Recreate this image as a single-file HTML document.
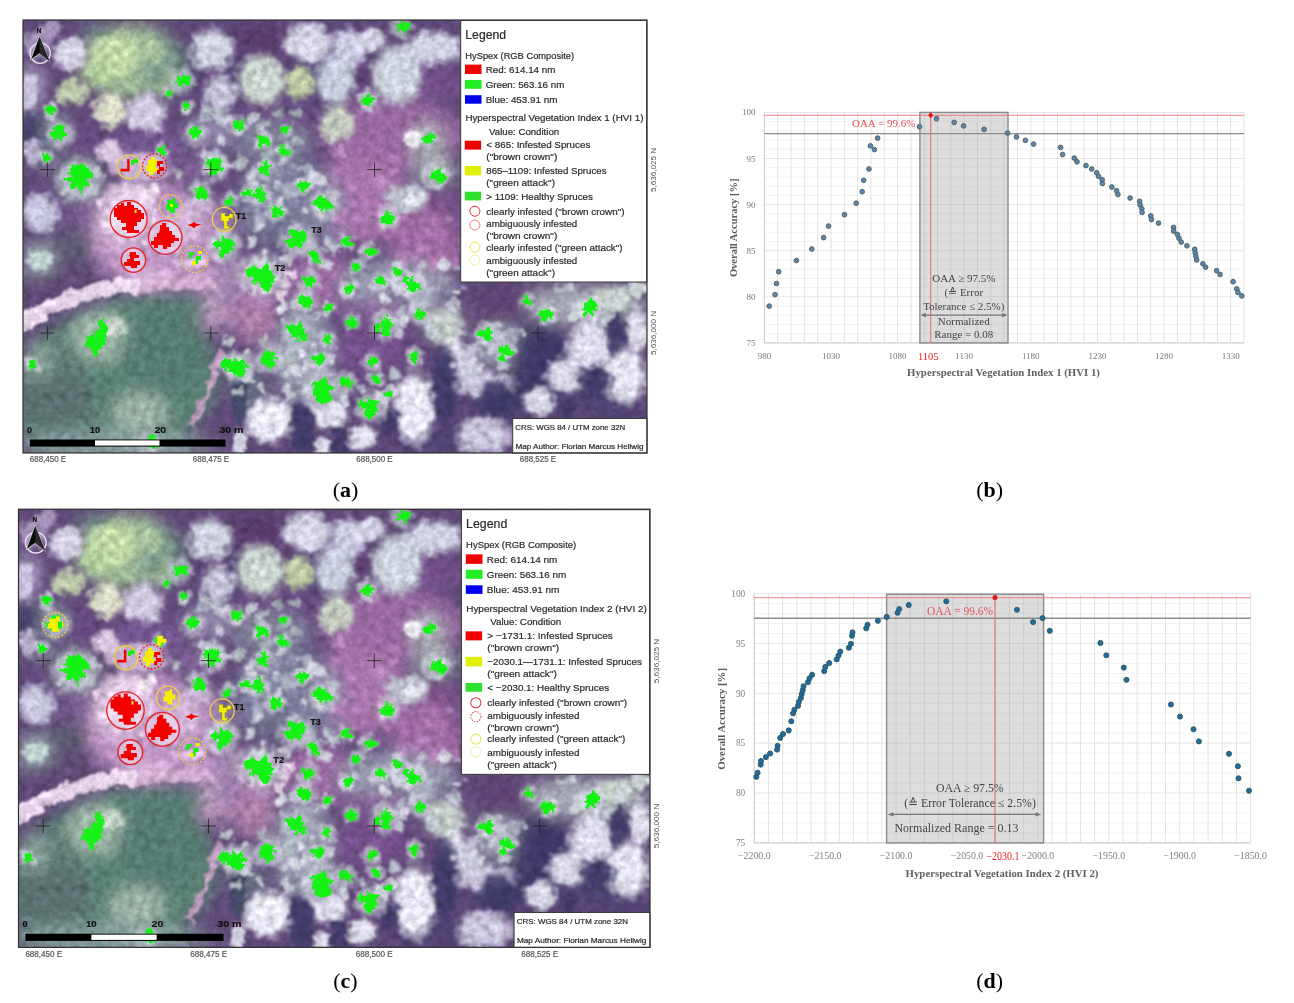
<!DOCTYPE html>
<html><head><meta charset="utf-8"><style>
html,body{margin:0;padding:0;background:#fff;}
#root{position:relative;width:1294px;height:1003px;overflow:hidden;background:#fff;}
svg{position:absolute;left:0;top:0;filter:blur(0.4px);}
</style></head><body><div id="root">
<svg width="1294" height="1003" viewBox="0 0 1294 1003">
<defs>

<filter id="blW" x="-20%" y="-20%" width="140%" height="140%"><feGaussianBlur stdDeviation="8"/></filter>
<filter id="crown" x="-10%" y="-10%" width="120%" height="120%">
 <feTurbulence type="fractalNoise" baseFrequency="0.11" numOctaves="2" seed="3" result="n"/>
 <feDisplacementMap in="SourceGraphic" in2="n" scale="14" xChannelSelector="R" yChannelSelector="G" result="d"/>
 <feGaussianBlur in="d" stdDeviation="1.3"/>
</filter>
<filter id="gjag" x="-10%" y="-10%" width="120%" height="120%">
 <feTurbulence type="fractalNoise" baseFrequency="0.3" numOctaves="1" seed="5" result="n"/>
 <feDisplacementMap in="SourceGraphic" in2="n" scale="7" xChannelSelector="R" yChannelSelector="G"/>
</filter>
<filter id="texmod" x="0" y="0" width="1" height="1" color-interpolation-filters="sRGB">
 <feTurbulence type="fractalNoise" baseFrequency="0.13" numOctaves="3" seed="2" result="n"/>
 <feColorMatrix in="n" type="matrix" values="0.33 0.33 0.33 0 0  0.33 0.33 0.33 0 0  0.33 0.33 0.33 0 0  0 0 0 0 1" result="g"/>
 <feComposite in="SourceGraphic" in2="g" operator="arithmetic" k1="0.7" k2="0.65" k3="0" k4="0"/>
</filter>
<radialGradient id="rgs"><stop offset="0.6" stop-color="#fff"/><stop offset="1" stop-color="#000"/></radialGradient>
<mask id="soft" maskContentUnits="objectBoundingBox"><rect width="1" height="1" fill="url(#rgs)"/></mask>

<clipPath id="mclip"><rect x="23" y="20" width="624" height="433"/></clipPath>

<g id="mapbase" clip-path="url(#mclip)">
<g filter="url(#texmod)">
<rect x="23" y="20" width="624" height="433" fill="#604a78"/>
<g filter="url(#blW)">
<ellipse cx="130" cy="62" rx="52" ry="38" fill="#a0bc98" fill-opacity="1"/>
<ellipse cx="162" cy="66" rx="22" ry="30" fill="#7a9a8c" fill-opacity="0.9"/>
<ellipse cx="98" cy="33" rx="18" ry="9" fill="#6a8a88" fill-opacity="0.8"/>
<ellipse cx="193" cy="60" rx="10" ry="16" fill="#4a3a6a" fill-opacity="0.9"/>
<ellipse cx="35" cy="128" rx="16" ry="20" fill="#3e3a66" fill-opacity="0.9"/>
<ellipse cx="56" cy="128" rx="16" ry="16" fill="#8a9aa0" fill-opacity="0.7"/>
<ellipse cx="86" cy="138" rx="16" ry="22" fill="#6a4a84" fill-opacity="0.8"/>
<ellipse cx="150" cy="145" rx="35" ry="18" fill="#7a5a98" fill-opacity="0.8"/>
<ellipse cx="210" cy="132" rx="24" ry="18" fill="#a8a0c0" fill-opacity="0.7"/>
<ellipse cx="33" cy="85" rx="12" ry="20" fill="#c0b8d8" fill-opacity="0.8"/>
<ellipse cx="260" cy="40" rx="26" ry="18" fill="#5a3a6a" fill-opacity="0.9"/>
<ellipse cx="238" cy="80" rx="8" ry="25" fill="#3e3a66" fill-opacity="0.8"/>
<ellipse cx="316" cy="82" rx="7" ry="25" fill="#4a4a70" fill-opacity="0.8"/>
<ellipse cx="357" cy="73" rx="10" ry="10" fill="#5a3a6a" fill-opacity="0.8"/>
<ellipse cx="278" cy="116" rx="45" ry="14" fill="#6a4a84" fill-opacity="0.85"/>
<ellipse cx="272" cy="142" rx="40" ry="22" fill="#8a8ea4" fill-opacity="0.8"/>
<ellipse cx="392" cy="135" rx="72" ry="36" fill="#9a6aa2" fill-opacity="1.0"/>
<ellipse cx="436" cy="82" rx="25" ry="18" fill="#7a5290" fill-opacity="0.8"/>
<ellipse cx="428" cy="143" rx="18" ry="22" fill="#a8b4b0" fill-opacity="0.8"/>
<ellipse cx="79" cy="180" rx="22" ry="20" fill="#98a8a8" fill-opacity="0.8"/>
<ellipse cx="46" cy="158" rx="12" ry="12" fill="#8a9aa8" fill-opacity="0.8"/>
<ellipse cx="44" cy="197" rx="20" ry="8" fill="#6a4a84" fill-opacity="0.7"/>
<ellipse cx="85" cy="216" rx="30" ry="18" fill="#7a5a94" fill-opacity="0.8"/>
<ellipse cx="78" cy="245" rx="26" ry="20" fill="#5a5a70" fill-opacity="0.85"/>
<ellipse cx="40" cy="262" rx="16" ry="22" fill="#a0b4b4" fill-opacity="0.85"/>
<ellipse cx="150" cy="235" rx="60" ry="55" fill="#c096c4" fill-opacity="1.0"/>
<ellipse cx="124" cy="216" rx="25" ry="28" fill="#ecd8ec" fill-opacity="0.8"/>
<ellipse cx="63" cy="280" rx="40" ry="10" fill="#5e4a70" fill-opacity="0.8"/>
<ellipse cx="200" cy="170" rx="30" ry="12" fill="#8a6aa0" fill-opacity="0.8"/>
<ellipse cx="210" cy="230" rx="25" ry="35" fill="#a088b0" fill-opacity="0.8"/>
<ellipse cx="217" cy="290" rx="16" ry="20" fill="#c0a0c8" fill-opacity="0.8"/>
<ellipse cx="200" cy="250" rx="30" ry="40" fill="#b890c0" fill-opacity="0.9"/>
<ellipse cx="360" cy="200" rx="48" ry="44" fill="#a876ac" fill-opacity="1.0"/>
<ellipse cx="426" cy="205" rx="34" ry="14" fill="#86568e" fill-opacity="0.85"/>
<ellipse cx="426" cy="245" rx="36" ry="32" fill="#a06ca4" fill-opacity="1.0"/>
<ellipse cx="290" cy="205" rx="55" ry="45" fill="#8890a8" fill-opacity="0.75"/>
<ellipse cx="282" cy="231" rx="22" ry="18" fill="#6a6a88" fill-opacity="0.8"/>
<ellipse cx="245" cy="272" rx="12" ry="12" fill="#ecd8ec" fill-opacity="0.8"/>
<ellipse cx="258" cy="297" rx="25" ry="13" fill="#b888bc" fill-opacity="0.85"/>
<ellipse cx="318" cy="280" rx="34" ry="30" fill="#9c6aa2" fill-opacity="0.95"/>
<ellipse cx="397" cy="285" rx="60" ry="25" fill="#a8b0c0" fill-opacity="0.75"/>
<ellipse cx="393" cy="291" rx="7" ry="8" fill="#3e3a66" fill-opacity="0.8"/>
<ellipse cx="436" cy="172" rx="25" ry="12" fill="#a8b8b4" fill-opacity="0.8"/>
<ellipse cx="431" cy="225" rx="6" ry="6" fill="#d0a0c8" fill-opacity="0.8"/>
<ellipse cx="125" cy="375" rx="95" ry="72" fill="#5c8276" fill-opacity="1.0"/>
<ellipse cx="160" cy="308" rx="62" ry="14" fill="#5c8276" fill-opacity="1.0"/>
<ellipse cx="55" cy="395" rx="40" ry="65" fill="#5c7c74" fill-opacity="1.0"/>
<ellipse cx="110" cy="445" rx="95" ry="16" fill="#7a9696" fill-opacity="1.0"/>
<ellipse cx="100" cy="336" rx="28" ry="26" fill="#a8c0b0" fill-opacity="0.9"/>
<ellipse cx="165" cy="350" rx="45" ry="45" fill="#587a76" fill-opacity="0.9"/>
<ellipse cx="60" cy="400" rx="36" ry="28" fill="#5a7070" fill-opacity="0.9"/>
<ellipse cx="140" cy="412" rx="28" ry="20" fill="#a8bcb0" fill-opacity="0.85"/>
<ellipse cx="38" cy="360" rx="16" ry="20" fill="#90a8a0" fill-opacity="0.8"/>
<ellipse cx="120" cy="444" rx="100" ry="12" fill="#8aa0a0" fill-opacity="0.7"/>
<ellipse cx="217" cy="316" rx="16" ry="16" fill="#c8a0c8" fill-opacity="0.85"/>
<ellipse cx="255" cy="322" rx="22" ry="22" fill="#b888b0" fill-opacity="0.85"/>
<ellipse cx="304" cy="355" rx="28" ry="52" fill="#a8b0c0" fill-opacity="0.8"/>
<ellipse cx="371" cy="349" rx="40" ry="22" fill="#7a5290" fill-opacity="0.85"/>
<ellipse cx="376" cy="311" rx="44" ry="12" fill="#8a6098" fill-opacity="0.8"/>
<ellipse cx="444" cy="326" rx="20" ry="17" fill="#b8c4c0" fill-opacity="0.8"/>
<ellipse cx="251" cy="390" rx="18" ry="18" fill="#6a7888" fill-opacity="0.85"/>
<ellipse cx="505" cy="307" rx="20" ry="18" fill="#6a4a84" fill-opacity="0.85"/>
<ellipse cx="500" cy="347" rx="28" ry="24" fill="#a0a8b4" fill-opacity="0.8"/>
<ellipse cx="584" cy="304" rx="63" ry="20" fill="#b8c0c4" fill-opacity="0.8"/>
<ellipse cx="545" cy="353" rx="18" ry="25" fill="#4a3a6e" fill-opacity="0.9"/>
<ellipse cx="540" cy="365" rx="30" ry="45" fill="#3e3a66" fill-opacity="0.95"/>
<ellipse cx="500" cy="400" rx="25" ry="20" fill="#3e3a66" fill-opacity="0.9"/>
<ellipse cx="600" cy="390" rx="30" ry="25" fill="#48406e" fill-opacity="0.9"/>
<ellipse cx="470" cy="440" rx="30" ry="15" fill="#4a4070" fill-opacity="0.9"/>
<ellipse cx="615" cy="330" rx="12" ry="25" fill="#3e3a66" fill-opacity="0.9"/>
<ellipse cx="505" cy="305" rx="25" ry="20" fill="#5e4272" fill-opacity="0.9"/>
<ellipse cx="630" cy="430" rx="20" ry="25" fill="#4a4070" fill-opacity="0.8"/>
<ellipse cx="420" cy="440" rx="25" ry="15" fill="#48406e" fill-opacity="0.8"/>
</g>
<g filter="url(#crown)">
<ellipse cx="70" cy="54" rx="20.8" ry="19.5" fill="#dcd8ec" fill-opacity="0.95" mask="url(#soft)"/>
<ellipse cx="36" cy="44" rx="16.9" ry="16.9" fill="#b4a6cc" fill-opacity="0.8" mask="url(#soft)"/>
<ellipse cx="29" cy="92" rx="11.7" ry="26.0" fill="#ccc4e0" fill-opacity="0.9" mask="url(#soft)"/>
<ellipse cx="52" cy="30" rx="13.0" ry="10.4" fill="#c0b4d4" fill-opacity="0.7" mask="url(#soft)"/>
<ellipse cx="115" cy="55" rx="28.6" ry="26.0" fill="#c8dca8" fill-opacity="0.9" mask="url(#soft)"/>
<ellipse cx="150" cy="50" rx="18.2" ry="18.2" fill="#b0c8a0" fill-opacity="0.8" mask="url(#soft)"/>
<ellipse cx="168" cy="84" rx="15.6" ry="15.6" fill="#98b090" fill-opacity="0.8" mask="url(#soft)"/>
<ellipse cx="100" cy="72" rx="18.2" ry="15.6" fill="#b8d4a0" fill-opacity="0.8" mask="url(#soft)"/>
<ellipse cx="72" cy="92" rx="19.5" ry="15.6" fill="#c8d8b0" fill-opacity="0.9" mask="url(#soft)"/>
<ellipse cx="110" cy="111" rx="20.8" ry="20.8" fill="#e0e4cc" fill-opacity="0.95" mask="url(#soft)"/>
<ellipse cx="146" cy="114" rx="24.7" ry="23.4" fill="#d8d0e8" fill-opacity="0.95" mask="url(#soft)"/>
<ellipse cx="212" cy="50" rx="26.0" ry="24.7" fill="#d8dce8" fill-opacity="0.95" mask="url(#soft)"/>
<ellipse cx="220" cy="94" rx="20.8" ry="22.1" fill="#d0d0e4" fill-opacity="0.9" mask="url(#soft)"/>
<ellipse cx="110" cy="152" rx="15.6" ry="15.6" fill="#e0d0e8" fill-opacity="0.95" mask="url(#soft)"/>
<ellipse cx="32" cy="152" rx="11.7" ry="15.6" fill="#c8c0dc" fill-opacity="0.85" mask="url(#soft)"/>
<ellipse cx="40" cy="213" rx="23.4" ry="22.1" fill="#d0d0e8" fill-opacity="0.95" mask="url(#soft)"/>
<ellipse cx="39" cy="260" rx="15.6" ry="13.0" fill="#c8dcd8" fill-opacity="0.9" mask="url(#soft)"/>
<ellipse cx="308" cy="42" rx="29.9" ry="23.4" fill="#dcdcec" fill-opacity="0.97" mask="url(#soft)"/>
<ellipse cx="350" cy="48" rx="22.1" ry="22.1" fill="#d4d4ec" fill-opacity="0.95" mask="url(#soft)"/>
<ellipse cx="370" cy="40" rx="19.5" ry="14.3" fill="#dcdcec" fill-opacity="0.9" mask="url(#soft)"/>
<ellipse cx="433" cy="48" rx="35.1" ry="19.5" fill="#d8dcec" fill-opacity="0.95" mask="url(#soft)"/>
<ellipse cx="397" cy="75" rx="31.2" ry="35.1" fill="#d4dce4" fill-opacity="0.95" mask="url(#soft)"/>
<ellipse cx="336" cy="80" rx="23.4" ry="31.2" fill="#ccd4e4" fill-opacity="0.95" mask="url(#soft)"/>
<ellipse cx="262" cy="80" rx="29.9" ry="31.2" fill="#d0dcd4" fill-opacity="0.95" mask="url(#soft)"/>
<ellipse cx="300" cy="83" rx="18.2" ry="19.5" fill="#c8d8a8" fill-opacity="0.9" mask="url(#soft)"/>
<ellipse cx="337" cy="124" rx="22.1" ry="22.1" fill="#c8d4c0" fill-opacity="0.9" mask="url(#soft)"/>
<ellipse cx="413" cy="138" rx="10.4" ry="13.0" fill="#f0f0f6" fill-opacity="0.95" mask="url(#soft)"/>
<ellipse cx="407" cy="198" rx="26.0" ry="18.2" fill="#c0c8d0" fill-opacity="0.9" mask="url(#soft)"/>
<ellipse cx="413" cy="199" rx="10.4" ry="9.1" fill="#f0f0f6" fill-opacity="0.9" mask="url(#soft)"/>
<ellipse cx="117" cy="327" rx="13.0" ry="13.0" fill="#d0dcd0" fill-opacity="0.8" mask="url(#soft)"/>
<ellipse cx="270" cy="420" rx="29.9" ry="27.3" fill="#e8e8f4" fill-opacity="1.0" mask="url(#soft)"/>
<ellipse cx="330" cy="415" rx="22.1" ry="16.9" fill="#e4e4f0" fill-opacity="0.95" mask="url(#soft)"/>
<ellipse cx="362" cy="438" rx="16.9" ry="16.9" fill="#e4e4f0" fill-opacity="0.95" mask="url(#soft)"/>
<ellipse cx="415" cy="408" rx="24.7" ry="42.9" fill="#e8e8f4" fill-opacity="1.0" mask="url(#soft)"/>
<ellipse cx="454" cy="353" rx="11.7" ry="23.4" fill="#e0e0ee" fill-opacity="0.95" mask="url(#soft)"/>
<ellipse cx="444" cy="326" rx="23.4" ry="22.1" fill="#c8d0cc" fill-opacity="0.85" mask="url(#soft)"/>
<ellipse cx="240" cy="442" rx="9.1" ry="16.9" fill="#e0e0ee" fill-opacity="0.9" mask="url(#soft)"/>
<ellipse cx="323" cy="447" rx="13.0" ry="10.4" fill="#e0e0ee" fill-opacity="0.9" mask="url(#soft)"/>
<ellipse cx="302" cy="429" rx="14.3" ry="33.8" fill="#3e3a66" fill-opacity="0.9" mask="url(#soft)"/>
<ellipse cx="445" cy="387" rx="15.6" ry="48.1" fill="#3e3a66" fill-opacity="0.9" mask="url(#soft)"/>
<ellipse cx="389" cy="421" rx="11.7" ry="15.6" fill="#3e3a66" fill-opacity="0.85" mask="url(#soft)"/>
<ellipse cx="340" cy="441" rx="9.1" ry="18.2" fill="#3e3a66" fill-opacity="0.85" mask="url(#soft)"/>
<ellipse cx="240" cy="397" rx="10.4" ry="33.8" fill="#3e4a66" fill-opacity="0.85" mask="url(#soft)"/>
<ellipse cx="590" cy="345" rx="28.6" ry="28.6" fill="#dcdcec" fill-opacity="1.0" mask="url(#soft)"/>
<ellipse cx="638" cy="330" rx="13.0" ry="26.0" fill="#e0e0ee" fill-opacity="0.95" mask="url(#soft)"/>
<ellipse cx="624" cy="376" rx="27.3" ry="33.8" fill="#e4e4f0" fill-opacity="1.0" mask="url(#soft)"/>
<ellipse cx="567" cy="375" rx="24.7" ry="22.1" fill="#e0e0ee" fill-opacity="0.95" mask="url(#soft)"/>
<ellipse cx="468" cy="362" rx="16.9" ry="20.8" fill="#d8d8ea" fill-opacity="0.9" mask="url(#soft)"/>
<ellipse cx="484" cy="385" rx="36.4" ry="15.6" fill="#d4d0e6" fill-opacity="0.9" mask="url(#soft)"/>
<ellipse cx="539" cy="402" rx="18.2" ry="18.2" fill="#e0e0ee" fill-opacity="0.95" mask="url(#soft)"/>
<ellipse cx="484" cy="436" rx="33.8" ry="23.4" fill="#d8d4ea" fill-opacity="0.9" mask="url(#soft)"/>
<ellipse cx="496" cy="397" rx="19.5" ry="20.8" fill="#3e3a66" fill-opacity="0.9" mask="url(#soft)"/>
<ellipse cx="594" cy="380" rx="22.1" ry="15.6" fill="#3e3a66" fill-opacity="0.85" mask="url(#soft)"/>
<ellipse cx="613" cy="332" rx="10.4" ry="27.3" fill="#3e3a66" fill-opacity="0.85" mask="url(#soft)"/>
<ellipse cx="568" cy="411" rx="10.4" ry="11.7" fill="#3e3a66" fill-opacity="0.8" mask="url(#soft)"/>
<ellipse cx="612" cy="300" rx="23.4" ry="16.9" fill="#c8d4cc" fill-opacity="0.9" mask="url(#soft)"/>
<ellipse cx="128" cy="195" rx="26.0" ry="15.6" fill="#e8d0ea" fill-opacity="0.9" mask="url(#soft)"/>
<ellipse cx="140" cy="166" rx="36.4" ry="18.2" fill="#dcc4e0" fill-opacity="0.85" mask="url(#soft)"/>
<ellipse cx="185" cy="225" rx="23.4" ry="23.4" fill="#d8bcdc" fill-opacity="0.85" mask="url(#soft)"/>
<ellipse cx="150" cy="278" rx="32.5" ry="13.0" fill="#d8b8dc" fill-opacity="0.8" mask="url(#soft)"/>
<ellipse cx="200" cy="205" rx="15.6" ry="13.0" fill="#d0b4d8" fill-opacity="0.8" mask="url(#soft)"/>
<ellipse cx="308.9" cy="167.5" rx="5.3" ry="5.3" fill="#b0b8c8" fill-opacity="0.9" mask="url(#soft)"/>
<ellipse cx="251.9" cy="175.2" rx="7.8" ry="7.8" fill="#c8ccd8" fill-opacity="0.9" mask="url(#soft)"/>
<ellipse cx="303.3" cy="168.2" rx="4.4" ry="4.4" fill="#b0b8c8" fill-opacity="0.9" mask="url(#soft)"/>
<ellipse cx="293.6" cy="167.7" rx="4.9" ry="4.9" fill="#9aa0b8" fill-opacity="0.9" mask="url(#soft)"/>
<ellipse cx="261.1" cy="223.9" rx="8.1" ry="8.1" fill="#c8ccd8" fill-opacity="0.9" mask="url(#soft)"/>
<ellipse cx="322.5" cy="181.0" rx="6.1" ry="6.1" fill="#d8dae6" fill-opacity="0.9" mask="url(#soft)"/>
<ellipse cx="253.7" cy="260.7" rx="5.7" ry="5.7" fill="#c8ccd8" fill-opacity="0.9" mask="url(#soft)"/>
<ellipse cx="279.3" cy="200.9" rx="5.7" ry="5.7" fill="#d8dae6" fill-opacity="0.9" mask="url(#soft)"/>
<ellipse cx="328.0" cy="238.0" rx="6.7" ry="6.7" fill="#9aa0b8" fill-opacity="0.9" mask="url(#soft)"/>
<ellipse cx="245.0" cy="194.3" rx="7.2" ry="7.2" fill="#d8dae6" fill-opacity="0.9" mask="url(#soft)"/>
<ellipse cx="301.8" cy="235.5" rx="4.1" ry="4.1" fill="#b0b8c8" fill-opacity="0.9" mask="url(#soft)"/>
<ellipse cx="324.1" cy="263.5" rx="8.3" ry="8.3" fill="#c8ccd8" fill-opacity="0.9" mask="url(#soft)"/>
<ellipse cx="279.3" cy="210.3" rx="8.2" ry="8.2" fill="#b0b8c8" fill-opacity="0.9" mask="url(#soft)"/>
<ellipse cx="278.2" cy="186.0" rx="5.3" ry="5.3" fill="#c8ccd8" fill-opacity="0.9" mask="url(#soft)"/>
<ellipse cx="305.4" cy="182.1" rx="7.7" ry="7.7" fill="#b0b8c8" fill-opacity="0.9" mask="url(#soft)"/>
<ellipse cx="288.7" cy="192.0" rx="8.7" ry="8.7" fill="#b0b8c8" fill-opacity="0.9" mask="url(#soft)"/>
<ellipse cx="314.0" cy="249.3" rx="7.9" ry="7.9" fill="#b0b8c8" fill-opacity="0.9" mask="url(#soft)"/>
<ellipse cx="329.7" cy="245.5" rx="6.0" ry="6.0" fill="#c8ccd8" fill-opacity="0.9" mask="url(#soft)"/>
<ellipse cx="260.1" cy="259.3" rx="8.5" ry="8.5" fill="#d8dae6" fill-opacity="0.9" mask="url(#soft)"/>
<ellipse cx="260.2" cy="214.9" rx="8.5" ry="8.5" fill="#9aa0b8" fill-opacity="0.9" mask="url(#soft)"/>
<ellipse cx="252.3" cy="179.0" rx="7.8" ry="7.8" fill="#d8dae6" fill-opacity="0.9" mask="url(#soft)"/>
<ellipse cx="321.2" cy="207.8" rx="6.9" ry="6.9" fill="#d8dae6" fill-opacity="0.9" mask="url(#soft)"/>
<ellipse cx="261.0" cy="264.8" rx="6.5" ry="6.5" fill="#c8ccd8" fill-opacity="0.9" mask="url(#soft)"/>
<ellipse cx="322.2" cy="251.1" rx="4.7" ry="4.7" fill="#b0b8c8" fill-opacity="0.9" mask="url(#soft)"/>
<ellipse cx="326.3" cy="207.2" rx="4.2" ry="4.2" fill="#9aa0b8" fill-opacity="0.9" mask="url(#soft)"/>
<ellipse cx="303.9" cy="211.8" rx="5.2" ry="5.2" fill="#c8ccd8" fill-opacity="0.9" mask="url(#soft)"/>
<ellipse cx="313.6" cy="176.5" rx="8.5" ry="8.5" fill="#d8dae6" fill-opacity="0.9" mask="url(#soft)"/>
<ellipse cx="323.6" cy="199.0" rx="5.4" ry="5.4" fill="#b0b8c8" fill-opacity="0.9" mask="url(#soft)"/>
<ellipse cx="287.7" cy="260.4" rx="8.5" ry="8.5" fill="#d8dae6" fill-opacity="0.9" mask="url(#soft)"/>
<ellipse cx="346.8" cy="241.2" rx="6.5" ry="6.5" fill="#c8ccd8" fill-opacity="0.9" mask="url(#soft)"/>
<ellipse cx="335.2" cy="194.8" rx="7.2" ry="7.2" fill="#b0b8c8" fill-opacity="0.9" mask="url(#soft)"/>
<ellipse cx="253.4" cy="241.3" rx="6.7" ry="6.7" fill="#c8ccd8" fill-opacity="0.9" mask="url(#soft)"/>
<ellipse cx="304.3" cy="213.9" rx="4.5" ry="4.5" fill="#d8dae6" fill-opacity="0.9" mask="url(#soft)"/>
<ellipse cx="336.2" cy="248.2" rx="5.5" ry="5.5" fill="#c8ccd8" fill-opacity="0.9" mask="url(#soft)"/>
<ellipse cx="368.4" cy="288.1" rx="4.2" ry="4.2" fill="#d8dae6" fill-opacity="0.9" mask="url(#soft)"/>
<ellipse cx="397.3" cy="265.2" rx="6.9" ry="6.9" fill="#c8ccd8" fill-opacity="0.9" mask="url(#soft)"/>
<ellipse cx="355.2" cy="283.9" rx="6.0" ry="6.0" fill="#b0b8c8" fill-opacity="0.9" mask="url(#soft)"/>
<ellipse cx="402.3" cy="289.9" rx="7.7" ry="7.7" fill="#d8dae6" fill-opacity="0.9" mask="url(#soft)"/>
<ellipse cx="429.1" cy="293.7" rx="6.7" ry="6.7" fill="#b0b8c8" fill-opacity="0.9" mask="url(#soft)"/>
<ellipse cx="457.4" cy="291.9" rx="5.6" ry="5.6" fill="#d8dae6" fill-opacity="0.9" mask="url(#soft)"/>
<ellipse cx="393.3" cy="273.4" rx="4.1" ry="4.1" fill="#c8ccd8" fill-opacity="0.9" mask="url(#soft)"/>
<ellipse cx="409.4" cy="272.6" rx="4.8" ry="4.8" fill="#c8ccd8" fill-opacity="0.9" mask="url(#soft)"/>
<ellipse cx="423.5" cy="264.7" rx="4.2" ry="4.2" fill="#c8ccd8" fill-opacity="0.9" mask="url(#soft)"/>
<ellipse cx="441.4" cy="265.3" rx="4.8" ry="4.8" fill="#d8dae6" fill-opacity="0.9" mask="url(#soft)"/>
<ellipse cx="397.3" cy="286.8" rx="6.7" ry="6.7" fill="#d8dae6" fill-opacity="0.9" mask="url(#soft)"/>
<ellipse cx="408.0" cy="273.2" rx="5.7" ry="5.7" fill="#b0b8c8" fill-opacity="0.9" mask="url(#soft)"/>
<ellipse cx="362.5" cy="266.5" rx="5.6" ry="5.6" fill="#b0b8c8" fill-opacity="0.9" mask="url(#soft)"/>
<ellipse cx="388.5" cy="301.7" rx="4.1" ry="4.1" fill="#d8dae6" fill-opacity="0.9" mask="url(#soft)"/>
<ellipse cx="456.1" cy="266.5" rx="5.5" ry="5.5" fill="#b0b8c8" fill-opacity="0.9" mask="url(#soft)"/>
<ellipse cx="434.5" cy="267.0" rx="4.6" ry="4.6" fill="#d8dae6" fill-opacity="0.9" mask="url(#soft)"/>
<ellipse cx="392.9" cy="281.4" rx="5.0" ry="5.0" fill="#c8ccd8" fill-opacity="0.9" mask="url(#soft)"/>
<ellipse cx="443.2" cy="265.5" rx="7.1" ry="7.1" fill="#d8dae6" fill-opacity="0.9" mask="url(#soft)"/>
<ellipse cx="351.6" cy="292.0" rx="6.0" ry="6.0" fill="#c8ccd8" fill-opacity="0.9" mask="url(#soft)"/>
<ellipse cx="454.3" cy="304.6" rx="7.2" ry="7.2" fill="#c8ccd8" fill-opacity="0.9" mask="url(#soft)"/>
<ellipse cx="388.0" cy="284.1" rx="7.3" ry="7.3" fill="#c8ccd8" fill-opacity="0.9" mask="url(#soft)"/>
<ellipse cx="359.4" cy="262.1" rx="5.4" ry="5.4" fill="#b0b8c8" fill-opacity="0.9" mask="url(#soft)"/>
<ellipse cx="294.8" cy="369.7" rx="6.7" ry="6.7" fill="#dcdce8" fill-opacity="0.9" mask="url(#soft)"/>
<ellipse cx="314.4" cy="348.7" rx="4.6" ry="4.6" fill="#c8ccd8" fill-opacity="0.9" mask="url(#soft)"/>
<ellipse cx="330.4" cy="357.9" rx="6.0" ry="6.0" fill="#dcdce8" fill-opacity="0.9" mask="url(#soft)"/>
<ellipse cx="296.3" cy="305.0" rx="5.8" ry="5.8" fill="#dcdce8" fill-opacity="0.9" mask="url(#soft)"/>
<ellipse cx="288.2" cy="396.1" rx="4.2" ry="4.2" fill="#c8ccd8" fill-opacity="0.9" mask="url(#soft)"/>
<ellipse cx="283.6" cy="306.8" rx="7.3" ry="7.3" fill="#b8c0cc" fill-opacity="0.9" mask="url(#soft)"/>
<ellipse cx="286.2" cy="389.0" rx="4.9" ry="4.9" fill="#dcdce8" fill-opacity="0.9" mask="url(#soft)"/>
<ellipse cx="282.1" cy="308.2" rx="6.5" ry="6.5" fill="#dcdce8" fill-opacity="0.9" mask="url(#soft)"/>
<ellipse cx="307.2" cy="393.5" rx="4.7" ry="4.7" fill="#dcdce8" fill-opacity="0.9" mask="url(#soft)"/>
<ellipse cx="296.3" cy="326.6" rx="4.4" ry="4.4" fill="#dcdce8" fill-opacity="0.9" mask="url(#soft)"/>
<ellipse cx="295.6" cy="331.6" rx="6.8" ry="6.8" fill="#c8ccd8" fill-opacity="0.9" mask="url(#soft)"/>
<ellipse cx="280.5" cy="362.1" rx="6.1" ry="6.1" fill="#c8ccd8" fill-opacity="0.9" mask="url(#soft)"/>
<ellipse cx="283.8" cy="321.3" rx="4.9" ry="4.9" fill="#b8c0cc" fill-opacity="0.9" mask="url(#soft)"/>
<ellipse cx="325.8" cy="387.9" rx="5.3" ry="5.3" fill="#c8ccd8" fill-opacity="0.9" mask="url(#soft)"/>
<ellipse cx="302.8" cy="354.3" rx="5.1" ry="5.1" fill="#dcdce8" fill-opacity="0.9" mask="url(#soft)"/>
<ellipse cx="307.5" cy="366.8" rx="6.1" ry="6.1" fill="#dcdce8" fill-opacity="0.9" mask="url(#soft)"/>
<ellipse cx="285.4" cy="387.8" rx="4.9" ry="4.9" fill="#c8ccd8" fill-opacity="0.9" mask="url(#soft)"/>
<ellipse cx="318.6" cy="315.5" rx="5.0" ry="5.0" fill="#c8ccd8" fill-opacity="0.9" mask="url(#soft)"/>
<ellipse cx="512.2" cy="333.6" rx="6.4" ry="6.4" fill="#b0b8c8" fill-opacity="0.9" mask="url(#soft)"/>
<ellipse cx="500.3" cy="335.8" rx="7.4" ry="7.4" fill="#c8ccd8" fill-opacity="0.9" mask="url(#soft)"/>
<ellipse cx="477.2" cy="343.9" rx="5.0" ry="5.0" fill="#c8ccd8" fill-opacity="0.9" mask="url(#soft)"/>
<ellipse cx="490.7" cy="330.1" rx="7.7" ry="7.7" fill="#c8ccd8" fill-opacity="0.9" mask="url(#soft)"/>
<ellipse cx="513.5" cy="349.9" rx="5.6" ry="5.6" fill="#c8ccd8" fill-opacity="0.9" mask="url(#soft)"/>
<ellipse cx="478.3" cy="368.4" rx="6.6" ry="6.6" fill="#c8ccd8" fill-opacity="0.9" mask="url(#soft)"/>
<ellipse cx="502.6" cy="363.2" rx="6.2" ry="6.2" fill="#c8ccd8" fill-opacity="0.9" mask="url(#soft)"/>
<ellipse cx="496.1" cy="326.0" rx="5.3" ry="5.3" fill="#c8ccd8" fill-opacity="0.9" mask="url(#soft)"/>
<ellipse cx="522.3" cy="333.9" rx="4.9" ry="4.9" fill="#c8ccd8" fill-opacity="0.9" mask="url(#soft)"/>
<ellipse cx="491.8" cy="350.3" rx="7.3" ry="7.3" fill="#c8ccd8" fill-opacity="0.9" mask="url(#soft)"/>
<ellipse cx="637.6" cy="293.8" rx="4.7" ry="4.7" fill="#c8d0d0" fill-opacity="0.9" mask="url(#soft)"/>
<ellipse cx="632.1" cy="285.9" rx="7.7" ry="7.7" fill="#b8c0c8" fill-opacity="0.9" mask="url(#soft)"/>
<ellipse cx="619.6" cy="300.2" rx="7.4" ry="7.4" fill="#dcdce8" fill-opacity="0.9" mask="url(#soft)"/>
<ellipse cx="623.2" cy="294.9" rx="8.0" ry="8.0" fill="#c8d0d0" fill-opacity="0.9" mask="url(#soft)"/>
<ellipse cx="569.2" cy="286.4" rx="6.3" ry="6.3" fill="#c8d0d0" fill-opacity="0.9" mask="url(#soft)"/>
<ellipse cx="623.9" cy="302.0" rx="5.5" ry="5.5" fill="#c8d0d0" fill-opacity="0.9" mask="url(#soft)"/>
<ellipse cx="549.1" cy="309.4" rx="6.0" ry="6.0" fill="#b8c0c8" fill-opacity="0.9" mask="url(#soft)"/>
<ellipse cx="629.9" cy="320.8" rx="5.4" ry="5.4" fill="#dcdce8" fill-opacity="0.9" mask="url(#soft)"/>
<ellipse cx="585.2" cy="310.1" rx="8.3" ry="8.3" fill="#b8c0c8" fill-opacity="0.9" mask="url(#soft)"/>
<ellipse cx="639.3" cy="289.3" rx="8.9" ry="8.9" fill="#c8d0d0" fill-opacity="0.9" mask="url(#soft)"/>
<ellipse cx="594.2" cy="321.4" rx="4.1" ry="4.1" fill="#dcdce8" fill-opacity="0.9" mask="url(#soft)"/>
<ellipse cx="575.8" cy="312.0" rx="5.5" ry="5.5" fill="#dcdce8" fill-opacity="0.9" mask="url(#soft)"/>
<ellipse cx="645.0" cy="289.3" rx="8.6" ry="8.6" fill="#c8d0d0" fill-opacity="0.9" mask="url(#soft)"/>
<ellipse cx="553.1" cy="311.2" rx="3.9" ry="3.9" fill="#dcdce8" fill-opacity="0.9" mask="url(#soft)"/>
<ellipse cx="607.5" cy="319.8" rx="7.7" ry="7.7" fill="#c8d0d0" fill-opacity="0.9" mask="url(#soft)"/>
<ellipse cx="566.9" cy="287.6" rx="7.4" ry="7.4" fill="#b8c0c8" fill-opacity="0.9" mask="url(#soft)"/>
<ellipse cx="599.5" cy="309.5" rx="4.5" ry="4.5" fill="#b8c0c8" fill-opacity="0.9" mask="url(#soft)"/>
<ellipse cx="584.9" cy="309.7" rx="5.6" ry="5.6" fill="#dcdce8" fill-opacity="0.9" mask="url(#soft)"/>
<ellipse cx="558.3" cy="289.7" rx="6.1" ry="6.1" fill="#b8c0c8" fill-opacity="0.9" mask="url(#soft)"/>
<ellipse cx="606.3" cy="318.4" rx="7.1" ry="7.1" fill="#b8c0c8" fill-opacity="0.9" mask="url(#soft)"/>
<ellipse cx="572.2" cy="315.8" rx="5.5" ry="5.5" fill="#c8d0d0" fill-opacity="0.9" mask="url(#soft)"/>
<ellipse cx="575.2" cy="306.5" rx="7.3" ry="7.3" fill="#b8c0c8" fill-opacity="0.9" mask="url(#soft)"/>
<ellipse cx="204.2" cy="151.3" rx="5.9" ry="5.9" fill="#d0d0e0" fill-opacity="0.9" mask="url(#soft)"/>
<ellipse cx="186.2" cy="111.7" rx="5.9" ry="5.9" fill="#d0d0e0" fill-opacity="0.9" mask="url(#soft)"/>
<ellipse cx="215.9" cy="112.3" rx="7.6" ry="7.6" fill="#b8c0c8" fill-opacity="0.9" mask="url(#soft)"/>
<ellipse cx="219.4" cy="121.1" rx="4.7" ry="4.7" fill="#b8c0c8" fill-opacity="0.9" mask="url(#soft)"/>
<ellipse cx="178.1" cy="171.9" rx="6.3" ry="6.3" fill="#b8c0c8" fill-opacity="0.9" mask="url(#soft)"/>
<ellipse cx="205.1" cy="165.4" rx="6.1" ry="6.1" fill="#d0d0e0" fill-opacity="0.9" mask="url(#soft)"/>
<ellipse cx="221.0" cy="139.1" rx="4.9" ry="4.9" fill="#d0d0e0" fill-opacity="0.9" mask="url(#soft)"/>
<ellipse cx="220.4" cy="165.8" rx="7.3" ry="7.3" fill="#b8c0c8" fill-opacity="0.9" mask="url(#soft)"/>
<ellipse cx="226.4" cy="120.7" rx="7.0" ry="7.0" fill="#d0d0e0" fill-opacity="0.9" mask="url(#soft)"/>
<ellipse cx="209.2" cy="109.4" rx="4.9" ry="4.9" fill="#b8c0c8" fill-opacity="0.9" mask="url(#soft)"/>
<ellipse cx="205.1" cy="159.7" rx="6.5" ry="6.5" fill="#d0d0e0" fill-opacity="0.9" mask="url(#soft)"/>
<ellipse cx="214.3" cy="169.7" rx="7.4" ry="7.4" fill="#d0d0e0" fill-opacity="0.9" mask="url(#soft)"/>
<ellipse cx="228.8" cy="165.8" rx="5.6" ry="5.6" fill="#d0d0e0" fill-opacity="0.9" mask="url(#soft)"/>
<ellipse cx="204.4" cy="116.7" rx="7.3" ry="7.3" fill="#a8b0c0" fill-opacity="0.9" mask="url(#soft)"/>
<ellipse cx="70.4" cy="171.4" rx="5.6" ry="5.6" fill="#c8d0d0" fill-opacity="0.9" mask="url(#soft)"/>
<ellipse cx="85.1" cy="172.4" rx="4.1" ry="4.1" fill="#c8d0d0" fill-opacity="0.9" mask="url(#soft)"/>
<ellipse cx="69.4" cy="174.8" rx="6.2" ry="6.2" fill="#b0bcbc" fill-opacity="0.9" mask="url(#soft)"/>
<ellipse cx="65.5" cy="170.8" rx="5.7" ry="5.7" fill="#b0bcbc" fill-opacity="0.9" mask="url(#soft)"/>
<ellipse cx="62.6" cy="177.5" rx="5.3" ry="5.3" fill="#c8d0d0" fill-opacity="0.9" mask="url(#soft)"/>
<ellipse cx="62.5" cy="193.6" rx="4.9" ry="4.9" fill="#b0bcbc" fill-opacity="0.9" mask="url(#soft)"/>
<ellipse cx="94.3" cy="191.1" rx="4.9" ry="4.9" fill="#b0bcbc" fill-opacity="0.9" mask="url(#soft)"/>
<ellipse cx="97.7" cy="173.3" rx="4.9" ry="4.9" fill="#c8d0d0" fill-opacity="0.9" mask="url(#soft)"/>
<ellipse cx="265.1" cy="289.9" rx="7.0" ry="7.0" fill="#f0e0f0" fill-opacity="0.9" mask="url(#soft)"/>
<ellipse cx="262.4" cy="272.4" rx="5.8" ry="5.8" fill="#e8d0ec" fill-opacity="0.9" mask="url(#soft)"/>
<ellipse cx="254.2" cy="287.8" rx="5.5" ry="5.5" fill="#f0e0f0" fill-opacity="0.9" mask="url(#soft)"/>
<ellipse cx="281.4" cy="296.9" rx="7.7" ry="7.7" fill="#f0e0f0" fill-opacity="0.9" mask="url(#soft)"/>
<ellipse cx="285.0" cy="284.5" rx="6.5" ry="6.5" fill="#f0e0f0" fill-opacity="0.9" mask="url(#soft)"/>
<ellipse cx="270.7" cy="267.2" rx="5.7" ry="5.7" fill="#f0e0f0" fill-opacity="0.9" mask="url(#soft)"/>
<ellipse cx="250.0" cy="274.4" rx="5.7" ry="5.7" fill="#e8d0ec" fill-opacity="0.9" mask="url(#soft)"/>
<ellipse cx="277.1" cy="276.4" rx="6.8" ry="6.8" fill="#e8d0ec" fill-opacity="0.9" mask="url(#soft)"/>
<ellipse cx="249.6" cy="265.1" rx="4.0" ry="4.0" fill="#f0e0f0" fill-opacity="0.9" mask="url(#soft)"/>
<ellipse cx="290.0" cy="275.3" rx="6.4" ry="6.4" fill="#f0e0f0" fill-opacity="0.9" mask="url(#soft)"/>
<ellipse cx="145.3" cy="242.0" rx="4.9" ry="4.9" fill="#f0e0f0" fill-opacity="0.9" mask="url(#soft)"/>
<ellipse cx="137.3" cy="199.3" rx="6.4" ry="6.4" fill="#f0e0f0" fill-opacity="0.9" mask="url(#soft)"/>
<ellipse cx="133.8" cy="198.1" rx="7.5" ry="7.5" fill="#e8d0ec" fill-opacity="0.9" mask="url(#soft)"/>
<ellipse cx="110.1" cy="221.4" rx="7.8" ry="7.8" fill="#f0e0f0" fill-opacity="0.9" mask="url(#soft)"/>
<ellipse cx="146.7" cy="194.8" rx="5.5" ry="5.5" fill="#f4eaf4" fill-opacity="0.9" mask="url(#soft)"/>
<ellipse cx="101.5" cy="203.7" rx="7.4" ry="7.4" fill="#e8d0ec" fill-opacity="0.9" mask="url(#soft)"/>
<ellipse cx="123.8" cy="227.9" rx="4.3" ry="4.3" fill="#f4eaf4" fill-opacity="0.9" mask="url(#soft)"/>
<ellipse cx="149.8" cy="199.6" rx="7.5" ry="7.5" fill="#e8d0ec" fill-opacity="0.9" mask="url(#soft)"/>
<ellipse cx="151.0" cy="221.0" rx="4.5" ry="4.5" fill="#f4eaf4" fill-opacity="0.9" mask="url(#soft)"/>
<ellipse cx="147.0" cy="205.8" rx="6.1" ry="6.1" fill="#e8d0ec" fill-opacity="0.9" mask="url(#soft)"/>
<ellipse cx="104.1" cy="223.9" rx="4.0" ry="4.0" fill="#e8d0ec" fill-opacity="0.9" mask="url(#soft)"/>
<ellipse cx="149.3" cy="191.3" rx="8.9" ry="8.9" fill="#f4eaf4" fill-opacity="0.9" mask="url(#soft)"/>
<ellipse cx="153.5" cy="212.6" rx="4.7" ry="4.7" fill="#f0e0f0" fill-opacity="0.9" mask="url(#soft)"/>
<ellipse cx="144.0" cy="242.9" rx="5.3" ry="5.3" fill="#f4eaf4" fill-opacity="0.9" mask="url(#soft)"/>
<ellipse cx="202.6" cy="260.6" rx="7.1" ry="7.1" fill="#d8b8dc" fill-opacity="0.9" mask="url(#soft)"/>
<ellipse cx="177.7" cy="248.5" rx="7.5" ry="7.5" fill="#d8b8dc" fill-opacity="0.9" mask="url(#soft)"/>
<ellipse cx="208.5" cy="248.4" rx="5.7" ry="5.7" fill="#d8b8dc" fill-opacity="0.9" mask="url(#soft)"/>
<ellipse cx="178.5" cy="262.2" rx="5.2" ry="5.2" fill="#d8b8dc" fill-opacity="0.9" mask="url(#soft)"/>
<ellipse cx="171.7" cy="278.9" rx="5.2" ry="5.2" fill="#d8b8dc" fill-opacity="0.9" mask="url(#soft)"/>
<ellipse cx="190.6" cy="263.4" rx="4.6" ry="4.6" fill="#e8d0ec" fill-opacity="0.9" mask="url(#soft)"/>
<ellipse cx="199.6" cy="261.9" rx="6.9" ry="6.9" fill="#d8b8dc" fill-opacity="0.9" mask="url(#soft)"/>
<ellipse cx="195.5" cy="262.0" rx="7.0" ry="7.0" fill="#e8d0ec" fill-opacity="0.9" mask="url(#soft)"/>
<ellipse cx="176.2" cy="257.2" rx="4.8" ry="4.8" fill="#d8b8dc" fill-opacity="0.9" mask="url(#soft)"/>
<ellipse cx="186.0" cy="264.2" rx="5.6" ry="5.6" fill="#d8b8dc" fill-opacity="0.9" mask="url(#soft)"/>
<ellipse cx="352.9" cy="188.6" rx="5.1" ry="5.1" fill="#b07eb2" fill-opacity="0.9" mask="url(#soft)"/>
<ellipse cx="337.8" cy="166.4" rx="4.4" ry="4.4" fill="#b07eb2" fill-opacity="0.9" mask="url(#soft)"/>
<ellipse cx="342.5" cy="212.8" rx="5.0" ry="5.0" fill="#bc90c0" fill-opacity="0.9" mask="url(#soft)"/>
<ellipse cx="393.7" cy="220.8" rx="5.1" ry="5.1" fill="#bc90c0" fill-opacity="0.9" mask="url(#soft)"/>
<ellipse cx="341.7" cy="151.2" rx="6.0" ry="6.0" fill="#bc90c0" fill-opacity="0.9" mask="url(#soft)"/>
<ellipse cx="333.0" cy="154.6" rx="5.0" ry="5.0" fill="#b07eb2" fill-opacity="0.9" mask="url(#soft)"/>
<ellipse cx="371.5" cy="214.0" rx="4.3" ry="4.3" fill="#b07eb2" fill-opacity="0.9" mask="url(#soft)"/>
<ellipse cx="367.3" cy="189.9" rx="5.6" ry="5.6" fill="#b07eb2" fill-opacity="0.9" mask="url(#soft)"/>
<ellipse cx="392.8" cy="171.5" rx="7.3" ry="7.3" fill="#b07eb2" fill-opacity="0.9" mask="url(#soft)"/>
<ellipse cx="383.4" cy="184.1" rx="4.2" ry="4.2" fill="#b07eb2" fill-opacity="0.9" mask="url(#soft)"/>
<ellipse cx="339.9" cy="218.9" rx="7.6" ry="7.6" fill="#b07eb2" fill-opacity="0.9" mask="url(#soft)"/>
<ellipse cx="394.6" cy="160.1" rx="6.9" ry="6.9" fill="#b07eb2" fill-opacity="0.9" mask="url(#soft)"/>
<ellipse cx="380.4" cy="182.3" rx="7.4" ry="7.4" fill="#bc90c0" fill-opacity="0.9" mask="url(#soft)"/>
<ellipse cx="385.9" cy="234.2" rx="5.1" ry="5.1" fill="#b07eb2" fill-opacity="0.9" mask="url(#soft)"/>
<ellipse cx="434.6" cy="259.4" rx="7.6" ry="7.6" fill="#a874aa" fill-opacity="0.9" mask="url(#soft)"/>
<ellipse cx="435.7" cy="230.9" rx="4.2" ry="4.2" fill="#a874aa" fill-opacity="0.9" mask="url(#soft)"/>
<ellipse cx="406.3" cy="219.5" rx="3.9" ry="3.9" fill="#b484b8" fill-opacity="0.9" mask="url(#soft)"/>
<ellipse cx="439.8" cy="243.2" rx="4.0" ry="4.0" fill="#b484b8" fill-opacity="0.9" mask="url(#soft)"/>
<ellipse cx="441.0" cy="257.2" rx="5.7" ry="5.7" fill="#a874aa" fill-opacity="0.9" mask="url(#soft)"/>
<ellipse cx="455.1" cy="262.3" rx="6.3" ry="6.3" fill="#a874aa" fill-opacity="0.9" mask="url(#soft)"/>
<ellipse cx="422.6" cy="247.7" rx="6.4" ry="6.4" fill="#b484b8" fill-opacity="0.9" mask="url(#soft)"/>
<ellipse cx="448.7" cy="219.3" rx="4.5" ry="4.5" fill="#b484b8" fill-opacity="0.9" mask="url(#soft)"/>
<ellipse cx="433.7" cy="264.5" rx="7.5" ry="7.5" fill="#b484b8" fill-opacity="0.9" mask="url(#soft)"/>
<ellipse cx="403.1" cy="256.3" rx="6.6" ry="6.6" fill="#b484b8" fill-opacity="0.9" mask="url(#soft)"/>
<ellipse cx="427.5" cy="244.6" rx="4.2" ry="4.2" fill="#a874aa" fill-opacity="0.9" mask="url(#soft)"/>
<ellipse cx="452.8" cy="259.1" rx="6.3" ry="6.3" fill="#a874aa" fill-opacity="0.9" mask="url(#soft)"/>
<ellipse cx="240.1" cy="163.0" rx="7.2" ry="7.2" fill="#c8ccd4" fill-opacity="0.9" mask="url(#soft)"/>
<ellipse cx="278.8" cy="113.1" rx="6.9" ry="6.9" fill="#a8b4b8" fill-opacity="0.9" mask="url(#soft)"/>
<ellipse cx="277.9" cy="152.4" rx="4.6" ry="4.6" fill="#c8ccd4" fill-opacity="0.9" mask="url(#soft)"/>
<ellipse cx="283.8" cy="160.6" rx="4.6" ry="4.6" fill="#c8ccd4" fill-opacity="0.9" mask="url(#soft)"/>
<ellipse cx="267.0" cy="155.2" rx="7.7" ry="7.7" fill="#a8b4b8" fill-opacity="0.9" mask="url(#soft)"/>
<ellipse cx="260.1" cy="129.7" rx="6.5" ry="6.5" fill="#b8c0c8" fill-opacity="0.9" mask="url(#soft)"/>
<ellipse cx="258.7" cy="148.8" rx="5.0" ry="5.0" fill="#a8b4b8" fill-opacity="0.9" mask="url(#soft)"/>
<ellipse cx="296.5" cy="141.2" rx="5.7" ry="5.7" fill="#a8b4b8" fill-opacity="0.9" mask="url(#soft)"/>
<ellipse cx="252.7" cy="118.1" rx="6.9" ry="6.9" fill="#c8ccd4" fill-opacity="0.9" mask="url(#soft)"/>
<ellipse cx="297.3" cy="112.1" rx="7.3" ry="7.3" fill="#a8b4b8" fill-opacity="0.9" mask="url(#soft)"/>
<ellipse cx="265.2" cy="121.9" rx="5.3" ry="5.3" fill="#a8b4b8" fill-opacity="0.9" mask="url(#soft)"/>
<ellipse cx="281.8" cy="152.3" rx="4.7" ry="4.7" fill="#c8ccd4" fill-opacity="0.9" mask="url(#soft)"/>
<ellipse cx="243.2" cy="127.3" rx="7.3" ry="7.3" fill="#a8b4b8" fill-opacity="0.9" mask="url(#soft)"/>
<ellipse cx="242.5" cy="163.6" rx="6.3" ry="6.3" fill="#b8c0c8" fill-opacity="0.9" mask="url(#soft)"/>
<ellipse cx="288.4" cy="128.5" rx="4.0" ry="4.0" fill="#a8b4b8" fill-opacity="0.9" mask="url(#soft)"/>
<ellipse cx="240.3" cy="164.6" rx="7.5" ry="7.5" fill="#a8b4b8" fill-opacity="0.9" mask="url(#soft)"/>
<ellipse cx="296.2" cy="372.8" rx="4.5" ry="4.5" fill="#d0d4dc" fill-opacity="0.9" mask="url(#soft)"/>
<ellipse cx="249.0" cy="376.4" rx="5.5" ry="5.5" fill="#b0bcc0" fill-opacity="0.9" mask="url(#soft)"/>
<ellipse cx="298.6" cy="347.4" rx="6.0" ry="6.0" fill="#b0bcc0" fill-opacity="0.9" mask="url(#soft)"/>
<ellipse cx="241.7" cy="369.8" rx="6.8" ry="6.8" fill="#c0c8cc" fill-opacity="0.9" mask="url(#soft)"/>
<ellipse cx="290.2" cy="349.4" rx="7.0" ry="7.0" fill="#b0bcc0" fill-opacity="0.9" mask="url(#soft)"/>
<ellipse cx="252.5" cy="381.6" rx="4.9" ry="4.9" fill="#c0c8cc" fill-opacity="0.9" mask="url(#soft)"/>
<ellipse cx="248.4" cy="350.8" rx="6.2" ry="6.2" fill="#d0d4dc" fill-opacity="0.9" mask="url(#soft)"/>
<ellipse cx="263.3" cy="341.4" rx="6.0" ry="6.0" fill="#b0bcc0" fill-opacity="0.9" mask="url(#soft)"/>
<ellipse cx="251.9" cy="380.1" rx="5.4" ry="5.4" fill="#b0bcc0" fill-opacity="0.9" mask="url(#soft)"/>
<ellipse cx="290.6" cy="393.8" rx="4.8" ry="4.8" fill="#b0bcc0" fill-opacity="0.9" mask="url(#soft)"/>
<ellipse cx="244.8" cy="380.9" rx="4.1" ry="4.1" fill="#d0d4dc" fill-opacity="0.9" mask="url(#soft)"/>
<ellipse cx="262.1" cy="389.5" rx="5.4" ry="5.4" fill="#d0d4dc" fill-opacity="0.9" mask="url(#soft)"/>
<ellipse cx="285.1" cy="373.1" rx="4.5" ry="4.5" fill="#c0c8cc" fill-opacity="0.9" mask="url(#soft)"/>
<ellipse cx="237.1" cy="392.8" rx="5.2" ry="5.2" fill="#c0c8cc" fill-opacity="0.9" mask="url(#soft)"/>
<ellipse cx="290.9" cy="359.7" rx="6.0" ry="6.0" fill="#b0bcc0" fill-opacity="0.9" mask="url(#soft)"/>
<ellipse cx="229.1" cy="341.1" rx="7.3" ry="7.3" fill="#c0c8cc" fill-opacity="0.9" mask="url(#soft)"/>
<ellipse cx="344.5" cy="403.3" rx="4.9" ry="4.9" fill="#dcdce8" fill-opacity="0.9" mask="url(#soft)"/>
<ellipse cx="381.6" cy="398.0" rx="7.2" ry="7.2" fill="#dcdce8" fill-opacity="0.9" mask="url(#soft)"/>
<ellipse cx="391.6" cy="387.2" rx="5.1" ry="5.1" fill="#dcdce8" fill-opacity="0.9" mask="url(#soft)"/>
<ellipse cx="393.2" cy="391.5" rx="6.0" ry="6.0" fill="#dcdce8" fill-opacity="0.9" mask="url(#soft)"/>
<ellipse cx="344.1" cy="397.2" rx="7.5" ry="7.5" fill="#c8ccd8" fill-opacity="0.9" mask="url(#soft)"/>
<ellipse cx="384.8" cy="389.4" rx="4.3" ry="4.3" fill="#dcdce8" fill-opacity="0.9" mask="url(#soft)"/>
<ellipse cx="382.2" cy="376.0" rx="4.5" ry="4.5" fill="#b8c0cc" fill-opacity="0.9" mask="url(#soft)"/>
<ellipse cx="394.2" cy="373.8" rx="7.0" ry="7.0" fill="#b8c0cc" fill-opacity="0.9" mask="url(#soft)"/>
<ellipse cx="361.5" cy="389.2" rx="4.9" ry="4.9" fill="#b8c0cc" fill-opacity="0.9" mask="url(#soft)"/>
<ellipse cx="374.0" cy="403.7" rx="4.6" ry="4.6" fill="#c8ccd8" fill-opacity="0.9" mask="url(#soft)"/>
<ellipse cx="401.9" cy="311.8" rx="6.6" ry="6.6" fill="#b8c0cc" fill-opacity="0.9" mask="url(#soft)"/>
<ellipse cx="425.3" cy="303.2" rx="5.7" ry="5.7" fill="#b8c0cc" fill-opacity="0.9" mask="url(#soft)"/>
<ellipse cx="390.4" cy="322.0" rx="7.4" ry="7.4" fill="#b8c0cc" fill-opacity="0.9" mask="url(#soft)"/>
<ellipse cx="424.4" cy="322.4" rx="4.5" ry="4.5" fill="#b8c0cc" fill-opacity="0.9" mask="url(#soft)"/>
<ellipse cx="427.8" cy="333.6" rx="5.1" ry="5.1" fill="#b8c0cc" fill-opacity="0.9" mask="url(#soft)"/>
<ellipse cx="408.2" cy="314.4" rx="5.1" ry="5.1" fill="#b8c0cc" fill-opacity="0.9" mask="url(#soft)"/>
<ellipse cx="420.7" cy="301.8" rx="5.4" ry="5.4" fill="#b8c0cc" fill-opacity="0.9" mask="url(#soft)"/>
<ellipse cx="399.3" cy="333.7" rx="5.1" ry="5.1" fill="#dcdce8" fill-opacity="0.9" mask="url(#soft)"/>
<ellipse cx="385.5" cy="298.3" rx="7.3" ry="7.3" fill="#dcdce8" fill-opacity="0.9" mask="url(#soft)"/>
<ellipse cx="430.0" cy="330.8" rx="6.8" ry="6.8" fill="#b8c0cc" fill-opacity="0.9" mask="url(#soft)"/>
<ellipse cx="414.7" cy="306.3" rx="7.0" ry="7.0" fill="#c8ccd8" fill-opacity="0.9" mask="url(#soft)"/>
<ellipse cx="404.0" cy="320.4" rx="6.5" ry="6.5" fill="#dcdce8" fill-opacity="0.9" mask="url(#soft)"/>
<ellipse cx="182" cy="80" rx="15.2" ry="15.2" fill="#b8c0cc" fill-opacity="0.75" mask="url(#soft)"/>
<ellipse cx="169" cy="94" rx="6.6" ry="6.6" fill="#b8c0cc" fill-opacity="0.75" mask="url(#soft)"/>
<ellipse cx="187" cy="107" rx="8.5" ry="8.5" fill="#ccd0da" fill-opacity="0.75" mask="url(#soft)"/>
<ellipse cx="50" cy="111" rx="11.4" ry="11.4" fill="#d0d4dc" fill-opacity="0.75" mask="url(#soft)"/>
<ellipse cx="60" cy="134" rx="17.1" ry="17.1" fill="#c4c8d4" fill-opacity="0.75" mask="url(#soft)"/>
<ellipse cx="46" cy="157" rx="9.5" ry="9.5" fill="#c4c8d4" fill-opacity="0.75" mask="url(#soft)"/>
<ellipse cx="195" cy="134" rx="13.3" ry="13.3" fill="#d0d4dc" fill-opacity="0.75" mask="url(#soft)"/>
<ellipse cx="163" cy="151" rx="9.5" ry="9.5" fill="#ccd0da" fill-opacity="0.75" mask="url(#soft)"/>
<ellipse cx="213" cy="162" rx="13.3" ry="13.3" fill="#b8c0cc" fill-opacity="0.75" mask="url(#soft)"/>
<ellipse cx="401" cy="27" rx="13.3" ry="13.3" fill="#b8c0cc" fill-opacity="0.75" mask="url(#soft)"/>
<ellipse cx="368" cy="101" rx="13.3" ry="13.3" fill="#d0d4dc" fill-opacity="0.75" mask="url(#soft)"/>
<ellipse cx="238" cy="126" rx="11.4" ry="11.4" fill="#d0d4dc" fill-opacity="0.75" mask="url(#soft)"/>
<ellipse cx="264" cy="140" rx="11.4" ry="11.4" fill="#d0d4dc" fill-opacity="0.75" mask="url(#soft)"/>
<ellipse cx="285" cy="130" rx="9.5" ry="9.5" fill="#b8c0cc" fill-opacity="0.75" mask="url(#soft)"/>
<ellipse cx="284" cy="152" rx="11.4" ry="11.4" fill="#b8c0cc" fill-opacity="0.75" mask="url(#soft)"/>
<ellipse cx="429" cy="138" rx="11.4" ry="11.4" fill="#b8c0cc" fill-opacity="0.75" mask="url(#soft)"/>
<ellipse cx="265" cy="163" rx="5.7" ry="5.7" fill="#d0d4dc" fill-opacity="0.75" mask="url(#soft)"/>
<ellipse cx="79" cy="180" rx="26.6" ry="26.6" fill="#c4c8d4" fill-opacity="0.75" mask="url(#soft)"/>
<ellipse cx="201" cy="193" rx="15.2" ry="15.2" fill="#c4c8d4" fill-opacity="0.75" mask="url(#soft)"/>
<ellipse cx="230" cy="200" rx="9.5" ry="9.5" fill="#b8c0cc" fill-opacity="0.75" mask="url(#soft)"/>
<ellipse cx="225" cy="245" rx="20.9" ry="20.9" fill="#c4c8d4" fill-opacity="0.75" mask="url(#soft)"/>
<ellipse cx="215" cy="166" rx="17.1" ry="17.1" fill="#ccd0da" fill-opacity="0.75" mask="url(#soft)"/>
<ellipse cx="266" cy="170" rx="13.3" ry="13.3" fill="#c4c8d4" fill-opacity="0.75" mask="url(#soft)"/>
<ellipse cx="248" cy="192" rx="9.5" ry="9.5" fill="#ccd0da" fill-opacity="0.75" mask="url(#soft)"/>
<ellipse cx="261" cy="195" rx="13.3" ry="13.3" fill="#d0d4dc" fill-opacity="0.75" mask="url(#soft)"/>
<ellipse cx="276" cy="211" rx="13.3" ry="13.3" fill="#d0d4dc" fill-opacity="0.75" mask="url(#soft)"/>
<ellipse cx="303" cy="185" rx="11.4" ry="11.4" fill="#d0d4dc" fill-opacity="0.75" mask="url(#soft)"/>
<ellipse cx="324" cy="205" rx="17.1" ry="17.1" fill="#d0d4dc" fill-opacity="0.75" mask="url(#soft)"/>
<ellipse cx="297" cy="240" rx="20.9" ry="20.9" fill="#d0d4dc" fill-opacity="0.75" mask="url(#soft)"/>
<ellipse cx="315" cy="257" rx="11.4" ry="11.4" fill="#b8c0cc" fill-opacity="0.75" mask="url(#soft)"/>
<ellipse cx="263" cy="275" rx="26.6" ry="26.6" fill="#ccd0da" fill-opacity="0.75" mask="url(#soft)"/>
<ellipse cx="309" cy="281" rx="13.3" ry="13.3" fill="#c4c8d4" fill-opacity="0.75" mask="url(#soft)"/>
<ellipse cx="305" cy="301" rx="15.2" ry="15.2" fill="#c4c8d4" fill-opacity="0.75" mask="url(#soft)"/>
<ellipse cx="346" cy="242" rx="11.4" ry="11.4" fill="#b8c0cc" fill-opacity="0.75" mask="url(#soft)"/>
<ellipse cx="369" cy="252" rx="11.4" ry="11.4" fill="#d0d4dc" fill-opacity="0.75" mask="url(#soft)"/>
<ellipse cx="355" cy="267" rx="9.5" ry="9.5" fill="#b8c0cc" fill-opacity="0.75" mask="url(#soft)"/>
<ellipse cx="380" cy="281" rx="11.4" ry="11.4" fill="#ccd0da" fill-opacity="0.75" mask="url(#soft)"/>
<ellipse cx="348" cy="290" rx="11.4" ry="11.4" fill="#d0d4dc" fill-opacity="0.75" mask="url(#soft)"/>
<ellipse cx="396" cy="272" rx="9.5" ry="9.5" fill="#ccd0da" fill-opacity="0.75" mask="url(#soft)"/>
<ellipse cx="411" cy="285" rx="17.1" ry="17.1" fill="#d0d4dc" fill-opacity="0.75" mask="url(#soft)"/>
<ellipse cx="388" cy="218" rx="15.2" ry="15.2" fill="#d0d4dc" fill-opacity="0.75" mask="url(#soft)"/>
<ellipse cx="437" cy="175" rx="17.1" ry="17.1" fill="#ccd0da" fill-opacity="0.75" mask="url(#soft)"/>
<ellipse cx="32" cy="365" rx="9.5" ry="9.5" fill="#d0d4dc" fill-opacity="0.75" mask="url(#soft)"/>
<ellipse cx="150" cy="443" rx="15.2" ry="15.2" fill="#b8c0cc" fill-opacity="0.75" mask="url(#soft)"/>
<ellipse cx="229" cy="365" rx="13.3" ry="13.3" fill="#ccd0da" fill-opacity="0.75" mask="url(#soft)"/>
<ellipse cx="306" cy="303" rx="11.4" ry="11.4" fill="#c4c8d4" fill-opacity="0.75" mask="url(#soft)"/>
<ellipse cx="328" cy="309" rx="9.5" ry="9.5" fill="#ccd0da" fill-opacity="0.75" mask="url(#soft)"/>
<ellipse cx="352" cy="321" rx="11.4" ry="11.4" fill="#b8c0cc" fill-opacity="0.75" mask="url(#soft)"/>
<ellipse cx="386" cy="324" rx="19.0" ry="19.0" fill="#ccd0da" fill-opacity="0.75" mask="url(#soft)"/>
<ellipse cx="420" cy="315" rx="11.4" ry="11.4" fill="#c4c8d4" fill-opacity="0.75" mask="url(#soft)"/>
<ellipse cx="297" cy="332" rx="19.0" ry="19.0" fill="#b8c0cc" fill-opacity="0.75" mask="url(#soft)"/>
<ellipse cx="328" cy="339" rx="11.4" ry="11.4" fill="#ccd0da" fill-opacity="0.75" mask="url(#soft)"/>
<ellipse cx="240" cy="366" rx="19.0" ry="19.0" fill="#ccd0da" fill-opacity="0.75" mask="url(#soft)"/>
<ellipse cx="270" cy="358" rx="19.0" ry="19.0" fill="#c4c8d4" fill-opacity="0.75" mask="url(#soft)"/>
<ellipse cx="319" cy="360" rx="13.3" ry="13.3" fill="#c4c8d4" fill-opacity="0.75" mask="url(#soft)"/>
<ellipse cx="372" cy="362" rx="11.4" ry="11.4" fill="#d0d4dc" fill-opacity="0.75" mask="url(#soft)"/>
<ellipse cx="414" cy="357" rx="11.4" ry="11.4" fill="#d0d4dc" fill-opacity="0.75" mask="url(#soft)"/>
<ellipse cx="322" cy="388" rx="24.7" ry="24.7" fill="#c4c8d4" fill-opacity="0.75" mask="url(#soft)"/>
<ellipse cx="347" cy="382" rx="13.3" ry="13.3" fill="#ccd0da" fill-opacity="0.75" mask="url(#soft)"/>
<ellipse cx="376" cy="379" rx="9.5" ry="9.5" fill="#c4c8d4" fill-opacity="0.75" mask="url(#soft)"/>
<ellipse cx="371" cy="406" rx="19.0" ry="19.0" fill="#d0d4dc" fill-opacity="0.75" mask="url(#soft)"/>
<ellipse cx="389" cy="395" rx="7.6" ry="7.6" fill="#b8c0cc" fill-opacity="0.75" mask="url(#soft)"/>
<ellipse cx="527" cy="301" rx="9.5" ry="9.5" fill="#c4c8d4" fill-opacity="0.75" mask="url(#soft)"/>
<ellipse cx="548" cy="314" rx="13.3" ry="13.3" fill="#ccd0da" fill-opacity="0.75" mask="url(#soft)"/>
<ellipse cx="588" cy="309" rx="17.1" ry="17.1" fill="#d0d4dc" fill-opacity="0.75" mask="url(#soft)"/>
<ellipse cx="487" cy="334" rx="13.3" ry="13.3" fill="#d0d4dc" fill-opacity="0.75" mask="url(#soft)"/>
<ellipse cx="506" cy="350" rx="13.3" ry="13.3" fill="#c4c8d4" fill-opacity="0.75" mask="url(#soft)"/>
<ellipse cx="502" cy="358" rx="7.6" ry="7.6" fill="#c4c8d4" fill-opacity="0.75" mask="url(#soft)"/>
<path d="M120 287 C150 283 175 282 215 282" stroke="#d8b4d8" stroke-width="14" fill="none" stroke-opacity="0.85"/><path d="M16 326 C40 311 70 297 100 290 C115 287 125 286 140 285" stroke="#f4e2f4" stroke-width="17" fill="none" stroke-opacity="0.9"/>
<path d="M222 350 C214 375 205 400 193 424" stroke="#d8a8d0" stroke-width="7" fill="none" stroke-opacity="0.8"/>
</g>
</g>
<g fill="#12f212" filter="url(#gjag)">
<path d="M101 318 H105 V324 H107 V338 H105 V346 H101 V350 H98 V356 H93 V350 H90 V347 H85 V340 H88 V336 H95 V330 H99 V322 Z"/>
<path d="M176.4 75.2 L180.8 76.7 L183.5 72.0 L184.4 77.2 L189.3 77.4 L186.1 80.8 L187.7 84.9 L183.6 84.4 L180.5 88.1 L179.2 83.3 L175.3 82.4 L177.4 79.1Z"/>
<path d="M190.2 78.4 L189.7 80.7 L187.6 82.1 L184.9 81.9 L183.6 79.6 L183.2 77.0 L186.0 76.8 L187.4 75.5 L190.1 75.8Z"/>
<path d="M190.5 81.4 L190.0 84.6 L186.6 84.0 L184.3 84.6 L183.3 82.4 L182.4 80.0 L184.1 77.9 L186.6 79.1 L188.4 79.5Z"/>
<path d="M189.2 79.8 L189.9 82.9 L186.9 84.1 L184.9 82.0 L182.0 81.3 L183.7 78.9 L184.2 76.3 L186.6 77.2 L187.8 78.3Z"/>
<path d="M171.9 91.5 L170.5 93.6 L172.1 94.6 L170.6 95.2 L170.8 97.3 L169.1 95.9 L167.5 97.5 L167.7 95.1 L165.8 94.8 L167.6 93.7 L166.1 91.9 L168.3 92.8 L168.9 90.7 L169.8 92.1Z"/>
<path d="M171.8 92.4 L170.9 93.1 L170.3 93.4 L169.1 94.0 L168.4 93.0 L169.0 92.0 L169.2 90.8 L170.3 91.0 L171.3 91.4Z"/>
<path d="M170.1 91.2 L170.5 92.7 L169.1 93.2 L167.6 93.3 L166.6 92.0 L167.4 90.7 L168.0 89.9 L169.0 90.0 L169.7 90.4Z"/>
<path d="M172.6 94.1 L172.5 94.8 L171.9 95.5 L171.3 94.8 L170.3 94.6 L170.6 93.7 L171.1 93.1 L172.0 92.4 L172.7 93.2Z"/>
<path d="M184.7 111.2 L185.3 107.8 L182.2 106.1 L185.5 105.4 L186.4 102.6 L188.1 105.0 L190.7 105.3 L188.8 107.3 L189.8 109.9 L187.3 109.5Z"/>
<path d="M188.1 104.6 L187.9 106.0 L186.7 107.2 L185.5 105.9 L183.4 105.7 L185.0 104.2 L184.9 102.3 L186.7 101.9 L187.3 103.8Z"/>
<path d="M188.7 104.7 L187.8 105.7 L186.9 106.6 L186.0 105.7 L185.5 105.1 L185.3 104.3 L185.4 102.7 L186.8 103.4 L188.2 103.4Z"/>
<path d="M188.3 103.7 L187.7 105.5 L185.8 105.5 L184.6 105.3 L183.5 104.4 L183.1 102.9 L184.8 102.5 L186.0 101.3 L187.5 102.1Z"/>
<path d="M56.6 110.8 L52.3 112.0 L54.0 115.7 L50.9 114.4 L49.0 116.4 L48.1 113.5 L45.4 113.4 L47.2 111.1 L44.4 108.5 L48.0 108.6 L48.4 104.9 L50.5 108.5 L53.3 106.5 L53.0 109.4Z"/>
<path d="M49.8 109.0 L47.8 110.0 L47.2 112.3 L45.8 110.4 L44.6 109.7 L44.1 108.1 L44.9 106.2 L47.0 106.9 L49.1 106.9Z"/>
<path d="M56.4 110.6 L55.6 111.8 L54.5 112.4 L53.4 112.0 L52.9 111.1 L52.8 110.1 L53.0 108.5 L54.7 107.7 L55.4 109.6Z"/>
<path d="M52.7 107.5 L53.8 109.7 L51.6 110.0 L50.0 109.5 L49.3 108.2 L48.6 106.6 L49.5 104.8 L51.5 105.1 L52.9 106.0Z"/>
<path d="M61.5 142.1 L57.8 138.6 L52.7 137.9 L55.9 133.4 L53.6 127.9 L59.3 130.4 L63.7 126.3 L64.1 131.8 L68.5 135.2 L63.0 136.9Z"/>
<path d="M63.2 127.8 L64.4 130.6 L61.4 129.8 L59.5 130.6 L57.2 129.2 L58.9 127.0 L59.2 124.5 L61.8 123.5 L63.8 125.5Z"/>
<path d="M62.3 130.2 L59.3 132.0 L57.8 134.1 L55.6 132.8 L52.1 132.0 L53.8 129.0 L55.1 126.7 L58.1 124.4 L61.2 126.7Z"/>
<path d="M57.9 133.5 L55.4 136.0 L53.2 137.4 L50.2 137.6 L48.9 134.9 L49.4 132.4 L50.7 130.4 L53.0 130.8 L55.2 131.3Z"/>
<path d="M43.8 153.1 L46.3 154.2 L49.1 153.6 L48.0 156.6 L51.0 159.2 L47.1 158.9 L45.4 162.4 L44.0 159.2 L41.1 158.0 L44.2 156.2Z"/>
<path d="M51.5 158.1 L50.8 159.9 L49.0 160.3 L47.6 159.8 L47.0 158.7 L47.4 157.6 L47.8 156.6 L49.1 155.6 L50.7 156.4Z"/>
<path d="M44.6 154.3 L44.7 155.9 L43.2 156.7 L41.6 156.3 L40.6 155.1 L40.5 153.5 L41.9 152.7 L43.2 152.0 L44.1 153.2Z"/>
<path d="M50.0 159.7 L49.9 161.1 L48.6 161.8 L47.4 161.0 L45.8 160.6 L46.3 159.0 L47.2 158.0 L48.4 158.6 L49.7 158.5Z"/>
<path d="M194.9 127.5 L196.7 131.6 L201.3 131.8 L197.9 134.9 L199.2 139.5 L195.1 137.9 L191.0 139.7 L191.3 135.3 L188.2 131.9 L193.1 131.5Z"/>
<path d="M193.2 131.1 L193.4 133.2 L191.4 133.8 L189.1 134.2 L187.9 132.2 L187.6 130.0 L189.7 129.0 L191.5 128.1 L193.5 129.0Z"/>
<path d="M202.0 132.0 L200.4 133.5 L199.3 135.3 L197.0 135.0 L195.9 133.1 L195.3 130.8 L196.9 129.0 L199.2 129.5 L200.7 130.3Z"/>
<path d="M198.6 128.7 L199.2 130.9 L197.3 132.2 L195.4 131.0 L193.8 129.8 L193.7 127.7 L195.1 126.1 L197.0 126.8 L199.1 126.7Z"/>
<path d="M165.8 147.5 L165.4 150.4 L167.7 152.8 L164.4 153.1 L162.8 155.3 L161.4 153.0 L158.2 152.3 L160.9 150.2 L160.6 147.4 L163.1 148.4Z"/>
<path d="M162.1 149.3 L161.7 150.8 L160.3 151.2 L158.8 151.3 L157.5 150.2 L157.8 148.5 L158.7 147.2 L160.1 148.0 L161.1 148.3Z"/>
<path d="M163.9 154.2 L163.7 155.8 L162.1 155.9 L160.5 156.4 L159.5 155.0 L160.4 153.7 L160.7 152.3 L162.1 152.5 L162.9 153.3Z"/>
<path d="M165.7 147.1 L165.6 148.3 L164.4 148.7 L163.3 148.6 L162.9 147.6 L162.2 146.4 L163.2 145.4 L164.6 144.8 L165.9 145.6Z"/>
<path d="M218.8 164.5 L214.8 164.4 L213.7 168.1 L211.6 165.2 L208.2 165.6 L209.0 162.5 L206.4 159.2 L210.8 159.0 L212.3 156.0 L214.2 159.1 L218.4 157.9 L216.3 161.6Z"/>
<path d="M220.1 160.8 L220.8 163.4 L218.1 162.6 L216.4 163.2 L215.5 161.7 L215.2 159.9 L216.7 159.1 L218.4 157.1 L219.8 159.1Z"/>
<path d="M214.8 167.0 L215.3 168.8 L213.5 168.7 L211.9 169.3 L211.1 167.8 L210.7 166.1 L211.5 164.0 L213.8 163.9 L215.0 165.5Z"/>
<path d="M221.1 163.3 L219.9 165.5 L217.8 166.0 L216.2 165.2 L214.2 164.4 L214.3 162.2 L215.2 159.7 L218.0 159.2 L219.9 161.2Z"/>
<path d="M403.6 33.5 L400.3 30.0 L396.4 30.9 L397.7 27.2 L395.3 23.4 L399.7 23.7 L402.5 21.2 L404.0 24.5 L407.5 26.5 L404.3 29.1Z"/>
<path d="M409.5 27.3 L409.9 29.9 L407.1 29.1 L405.8 29.1 L403.8 28.4 L403.7 26.2 L405.7 25.4 L407.4 24.0 L409.9 24.7Z"/>
<path d="M409.8 26.1 L409.3 28.1 L407.3 28.7 L405.5 28.5 L402.5 27.7 L404.0 25.1 L404.6 22.2 L407.6 21.7 L409.6 23.8Z"/>
<path d="M406.6 29.7 L407.3 32.1 L404.9 32.3 L403.2 31.9 L402.3 30.5 L400.9 28.4 L403.1 27.4 L404.8 27.5 L406.4 28.0Z"/>
<path d="M370.3 106.9 L367.2 103.9 L363.2 104.9 L363.9 101.2 L361.6 96.8 L366.8 97.9 L369.9 94.0 L370.7 98.8 L374.9 100.7 L370.8 102.8Z"/>
<path d="M367.2 98.0 L367.6 99.9 L365.7 100.5 L364.2 99.9 L362.2 99.1 L362.1 96.8 L364.5 96.5 L365.8 95.2 L367.0 96.5Z"/>
<path d="M368.0 100.6 L366.8 102.9 L364.4 102.8 L362.9 102.6 L362.1 101.3 L360.2 99.2 L362.8 98.5 L364.6 97.4 L366.2 98.7Z"/>
<path d="M374.2 99.8 L373.5 101.5 L371.9 102.8 L370.4 101.3 L368.4 100.8 L369.3 99.0 L370.0 97.5 L371.7 97.6 L373.0 98.4Z"/>
<path d="M243.1 127.9 L240.2 128.7 L239.0 131.9 L237.1 128.5 L234.0 129.3 L235.3 126.4 L232.8 124.0 L235.9 123.4 L237.0 119.5 L239.2 122.9 L243.0 121.9 L241.5 125.4Z"/>
<path d="M244.6 122.5 L243.7 124.4 L242.0 125.1 L239.7 125.6 L238.5 123.6 L239.8 121.9 L240.3 120.5 L242.0 119.7 L244.5 120.0Z"/>
<path d="M244.1 128.0 L242.9 129.6 L241.3 129.4 L239.6 130.5 L239.0 128.8 L238.7 127.2 L239.7 125.7 L241.5 125.5 L242.8 126.6Z"/>
<path d="M238.0 123.6 L236.5 125.0 L235.2 125.7 L233.3 126.2 L233.1 124.2 L232.9 122.9 L233.3 120.9 L235.1 122.0 L237.1 121.6Z"/>
<path d="M259.3 142.2 L261.2 139.8 L259.2 136.7 L262.5 136.8 L264.5 134.2 L265.6 137.6 L269.1 137.6 L266.5 140.2 L268.3 143.0 L265.2 142.5 L263.6 145.1 L262.5 142.2Z"/>
<path d="M264.2 143.7 L262.9 145.5 L261.2 146.1 L259.0 146.8 L257.1 145.0 L258.8 143.0 L259.3 141.2 L261.3 140.7 L263.0 141.8Z"/>
<path d="M270.9 142.6 L270.0 144.0 L268.9 145.7 L266.5 145.8 L266.5 143.3 L266.1 141.8 L266.5 139.4 L269.0 139.0 L270.9 140.4Z"/>
<path d="M261.6 137.1 L262.4 139.1 L260.6 140.8 L258.1 140.4 L257.0 138.2 L258.3 136.5 L258.2 134.1 L260.3 135.0 L262.3 135.2Z"/>
<path d="M286.2 134.8 L284.4 132.2 L281.9 133.0 L282.5 130.6 L280.3 128.7 L283.0 127.9 L283.9 125.5 L285.8 127.3 L288.5 126.6 L287.0 129.5 L289.9 131.4 L286.6 131.6Z"/>
<path d="M284.8 129.5 L284.0 130.8 L282.6 130.7 L281.7 130.7 L280.2 130.3 L281.2 129.0 L281.5 127.8 L282.7 127.8 L283.4 128.6Z"/>
<path d="M289.3 128.8 L288.2 129.5 L287.5 130.0 L286.4 130.2 L286.1 129.2 L286.1 128.4 L286.3 127.1 L287.6 126.6 L289.1 127.2Z"/>
<path d="M288.1 132.3 L288.1 133.7 L286.7 134.3 L285.1 134.5 L284.2 133.1 L283.4 131.2 L285.3 130.4 L286.6 130.8 L288.5 130.5Z"/>
<path d="M280.6 147.4 L283.6 148.6 L286.3 146.6 L286.1 150.5 L290.1 151.3 L286.6 153.1 L287.3 156.4 L284.3 154.8 L281.7 157.2 L281.9 153.6 L278.0 152.7 L280.8 150.6Z"/>
<path d="M283.2 150.7 L283.6 152.6 L281.7 153.4 L279.5 153.8 L278.6 151.7 L278.5 149.7 L280.2 148.8 L281.8 147.9 L282.9 149.3Z"/>
<path d="M291.4 152.5 L290.2 154.4 L288.3 154.5 L286.8 154.5 L285.5 153.4 L284.8 151.3 L286.9 150.7 L288.6 149.2 L290.5 150.4Z"/>
<path d="M283.7 147.6 L284.2 149.6 L282.1 149.4 L280.8 149.3 L279.0 148.6 L279.8 146.9 L280.0 144.5 L282.3 144.9 L283.6 146.1Z"/>
<path d="M427.7 143.7 L427.0 140.2 L422.7 140.0 L426.4 137.4 L425.1 134.4 L428.0 134.9 L430.3 131.9 L430.7 136.2 L434.3 136.3 L431.7 138.6 L433.4 142.0 L429.9 140.9Z"/>
<path d="M436.5 136.6 L434.6 137.6 L433.9 139.5 L432.6 138.0 L431.7 137.2 L430.2 135.4 L431.9 134.1 L433.7 134.7 L434.7 135.5Z"/>
<path d="M429.6 141.9 L428.5 143.5 L427.0 144.6 L425.7 143.2 L424.2 142.7 L424.7 141.2 L425.7 140.3 L426.9 140.0 L428.4 140.3Z"/>
<path d="M427.9 139.9 L427.4 141.6 L425.7 141.9 L423.6 143.0 L422.4 141.0 L422.1 138.7 L424.0 137.6 L426.0 136.3 L427.6 138.0Z"/>
<path d="M262.2 164.5 L263.2 163.1 L262.0 161.7 L263.9 161.8 L264.2 160.2 L265.2 161.8 L266.9 160.5 L266.3 162.3 L267.9 162.9 L266.4 163.6 L267.1 165.5 L265.4 164.5 L264.4 166.2 L263.9 164.4Z"/>
<path d="M268.2 164.0 L267.8 164.9 L266.9 165.7 L265.9 165.1 L265.7 164.3 L265.8 163.6 L266.1 163.0 L266.8 163.0 L268.1 162.7Z"/>
<path d="M266.4 160.5 L266.3 161.4 L265.4 161.2 L264.7 161.5 L263.9 161.0 L264.1 160.1 L264.7 159.6 L265.5 159.4 L265.9 160.0Z"/>
<path d="M263.5 162.5 L263.3 163.1 L262.8 163.7 L262.0 163.5 L261.0 163.1 L261.7 162.2 L262.0 161.6 L262.8 161.5 L263.3 161.9Z"/>
<path d="M81.6 195.2 L77.4 185.5 L69.4 190.8 L72.3 182.8 L63.7 179.2 L72.5 176.4 L71.4 169.3 L77.7 172.5 L82.6 167.4 L83.5 175.0 L90.2 175.3 L86.9 180.4 L90.2 186.1 L83.0 185.6Z"/>
<path d="M81.6 172.0 L80.1 175.4 L77.2 178.4 L74.0 175.6 L67.7 175.0 L70.5 169.9 L71.6 164.2 L77.4 164.4 L81.9 167.1Z"/>
<path d="M92.9 172.9 L93.2 178.4 L87.5 177.2 L83.2 179.1 L81.9 174.7 L80.1 170.5 L83.1 166.6 L87.6 168.5 L90.4 169.9Z"/>
<path d="M85.7 168.9 L85.6 171.8 L82.9 172.6 L79.6 173.5 L74.8 171.6 L77.4 167.2 L79.8 164.7 L83.2 163.5 L85.8 165.9Z"/>
<path d="M205.4 199.2 L201.8 197.7 L198.9 200.3 L198.6 195.7 L193.8 196.0 L197.5 192.8 L193.6 188.9 L198.6 189.6 L199.8 186.1 L202.3 188.4 L206.2 187.2 L204.3 191.6 L209.0 193.5 L205.1 195.3Z"/>
<path d="M202.3 196.3 L201.4 198.6 L199.1 198.5 L197.5 198.4 L195.4 197.5 L194.8 194.9 L197.0 193.4 L199.2 193.5 L201.9 193.6Z"/>
<path d="M208.0 195.0 L207.7 196.3 L206.8 198.8 L204.6 197.5 L204.2 195.7 L203.0 193.8 L203.9 191.1 L206.7 191.8 L208.3 193.2Z"/>
<path d="M205.6 189.3 L205.1 190.5 L204.4 193.0 L202.3 191.7 L200.1 190.6 L202.0 188.7 L202.6 187.4 L204.0 187.5 L205.7 187.7Z"/>
<path d="M229.2 195.5 L230.8 197.8 L233.2 197.2 L232.6 199.5 L234.5 201.6 L231.5 201.7 L231.0 205.3 L229.2 202.2 L226.2 203.2 L227.9 200.4 L225.2 198.3 L228.6 198.4Z"/>
<path d="M233.9 199.5 L233.8 200.5 L232.9 201.3 L231.8 200.9 L231.5 200.0 L231.5 199.1 L231.3 197.3 L232.9 198.1 L234.1 198.3Z"/>
<path d="M231.7 204.0 L231.4 205.4 L230.0 205.4 L228.9 205.6 L228.5 204.5 L227.8 203.3 L228.4 201.6 L230.2 201.8 L231.8 202.3Z"/>
<path d="M229.6 203.1 L228.8 204.0 L228.1 205.5 L226.5 205.2 L225.3 204.0 L225.6 202.3 L226.3 200.8 L228.2 200.3 L230.2 201.0Z"/>
<path d="M221.9 234.1 L227.2 238.9 L232.9 239.7 L230.7 245.2 L233.5 251.6 L226.7 251.0 L221.5 254.7 L220.1 248.3 L213.2 244.6 L220.9 241.8Z"/>
<path d="M219.4 244.2 L219.0 246.6 L217.0 249.0 L214.6 246.8 L213.6 245.1 L213.0 243.0 L214.8 241.9 L216.9 239.5 L219.9 241.0Z"/>
<path d="M235.5 243.9 L234.1 246.0 L232.1 246.9 L229.8 247.1 L228.7 244.9 L227.5 242.4 L229.2 239.7 L232.2 240.3 L233.9 242.0Z"/>
<path d="M228.5 253.3 L225.3 255.3 L223.6 256.9 L221.0 256.7 L219.0 254.8 L220.0 252.2 L220.8 249.5 L223.7 249.4 L227.4 249.7Z"/>
<path d="M215.5 158.2 L217.1 162.3 L222.6 160.7 L219.7 165.2 L223.2 168.4 L218.2 168.9 L218.2 173.9 L214.7 171.4 L210.4 174.3 L211.3 168.6 L205.8 167.5 L211.4 164.9 L209.1 160.7 L213.2 161.5Z"/>
<path d="M216.1 171.4 L215.9 174.5 L213.0 175.4 L210.2 175.2 L208.8 172.7 L209.1 170.3 L210.1 167.6 L213.0 167.5 L216.1 168.3Z"/>
<path d="M223.7 168.5 L222.7 171.1 L220.2 171.3 L217.5 172.2 L216.8 169.6 L217.4 167.7 L218.6 166.6 L220.1 166.1 L221.8 166.7Z"/>
<path d="M212.8 162.2 L210.9 164.2 L208.9 164.6 L206.2 166.1 L204.7 163.5 L206.2 161.4 L207.2 160.1 L208.9 159.5 L211.0 160.0Z"/>
<path d="M272.3 171.2 L268.3 171.7 L268.9 175.4 L266.1 173.6 L263.5 175.8 L263.2 172.4 L259.6 171.7 L262.9 169.4 L259.8 165.5 L264.6 167.3 L265.7 162.5 L267.4 166.8 L271.4 165.4 L268.9 169.2Z"/>
<path d="M269.2 164.3 L268.6 166.6 L266.3 167.2 L264.8 166.1 L263.5 165.2 L263.6 163.5 L264.7 162.3 L266.1 162.7 L268.0 162.5Z"/>
<path d="M264.7 170.9 L263.6 173.1 L261.3 172.8 L259.5 173.5 L258.9 171.6 L257.7 169.7 L259.6 168.4 L261.7 167.0 L263.8 168.5Z"/>
<path d="M268.0 164.9 L267.9 166.4 L266.7 168.6 L264.7 167.3 L263.6 165.8 L263.6 164.0 L264.4 162.0 L266.7 161.2 L268.2 163.1Z"/>
<path d="M242.7 191.8 L246.2 191.0 L245.1 188.0 L247.5 189.3 L249.4 186.9 L249.4 190.4 L252.8 189.9 L250.8 192.1 L252.1 194.2 L249.7 194.3 L248.8 196.4 L247.2 194.9 L244.7 195.8 L245.3 193.2Z"/>
<path d="M247.7 192.2 L246.5 193.7 L245.0 193.7 L243.5 194.5 L242.9 192.9 L243.5 191.8 L243.3 189.7 L245.0 190.9 L246.5 190.8Z"/>
<path d="M252.8 194.3 L252.8 196.2 L250.9 196.3 L249.6 195.8 L248.8 194.9 L248.9 193.7 L249.3 192.2 L250.9 192.3 L252.6 192.5Z"/>
<path d="M246.6 193.3 L246.4 194.7 L245.1 195.2 L243.1 196.2 L241.9 194.4 L241.9 192.3 L243.4 191.1 L245.1 191.2 L246.1 192.2Z"/>
<path d="M258.7 188.1 L261.4 192.0 L264.2 190.0 L264.4 192.9 L267.8 194.3 L264.2 196.2 L265.8 199.9 L262.2 198.7 L260.2 201.5 L258.9 198.3 L255.7 198.2 L256.8 195.4 L254.3 192.5 L258.7 192.7Z"/>
<path d="M258.9 195.8 L257.5 197.6 L255.7 197.6 L254.4 197.6 L253.6 196.5 L252.3 194.7 L253.6 192.6 L255.8 193.7 L258.0 193.6Z"/>
<path d="M262.2 189.6 L262.2 192.1 L260.0 194.0 L257.3 192.9 L255.2 191.0 L256.3 188.5 L258.1 187.7 L259.8 186.1 L262.0 187.2Z"/>
<path d="M263.1 200.4 L263.0 202.3 L261.3 203.0 L259.8 202.1 L258.3 201.3 L258.2 199.5 L259.3 197.8 L261.4 196.9 L263.0 198.6Z"/>
<path d="M282.0 213.8 L278.0 213.8 L276.6 218.3 L274.5 214.1 L271.1 214.5 L272.9 211.3 L269.3 207.9 L273.7 207.7 L275.4 204.1 L277.2 208.4 L282.0 206.8 L280.0 210.7Z"/>
<path d="M278.7 215.6 L277.6 217.8 L275.6 219.2 L273.3 218.3 L272.0 216.6 L272.3 214.6 L273.2 212.6 L275.3 213.1 L277.2 213.7Z"/>
<path d="M284.0 212.7 L283.0 214.5 L281.4 214.9 L280.1 214.2 L279.4 213.3 L278.8 212.0 L279.6 210.3 L281.6 209.6 L283.4 210.8Z"/>
<path d="M283.0 214.0 L283.5 216.2 L281.3 216.0 L279.4 216.6 L279.3 214.6 L278.0 212.9 L279.4 211.5 L281.5 210.5 L283.5 211.8Z"/>
<path d="M303.0 190.7 L301.4 187.2 L297.1 186.9 L299.6 183.9 L299.4 180.0 L303.0 182.0 L306.5 180.2 L305.8 184.1 L308.9 186.9 L304.6 187.2Z"/>
<path d="M305.8 189.5 L305.4 191.4 L303.6 192.2 L301.9 191.7 L301.5 190.1 L300.9 188.7 L301.6 186.8 L303.5 187.6 L305.6 187.4Z"/>
<path d="M309.9 184.7 L309.1 186.0 L307.8 186.0 L306.5 186.4 L305.9 185.2 L305.1 183.8 L306.0 182.1 L308.0 181.7 L309.4 183.1Z"/>
<path d="M309.2 185.6 L308.4 186.5 L307.7 188.1 L306.1 187.6 L304.8 186.5 L305.3 184.9 L305.8 183.1 L307.5 183.9 L308.7 184.4Z"/>
<path d="M329.7 210.5 L325.3 209.5 L321.9 213.3 L320.4 208.8 L315.9 207.3 L320.1 204.0 L317.2 198.4 L322.9 201.1 L326.2 196.4 L327.3 201.6 L331.6 202.8 L327.5 205.9Z"/>
<path d="M320.4 202.1 L320.5 204.9 L318.0 207.3 L315.6 204.6 L312.9 203.6 L312.5 200.4 L315.5 199.4 L317.6 199.5 L320.4 199.4Z"/>
<path d="M326.4 199.4 L325.3 202.8 L322.1 204.1 L319.4 202.7 L317.7 200.7 L317.4 198.0 L318.6 194.8 L321.9 196.1 L323.8 197.3Z"/>
<path d="M334.3 205.2 L334.2 208.8 L330.5 208.3 L328.6 207.4 L327.3 206.2 L325.9 203.8 L327.7 201.4 L330.5 202.2 L332.3 203.3Z"/>
<path d="M302.2 248.0 L297.4 246.1 L292.5 249.0 L293.0 242.6 L285.4 240.7 L292.8 237.9 L291.5 231.6 L296.7 235.3 L302.3 229.5 L301.9 236.8 L306.8 239.4 L301.1 242.0Z"/>
<path d="M307.4 236.7 L306.3 240.3 L303.0 242.4 L299.0 241.8 L298.9 237.8 L297.3 235.0 L298.8 231.2 L303.2 229.9 L305.3 233.9Z"/>
<path d="M300.1 232.8 L298.1 236.1 L295.2 238.9 L292.3 235.9 L289.1 234.6 L288.6 230.8 L291.9 228.8 L294.7 229.7 L296.8 230.5Z"/>
<path d="M294.9 243.3 L293.9 245.5 L291.9 246.8 L288.6 248.0 L288.2 244.5 L285.7 241.3 L288.4 238.3 L292.4 237.3 L296.0 239.4Z"/>
<path d="M318.7 261.6 L315.1 259.4 L311.4 262.4 L312.6 257.9 L309.2 255.4 L313.3 254.9 L314.7 251.7 L316.5 254.8 L320.4 254.9 L318.0 257.8Z"/>
<path d="M320.1 260.8 L319.7 262.9 L317.8 264.0 L315.9 263.1 L314.1 261.9 L315.7 260.2 L316.4 259.3 L317.5 259.2 L318.7 259.6Z"/>
<path d="M319.2 254.0 L318.7 255.7 L317.3 257.1 L315.1 256.9 L315.0 254.7 L314.4 253.2 L315.3 251.6 L317.1 251.6 L318.2 252.8Z"/>
<path d="M315.8 253.1 L314.7 254.7 L313.3 256.3 L311.3 255.5 L309.0 254.4 L309.0 251.7 L311.7 251.4 L313.3 249.7 L315.3 250.9Z"/>
<path d="M276.3 275.7 L267.4 278.5 L266.5 288.1 L260.1 282.4 L250.9 282.8 L257.3 274.7 L251.8 265.9 L261.4 269.1 L268.3 261.3 L269.2 271.0Z"/>
<path d="M260.0 272.5 L257.9 275.6 L255.4 279.2 L251.1 277.8 L246.4 275.3 L245.5 269.3 L251.1 267.1 L255.2 266.8 L259.5 268.0Z"/>
<path d="M272.0 286.0 L270.9 290.3 L266.8 291.6 L263.6 289.9 L261.5 287.6 L259.4 283.7 L263.1 281.4 L266.4 282.7 L269.7 282.8Z"/>
<path d="M273.6 279.5 L274.0 283.1 L270.3 282.7 L267.7 283.0 L266.5 280.6 L265.1 277.8 L266.2 273.5 L270.6 274.4 L273.2 276.6Z"/>
<path d="M311.8 287.4 L308.9 284.2 L305.9 286.8 L305.9 283.3 L302.2 282.3 L305.9 280.2 L303.5 276.3 L307.8 278.2 L309.2 275.0 L310.8 277.7 L315.0 276.6 L312.8 280.3 L315.9 282.9 L312.1 283.7Z"/>
<path d="M316.9 278.8 L314.7 279.9 L313.8 281.1 L311.7 281.7 L311.9 279.3 L310.4 277.7 L312.2 276.8 L313.6 277.2 L315.0 277.4Z"/>
<path d="M308.1 278.8 L307.2 280.7 L305.6 282.0 L304.0 280.6 L302.7 279.7 L300.9 277.3 L303.5 276.2 L305.5 275.8 L306.6 277.5Z"/>
<path d="M309.0 284.0 L309.6 286.3 L307.4 287.0 L305.5 286.3 L305.3 284.6 L304.6 283.2 L305.2 281.2 L307.3 281.5 L309.0 282.2Z"/>
<path d="M300.6 294.4 L305.1 297.1 L309.8 294.9 L309.6 299.7 L312.5 303.7 L307.3 304.4 L304.7 308.2 L302.6 304.1 L297.9 303.0 L301.9 299.9Z"/>
<path d="M305.0 299.0 L303.6 301.2 L301.6 302.3 L300.1 300.7 L299.3 299.7 L297.7 297.8 L299.7 296.6 L301.7 295.2 L304.0 296.6Z"/>
<path d="M312.9 304.3 L310.9 306.0 L309.6 308.5 L307.0 307.4 L305.1 305.6 L306.8 303.5 L307.0 301.1 L309.3 301.5 L312.0 301.6Z"/>
<path d="M304.8 301.9 L302.5 303.4 L301.3 304.6 L299.7 303.9 L298.2 302.9 L298.6 301.1 L299.2 299.2 L301.2 300.0 L302.4 300.6Z"/>
<path d="M348.3 237.3 L348.4 240.7 L352.3 242.9 L347.8 243.8 L346.9 247.4 L344.7 244.6 L340.2 245.0 L342.5 241.5 L342.1 238.2 L345.5 238.9Z"/>
<path d="M350.2 238.4 L349.2 239.4 L348.3 240.5 L346.4 241.1 L345.0 239.5 L346.3 237.8 L347.2 237.1 L348.5 235.5 L350.4 236.3Z"/>
<path d="M350.1 244.6 L349.0 245.5 L348.1 246.2 L346.4 247.0 L345.1 245.6 L346.6 244.1 L347.0 243.2 L348.2 242.6 L349.1 243.5Z"/>
<path d="M353.5 243.3 L352.1 244.9 L350.9 246.5 L349.4 245.0 L347.8 244.3 L346.9 242.1 L348.8 240.7 L350.6 241.6 L351.7 242.2Z"/>
<path d="M370.4 246.4 L371.6 249.8 L375.0 251.6 L371.8 253.7 L371.3 257.6 L368.4 254.4 L364.7 255.6 L365.7 252.2 L363.5 248.6 L368.0 249.5Z"/>
<path d="M376.3 250.9 L375.2 252.3 L373.9 253.1 L372.3 253.0 L371.0 251.8 L370.3 249.7 L372.5 249.2 L374.0 248.3 L375.1 249.6Z"/>
<path d="M377.0 252.8 L376.7 255.1 L374.4 254.9 L372.6 255.3 L370.8 254.0 L372.3 252.2 L372.2 249.7 L374.5 250.1 L376.3 250.9Z"/>
<path d="M375.3 253.2 L375.0 255.1 L373.0 254.7 L371.5 255.3 L371.3 253.7 L370.7 252.5 L371.7 251.4 L373.0 251.8 L374.2 251.9Z"/>
<path d="M351.0 269.7 L352.9 267.3 L350.3 265.5 L353.3 265.4 L353.5 263.0 L355.2 264.5 L357.2 263.2 L356.8 265.8 L360.1 266.3 L357.3 267.7 L358.4 270.2 L355.9 269.4 L354.6 272.2 L353.7 269.3Z"/>
<path d="M360.5 265.8 L360.3 267.3 L359.0 268.5 L357.7 267.4 L356.6 266.5 L356.4 265.0 L357.2 263.5 L359.0 263.1 L360.7 264.0Z"/>
<path d="M359.0 266.3 L358.5 267.2 L357.9 268.8 L356.8 267.3 L355.7 266.9 L355.3 265.5 L356.4 264.6 L357.7 264.6 L359.4 264.6Z"/>
<path d="M359.0 269.2 L358.9 270.5 L357.7 271.7 L356.6 270.4 L355.6 269.8 L355.4 268.5 L356.2 267.4 L357.6 267.7 L358.8 267.9Z"/>
<path d="M375.7 278.1 L378.7 278.4 L380.5 274.9 L382.0 278.1 L384.9 278.7 L383.5 281.3 L385.3 284.6 L381.2 283.4 L379.6 286.9 L378.4 283.3 L374.2 283.8 L376.5 280.7Z"/>
<path d="M385.4 282.7 L385.1 283.8 L384.2 284.8 L383.0 284.2 L380.8 283.9 L382.1 282.1 L382.9 281.1 L384.4 279.9 L386.0 280.9Z"/>
<path d="M378.8 279.6 L379.1 281.4 L377.4 282.0 L375.9 281.4 L374.6 280.4 L375.2 279.0 L376.0 278.0 L377.4 276.6 L378.6 278.2Z"/>
<path d="M381.5 277.5 L379.7 278.6 L378.6 279.2 L377.5 278.8 L375.6 278.5 L375.9 276.6 L377.6 276.2 L378.6 276.0 L380.7 275.5Z"/>
<path d="M350.2 294.7 L347.7 293.3 L344.3 295.2 L345.4 291.2 L342.6 289.5 L345.9 288.5 L345.5 284.5 L348.3 286.9 L351.8 284.7 L350.9 288.7 L353.9 290.6 L350.5 291.8Z"/>
<path d="M354.4 287.3 L354.4 289.2 L352.4 288.7 L350.9 289.4 L350.7 287.9 L349.7 286.4 L350.9 285.2 L352.6 284.9 L353.5 286.2Z"/>
<path d="M353.2 292.3 L351.5 293.2 L350.6 293.6 L349.1 294.4 L349.0 292.8 L349.1 291.8 L349.3 290.5 L350.8 289.9 L352.5 290.5Z"/>
<path d="M354.0 286.0 L352.3 287.0 L351.5 288.8 L349.4 288.8 L349.3 286.6 L348.1 284.9 L349.9 284.2 L351.3 283.8 L352.2 285.0Z"/>
<path d="M393.3 267.7 L395.8 269.6 L397.8 266.9 L397.6 270.4 L400.1 270.6 L398.0 272.2 L400.4 274.8 L397.5 274.4 L396.6 277.3 L395.1 274.6 L392.8 275.2 L393.8 272.8 L391.4 271.4 L393.6 270.5Z"/>
<path d="M401.7 272.0 L400.8 273.5 L399.5 275.0 L397.9 273.9 L397.5 272.6 L397.4 271.4 L398.1 270.5 L399.6 269.0 L400.3 270.9Z"/>
<path d="M395.6 270.1 L395.6 271.1 L394.6 271.3 L393.5 271.6 L392.5 270.8 L392.4 269.4 L393.7 268.9 L394.6 268.8 L395.8 268.9Z"/>
<path d="M399.9 274.5 L399.0 275.8 L397.8 276.7 L396.0 277.0 L396.0 275.0 L395.8 273.9 L396.3 272.7 L397.8 272.4 L399.6 272.7Z"/>
<path d="M412.5 275.2 L414.5 281.5 L420.0 283.5 L414.9 287.0 L415.5 293.8 L410.2 290.1 L405.0 291.0 L407.2 285.6 L402.5 280.7 L409.1 281.3Z"/>
<path d="M419.8 285.4 L419.1 288.3 L416.4 289.0 L413.3 289.6 L411.0 287.1 L412.6 284.3 L414.4 283.1 L416.3 282.3 L418.4 283.2Z"/>
<path d="M410.2 279.9 L408.0 281.6 L406.7 283.4 L404.3 283.0 L402.0 281.4 L404.0 279.2 L404.1 276.6 L406.5 277.2 L407.7 278.5Z"/>
<path d="M421.6 287.1 L421.1 290.0 L418.2 290.9 L416.4 289.1 L412.9 288.8 L414.5 285.9 L415.6 283.6 L418.3 282.9 L419.8 285.2Z"/>
<path d="M394.6 220.0 L391.3 221.5 L389.6 224.9 L386.8 222.1 L383.0 222.7 L383.9 219.0 L381.1 215.9 L385.2 215.0 L386.1 209.9 L389.2 213.9 L393.7 212.6 L392.2 217.0Z"/>
<path d="M395.0 218.1 L394.2 219.8 L392.5 220.1 L391.1 219.8 L388.8 219.3 L389.5 217.1 L390.2 214.6 L392.5 216.1 L394.1 216.4Z"/>
<path d="M384.2 219.8 L385.1 222.3 L382.7 223.3 L380.3 223.1 L379.5 220.8 L380.3 219.2 L380.8 217.5 L382.5 217.7 L383.5 218.7Z"/>
<path d="M392.9 223.3 L391.5 225.0 L389.9 225.4 L387.9 226.0 L385.5 224.7 L385.4 221.8 L388.0 220.6 L389.9 221.1 L392.5 220.8Z"/>
<path d="M444.8 176.2 L440.8 178.7 L438.3 182.7 L435.2 178.6 L429.1 179.1 L432.8 174.3 L431.0 169.0 L436.4 171.3 L441.4 166.2 L441.2 172.8Z"/>
<path d="M443.5 178.8 L443.9 181.0 L441.6 181.0 L438.9 182.9 L437.9 180.0 L438.2 177.7 L439.8 176.4 L441.8 175.4 L444.8 175.8Z"/>
<path d="M446.8 179.3 L445.4 181.2 L443.7 183.2 L440.4 183.8 L439.7 180.5 L438.9 177.8 L440.4 174.7 L443.6 175.9 L446.8 176.1Z"/>
<path d="M446.2 177.1 L444.1 179.0 L442.3 179.8 L439.0 182.1 L438.0 178.5 L438.0 175.7 L439.0 172.2 L442.6 172.7 L445.1 174.4Z"/>
<path d="M34.7 361.6 L34.4 364.3 L36.7 366.7 L33.1 366.7 L31.8 369.9 L30.2 367.3 L27.5 366.3 L29.7 364.1 L29.0 360.5 L32.1 362.1Z"/>
<path d="M36.6 364.2 L36.8 366.1 L34.9 366.2 L33.3 366.3 L31.7 365.2 L32.0 363.3 L33.7 362.7 L34.9 362.3 L36.8 362.4Z"/>
<path d="M32.7 367.7 L31.5 368.6 L30.9 370.3 L29.8 368.9 L29.2 368.2 L29.3 367.3 L29.6 366.2 L30.8 365.7 L32.3 366.2Z"/>
<path d="M34.7 361.7 L35.1 363.2 L33.5 363.1 L32.1 363.6 L31.6 362.3 L31.5 361.1 L32.5 360.5 L33.6 359.3 L34.3 360.7Z"/>
<path d="M142.8 445.1 L146.6 442.2 L143.8 437.1 L149.1 439.8 L151.8 435.4 L152.4 440.5 L157.6 440.8 L154.4 444.1 L155.5 448.2 L150.9 446.1 L148.4 449.8 L147.0 446.2Z"/>
<path d="M155.8 438.1 L154.2 439.7 L152.8 441.1 L150.6 440.9 L149.5 439.0 L148.7 436.8 L150.3 434.7 L152.7 435.7 L154.2 436.4Z"/>
<path d="M158.1 445.5 L155.6 447.0 L154.4 448.6 L152.3 448.2 L149.6 447.1 L151.7 444.7 L152.0 442.3 L154.5 441.6 L156.8 443.0Z"/>
<path d="M157.5 443.5 L158.8 446.3 L156.0 446.2 L153.5 447.0 L152.2 444.7 L152.8 442.5 L153.6 440.1 L156.2 440.0 L157.7 441.8Z"/>
<path d="M224.6 360.6 L227.6 361.1 L229.8 357.9 L230.5 362.6 L235.1 361.2 L232.7 364.6 L235.3 367.2 L231.6 367.6 L231.5 372.2 L228.6 368.7 L225.4 370.7 L225.5 367.2 L222.0 365.8 L225.3 363.7Z"/>
<path d="M227.8 363.2 L226.5 365.3 L224.6 366.9 L222.2 366.3 L220.2 364.6 L221.7 362.4 L222.3 360.4 L224.3 361.2 L227.0 360.6Z"/>
<path d="M227.6 365.0 L226.9 367.2 L224.7 366.7 L223.0 367.4 L221.9 365.9 L222.6 364.4 L223.3 363.3 L225.0 361.4 L227.0 362.8Z"/>
<path d="M228.2 360.7 L228.7 363.0 L226.5 363.9 L224.6 362.9 L222.9 361.8 L223.8 359.9 L224.8 358.6 L226.3 359.0 L228.4 358.6Z"/>
<path d="M311.8 300.2 L308.5 303.5 L310.3 307.5 L306.3 305.4 L303.0 308.7 L303.3 304.3 L300.6 302.0 L304.2 301.1 L305.1 296.5 L307.4 300.3Z"/>
<path d="M305.0 302.7 L304.6 304.8 L302.6 305.4 L300.8 305.0 L299.9 303.5 L299.0 301.6 L300.9 300.6 L302.6 299.8 L304.7 300.6Z"/>
<path d="M310.5 299.7 L310.3 301.5 L308.4 301.3 L307.1 301.5 L305.1 300.8 L306.4 299.1 L307.3 298.3 L308.4 298.2 L310.4 297.8Z"/>
<path d="M309.6 299.2 L309.7 300.8 L308.2 301.6 L306.2 302.0 L305.4 300.1 L305.3 298.3 L307.0 297.8 L308.4 296.1 L310.2 297.2Z"/>
<path d="M326.4 303.9 L328.9 306.3 L331.6 306.5 L330.3 309.0 L331.8 311.9 L328.6 310.9 L326.3 314.1 L325.7 310.6 L322.5 308.9 L325.7 307.2Z"/>
<path d="M332.0 306.4 L331.7 308.2 L330.0 308.8 L328.3 308.7 L326.9 307.4 L327.3 305.6 L328.9 305.2 L330.1 303.5 L332.0 304.4Z"/>
<path d="M331.1 307.2 L330.7 308.0 L330.0 308.7 L329.1 308.3 L328.2 307.7 L328.6 306.8 L329.1 306.0 L329.9 306.1 L331.1 306.1Z"/>
<path d="M332.7 308.8 L332.9 310.6 L331.0 311.0 L329.8 310.3 L327.5 309.9 L327.6 307.7 L329.3 306.3 L331.0 306.9 L332.4 307.3Z"/>
<path d="M354.5 327.0 L351.7 323.6 L348.6 325.4 L348.9 322.3 L346.2 320.2 L349.7 319.2 L349.8 315.7 L352.4 318.2 L355.7 316.2 L355.0 319.7 L358.5 321.9 L354.6 323.0Z"/>
<path d="M350.8 323.6 L350.1 325.2 L348.5 325.3 L346.9 325.9 L345.1 324.7 L345.2 322.5 L346.4 320.6 L348.7 320.5 L350.7 321.5Z"/>
<path d="M356.0 326.0 L355.3 328.0 L353.4 328.9 L351.7 327.9 L350.3 326.9 L350.3 325.0 L351.3 323.2 L353.3 323.2 L354.6 324.5Z"/>
<path d="M357.1 324.8 L356.9 326.4 L355.4 327.1 L353.3 327.7 L351.7 326.0 L352.9 324.1 L353.5 322.3 L355.6 321.2 L356.9 323.2Z"/>
<path d="M385.9 315.1 L388.1 319.6 L392.8 318.5 L390.7 322.9 L394.7 325.9 L390.1 327.2 L390.8 333.6 L386.0 328.0 L381.8 333.0 L382.7 326.7 L376.1 326.4 L382.1 323.2 L378.9 318.4 L384.2 320.3Z"/>
<path d="M389.5 332.4 L390.2 335.7 L387.0 336.5 L384.6 335.3 L382.7 333.7 L383.7 331.4 L384.6 329.5 L387.1 328.1 L388.8 330.4Z"/>
<path d="M380.1 326.2 L380.8 328.7 L378.8 331.2 L375.5 330.3 L374.9 327.3 L373.2 324.5 L376.7 324.1 L378.3 323.6 L379.6 324.8Z"/>
<path d="M389.0 331.3 L389.8 334.4 L387.1 336.5 L384.0 335.1 L381.0 333.2 L382.2 329.9 L383.2 326.2 L387.0 326.6 L389.6 328.4Z"/>
<path d="M415.0 312.1 L418.0 312.0 L419.1 309.0 L420.7 312.6 L424.3 310.3 L422.9 313.9 L426.4 315.5 L422.5 316.4 L423.4 320.0 L420.5 318.1 L418.2 320.8 L417.6 317.5 L414.7 317.1 L416.8 314.8Z"/>
<path d="M425.1 313.8 L425.0 315.6 L423.4 316.5 L421.2 316.9 L420.8 314.6 L420.7 313.0 L421.2 310.7 L423.3 312.0 L425.2 311.9Z"/>
<path d="M420.2 311.3 L420.4 312.9 L419.0 313.6 L417.8 312.6 L416.2 312.2 L416.7 310.7 L417.7 309.8 L419.0 308.6 L420.6 309.7Z"/>
<path d="M418.6 315.1 L418.6 316.8 L416.9 316.7 L415.5 317.1 L415.2 315.6 L414.3 314.3 L415.1 312.5 L417.1 312.6 L417.8 314.2Z"/>
<path d="M292.3 322.9 L296.8 326.3 L301.0 323.0 L301.4 328.3 L306.1 329.6 L302.8 333.1 L304.2 337.4 L299.2 336.2 L297.3 341.1 L294.8 337.0 L290.3 337.7 L291.4 333.5 L287.0 330.0 L292.4 328.6Z"/>
<path d="M308.2 337.0 L307.0 339.9 L304.3 341.3 L301.9 339.9 L300.0 338.3 L299.4 335.5 L302.0 334.3 L304.5 331.8 L306.4 334.6Z"/>
<path d="M303.4 326.3 L302.0 328.1 L300.5 329.7 L297.1 331.1 L296.7 327.5 L297.3 325.3 L298.1 323.2 L300.9 320.8 L302.0 324.5Z"/>
<path d="M292.9 328.4 L291.8 330.3 L290.3 332.7 L287.7 331.6 L287.1 329.3 L284.9 326.7 L287.9 325.6 L290.3 324.1 L292.3 326.1Z"/>
<path d="M324.3 334.2 L327.6 336.1 L330.0 334.1 L330.6 336.9 L333.3 338.3 L330.5 340.0 L331.3 343.3 L328.4 341.5 L325.5 345.1 L325.6 340.9 L322.2 339.8 L325.6 338.0Z"/>
<path d="M330.7 342.9 L329.0 343.8 L328.2 344.6 L327.1 344.4 L326.3 343.5 L325.4 342.0 L326.9 341.1 L328.3 341.1 L329.6 341.5Z"/>
<path d="M329.9 341.8 L328.8 343.5 L327.1 344.2 L325.3 344.3 L324.1 342.8 L324.5 341.0 L325.5 339.8 L327.0 340.1 L328.6 340.3Z"/>
<path d="M329.4 335.6 L327.9 336.8 L326.9 337.5 L325.4 337.6 L324.4 336.4 L325.0 335.1 L325.5 333.8 L327.0 333.1 L327.6 334.7Z"/>
<path d="M245.1 356.7 L243.5 363.9 L250.6 365.8 L244.6 368.5 L245.3 374.9 L240.1 370.2 L235.0 375.0 L235.8 368.5 L231.0 366.1 L235.8 363.7 L234.8 357.3 L239.9 361.9Z"/>
<path d="M236.6 370.6 L237.6 373.8 L234.7 375.9 L232.5 372.9 L231.2 371.5 L229.6 369.1 L232.1 367.7 L234.6 366.1 L235.8 368.9Z"/>
<path d="M239.2 364.8 L237.4 366.9 L235.6 368.6 L232.3 369.3 L230.7 366.4 L229.5 362.9 L232.1 359.9 L235.7 360.1 L239.2 361.2Z"/>
<path d="M243.7 373.4 L243.8 376.2 L241.0 377.2 L237.9 377.7 L237.4 374.4 L234.8 371.3 L238.3 369.8 L241.3 367.9 L245.1 369.4Z"/>
<path d="M261.5 353.9 L266.6 353.8 L267.6 347.6 L271.0 353.5 L276.4 349.9 L273.8 356.2 L278.7 358.0 L273.9 359.9 L275.8 365.2 L271.1 362.7 L267.9 367.2 L266.4 362.6 L262.2 361.8 L264.3 358.0Z"/>
<path d="M276.1 364.0 L273.3 366.5 L271.3 369.4 L267.4 369.1 L267.6 365.1 L265.6 362.3 L267.9 359.7 L271.1 360.0 L273.0 361.8Z"/>
<path d="M266.0 360.4 L265.9 362.5 L264.2 365.1 L261.8 363.2 L260.7 361.4 L259.8 359.0 L261.7 357.5 L264.1 356.6 L266.0 358.2Z"/>
<path d="M268.8 355.1 L267.5 356.6 L266.5 359.8 L263.6 358.8 L262.9 356.1 L262.2 353.8 L263.7 351.7 L266.4 351.4 L269.5 351.9Z"/>
<path d="M312.9 356.9 L317.4 357.6 L318.6 353.3 L320.8 356.3 L324.7 356.3 L322.7 359.8 L324.5 362.8 L320.6 362.4 L319.4 367.2 L317.6 362.8 L313.6 363.6 L316.2 360.2Z"/>
<path d="M318.3 357.5 L316.4 359.3 L314.7 360.3 L312.4 360.6 L311.9 358.3 L310.0 355.9 L313.2 355.6 L314.8 354.2 L316.3 355.7Z"/>
<path d="M325.8 360.2 L324.5 361.2 L323.6 362.1 L321.5 363.2 L320.4 361.3 L321.4 359.6 L322.0 358.1 L323.5 358.7 L324.6 359.1Z"/>
<path d="M324.8 358.0 L325.8 360.8 L323.0 360.6 L321.3 360.1 L320.6 358.7 L320.5 357.3 L320.4 354.3 L323.2 354.4 L325.7 355.3Z"/>
<path d="M369.0 356.2 L372.4 359.3 L375.9 358.1 L375.4 361.5 L376.6 364.3 L373.6 365.1 L371.0 368.4 L369.8 364.2 L365.9 363.0 L369.5 360.8Z"/>
<path d="M377.4 358.5 L376.7 360.4 L374.8 360.4 L373.6 360.0 L372.7 359.2 L373.0 358.0 L373.6 357.0 L374.9 355.8 L376.2 357.0Z"/>
<path d="M378.2 359.7 L378.3 361.2 L377.1 363.2 L374.7 362.8 L373.4 360.9 L373.4 358.6 L374.6 356.5 L377.0 356.9 L378.4 358.1Z"/>
<path d="M379.0 361.9 L377.9 363.2 L376.6 363.5 L375.3 363.7 L374.0 362.7 L374.7 361.3 L375.5 360.4 L376.7 359.9 L378.1 360.4Z"/>
<path d="M419.5 355.6 L417.4 357.7 L418.2 360.2 L415.3 359.7 L414.1 363.4 L412.6 360.1 L409.3 360.9 L411.6 357.6 L407.5 355.6 L411.8 355.3 L411.3 351.6 L414.0 354.5 L416.2 352.2 L416.2 355.2Z"/>
<path d="M418.5 352.6 L417.0 354.1 L415.7 355.6 L413.7 355.1 L412.7 353.5 L413.2 351.8 L414.0 350.6 L415.5 350.5 L417.2 350.8Z"/>
<path d="M417.1 361.2 L416.2 363.2 L414.2 363.3 L413.0 362.8 L412.4 361.7 L411.3 360.3 L412.9 359.5 L414.1 359.7 L415.5 359.9Z"/>
<path d="M415.7 360.3 L415.3 361.3 L414.4 362.7 L412.9 362.3 L412.4 360.9 L411.6 359.4 L413.2 358.8 L414.5 357.4 L415.2 359.3Z"/>
<path d="M312.3 380.7 L319.8 380.9 L326.3 375.3 L327.9 383.9 L336.2 388.2 L327.8 392.3 L325.8 400.3 L319.9 394.2 L312.5 394.7 L314.5 387.9Z"/>
<path d="M328.9 397.2 L327.8 401.8 L323.5 404.4 L319.2 402.5 L314.7 399.9 L315.8 394.8 L318.7 391.0 L322.9 393.1 L325.8 394.2Z"/>
<path d="M333.0 397.5 L331.9 401.6 L327.6 401.6 L323.2 403.9 L321.8 399.4 L321.1 395.4 L323.7 392.0 L328.3 389.7 L330.9 394.1Z"/>
<path d="M327.6 397.9 L326.5 401.5 L323.3 403.6 L320.1 401.7 L318.3 399.3 L317.5 396.1 L319.5 393.0 L323.2 392.2 L325.0 395.5Z"/>
<path d="M348.7 389.5 L345.8 384.9 L340.7 385.7 L343.1 381.7 L341.4 377.1 L346.3 378.8 L349.7 375.7 L349.4 380.6 L354.5 382.7 L349.7 384.4Z"/>
<path d="M352.5 385.4 L352.0 387.3 L350.1 387.5 L348.8 387.0 L346.1 386.7 L348.1 384.8 L348.3 382.9 L350.1 383.0 L351.1 384.2Z"/>
<path d="M345.0 382.7 L344.3 383.9 L343.2 385.1 L341.0 385.8 L341.1 383.3 L340.5 381.8 L341.2 379.9 L343.3 379.7 L344.1 381.6Z"/>
<path d="M344.0 381.3 L343.6 382.8 L342.4 385.1 L340.3 383.7 L339.5 382.1 L339.0 380.3 L340.2 378.7 L342.1 379.2 L344.3 379.1Z"/>
<path d="M372.7 382.3 L373.9 379.6 L371.0 377.7 L373.9 376.9 L374.7 374.1 L376.6 376.7 L379.7 375.3 L378.3 378.4 L380.9 380.3 L377.4 380.4 L377.2 383.7 L375.4 381.2Z"/>
<path d="M381.0 382.0 L379.9 383.5 L378.5 384.5 L376.6 384.6 L374.9 383.1 L375.6 381.1 L377.3 380.7 L378.5 379.6 L380.2 380.2Z"/>
<path d="M380.3 381.7 L380.3 383.0 L379.0 383.3 L377.8 383.4 L376.9 382.4 L376.8 381.0 L377.5 379.6 L379.1 379.6 L380.4 380.3Z"/>
<path d="M376.3 377.0 L375.2 378.0 L374.4 379.1 L372.9 378.9 L372.8 377.4 L371.7 376.1 L373.2 375.6 L374.4 375.0 L375.6 375.7Z"/>
<path d="M361.1 405.2 L366.6 402.2 L368.9 397.1 L373.2 400.7 L379.7 400.7 L376.4 406.5 L379.2 413.0 L372.0 410.2 L367.3 414.8 L366.7 408.6Z"/>
<path d="M367.2 404.4 L366.3 407.4 L363.4 408.1 L360.1 408.9 L359.2 405.7 L358.9 403.0 L360.0 399.8 L363.3 401.1 L366.2 401.5Z"/>
<path d="M376.4 413.7 L372.4 415.7 L371.0 419.3 L367.4 418.2 L365.5 415.3 L364.6 411.7 L367.0 408.4 L370.6 410.3 L373.6 410.7Z"/>
<path d="M373.4 410.7 L372.5 413.8 L369.8 416.4 L366.1 415.2 L363.7 412.5 L366.1 409.7 L366.7 407.2 L369.7 405.1 L373.2 407.0Z"/>
<path d="M388.0 398.9 L387.9 396.3 L385.3 396.6 L387.0 394.9 L385.7 393.3 L387.8 393.5 L388.3 391.5 L389.6 392.8 L391.4 392.2 L390.9 394.2 L393.0 395.1 L390.8 396.0 L391.6 398.5 L389.3 396.7Z"/>
<path d="M392.8 393.2 L391.8 394.3 L391.0 395.5 L389.6 394.9 L388.5 393.9 L388.6 392.5 L389.3 391.1 L390.9 391.0 L392.6 391.5Z"/>
<path d="M387.8 394.6 L387.4 395.8 L386.4 396.6 L385.2 396.2 L385.0 395.0 L383.8 393.8 L385.3 393.3 L386.4 392.9 L386.9 393.9Z"/>
<path d="M389.6 392.1 L390.0 393.4 L388.6 393.4 L387.8 393.2 L386.7 392.8 L387.3 391.7 L387.6 390.7 L388.7 390.6 L389.9 390.9Z"/>
<path d="M524.1 305.6 L524.6 301.9 L522.8 299.9 L525.6 299.3 L526.7 296.0 L528.1 299.3 L531.2 299.4 L529.3 301.6 L529.8 304.4 L527.2 303.9Z"/>
<path d="M525.9 300.6 L525.2 301.8 L524.2 302.2 L523.0 302.2 L522.7 301.0 L522.6 300.2 L523.2 299.4 L524.2 298.9 L525.8 299.1Z"/>
<path d="M532.8 303.3 L531.3 304.5 L530.0 305.0 L528.8 304.9 L527.4 304.1 L527.7 302.5 L529.0 301.9 L530.1 301.0 L531.1 302.1Z"/>
<path d="M528.6 297.0 L529.2 298.9 L527.2 298.6 L525.8 299.0 L524.2 298.0 L524.6 296.1 L525.3 294.3 L527.3 295.0 L529.4 294.9Z"/>
<path d="M541.0 315.0 L544.2 312.4 L543.5 308.2 L547.5 310.6 L550.8 307.2 L550.5 312.1 L555.5 313.0 L551.7 315.5 L552.7 320.0 L548.6 318.1 L545.2 320.9 L545.0 316.3Z"/>
<path d="M544.8 314.8 L546.0 317.6 L543.2 317.8 L541.7 316.5 L540.3 315.7 L538.5 313.3 L540.8 311.6 L543.4 311.1 L545.8 312.2Z"/>
<path d="M546.5 317.9 L546.6 319.7 L545.1 321.0 L542.4 321.6 L540.5 319.4 L542.4 317.1 L542.3 314.0 L545.1 314.6 L546.6 316.2Z"/>
<path d="M545.8 311.6 L546.0 313.2 L544.5 314.2 L542.8 313.8 L542.0 312.4 L540.8 310.4 L542.8 309.4 L544.5 309.5 L546.5 309.6Z"/>
<path d="M583.2 317.5 L584.9 310.8 L579.2 309.1 L584.3 306.9 L583.9 302.1 L588.0 304.4 L592.1 301.7 L591.5 306.9 L597.5 308.9 L592.2 311.4 L592.9 317.3 L588.0 312.6Z"/>
<path d="M593.1 303.4 L592.8 305.7 L590.5 305.9 L588.5 306.0 L585.0 305.2 L586.1 301.9 L588.1 300.0 L590.8 299.1 L593.4 300.6Z"/>
<path d="M597.8 306.0 L596.4 308.5 L593.9 309.1 L592.0 308.4 L590.5 307.1 L589.6 304.6 L592.0 303.7 L594.2 301.1 L596.3 303.6Z"/>
<path d="M592.6 304.4 L592.1 306.8 L590.0 308.7 L587.6 307.3 L584.0 306.3 L585.2 303.0 L587.8 302.0 L589.7 301.6 L593.6 300.8Z"/>
<path d="M493.8 331.8 L490.8 334.8 L492.5 339.1 L487.9 336.9 L485.5 340.9 L484.6 336.6 L480.0 336.2 L483.1 333.1 L482.2 329.6 L485.9 330.6 L488.6 326.6 L489.3 331.5Z"/>
<path d="M492.0 338.7 L490.7 340.3 L489.5 342.1 L487.9 340.3 L485.2 340.0 L485.1 337.4 L487.2 335.8 L489.2 336.9 L491.0 336.9Z"/>
<path d="M491.0 329.2 L489.8 331.1 L488.0 331.3 L486.5 331.1 L485.9 329.8 L485.0 328.3 L486.6 327.5 L488.1 326.7 L490.3 326.9Z"/>
<path d="M485.4 333.8 L483.6 335.8 L481.8 337.6 L480.0 335.7 L477.1 335.3 L477.3 332.4 L479.6 331.1 L481.9 329.7 L483.2 332.1Z"/>
<path d="M512.0 348.5 L509.3 351.3 L509.5 355.6 L505.7 353.9 L502.0 354.8 L503.0 350.8 L499.3 347.3 L504.5 347.6 L506.5 342.6 L507.9 347.7Z"/>
<path d="M514.3 352.3 L512.1 353.9 L510.8 356.2 L508.2 355.6 L506.3 353.7 L506.7 351.0 L509.1 350.5 L510.5 349.8 L512.7 350.1Z"/>
<path d="M508.7 346.4 L507.6 348.2 L505.7 347.9 L504.4 348.3 L503.4 347.1 L503.7 345.8 L504.5 344.7 L505.9 343.9 L507.1 345.0Z"/>
<path d="M504.2 349.3 L503.9 351.3 L502.3 353.8 L499.7 352.4 L497.7 350.7 L497.3 347.8 L500.5 347.5 L502.3 345.0 L503.2 347.8Z"/>
<path d="M499.6 354.5 L502.0 355.8 L504.4 354.9 L504.2 357.3 L505.6 359.3 L503.3 359.9 L501.9 362.2 L500.7 359.7 L498.1 359.2 L500.2 357.4Z"/>
<path d="M501.5 359.6 L501.8 361.0 L500.5 361.8 L499.2 361.3 L498.5 360.2 L498.1 358.9 L499.3 358.2 L500.4 358.3 L501.2 358.7Z"/>
<path d="M504.8 356.3 L504.4 357.0 L504.0 358.6 L502.4 358.3 L502.2 356.9 L502.1 355.8 L502.9 355.1 L504.0 354.3 L504.9 355.3Z"/>
<path d="M502.5 360.3 L502.9 361.6 L501.7 362.3 L500.9 361.2 L500.0 360.8 L500.3 359.9 L500.5 358.9 L501.6 359.0 L502.3 359.5Z"/>
</g>
</g>
</defs>
<g id="mapA"><use href="#mapbase"/>
<circle cx="128.7" cy="219" r="17" fill="#f4e4f4" fill-opacity="0.55"/>
<circle cx="165.2" cy="237.5" r="15.5" fill="#f4e4f4" fill-opacity="0.55"/>
<circle cx="133.5" cy="260.1" r="11" fill="#f4e4f4" fill-opacity="0.55"/>
<path d="M114 214 V208 H117 V205 H121 V203 H124 V206 H127 V202 H131 V205 H134 V208 H138 V210 H141 V213 H144 V219 H141 V222 H137 V226 H134 V230 H139 V233 H127 V230 H122 V227 H126 V223 H121 V220 H117 V217 H114 Z" fill="#f20000"/>
<rect x="134.6" y="209.5" width="2" height="3.5" fill="#f0e040"/>
<path d="M160 229 V225 H162 V223 H166 V227 H169 V231 H172 V235 H175 V238 H179 V241 H174 V243 H171 V247 H167 V249 H163 V245 H158 V248 H154 V245 H151 V241 H154 V237 H157 V233 H159 Z" fill="#f20000"/>
<path d="M130 252 H136 V255 H139 V258 H134 V261 H140 V265 H137 V268 H131 V266 H124 V262 H127 V259 H130 V256 H129 Z" fill="#f20000"/>
<path d="M127.2 159 H129.6 V171.4 H120.5 V168.7 H127.2 Z" fill="#f20000"/>
<path d="M131 160 H135 V158 H138 V163 H134 V165 H131 Z" fill="#12f212"/>
<path d="M148 160 H151 V157 H155 V160 H158 V164 H156 V168 H158 V172 H153 V175 H149 V171 H146 V166 H148 Z" fill="#f4f000"/>
<path d="M157 161 H163 V164 H160 V167 H164 V171 H160 V174 H157 V170 H159 V166 H157 Z" fill="#f20000"/>
<path d="M167 200 H172 V198 H175 V203 H178 V208 H175 V213 H170 V210 H166 V205 H168 Z" fill="#12f212"/>
<rect x="170" y="204" width="3" height="3" fill="#f4f000"/>
<path d="M187.3 225 L192 223.5 L194 221.8 L196 223.5 L201.5 224.5 L196 226.2 L194 228.4 L192 226.5 Z" fill="#f20000"/>
<path d="M221 213 H225 V216 H229 V214 H233 V218 H229 V221 H227 V226 H229 V229 H224 V221 H221 Z" fill="#f4f000"/>
<path d="M221 213 H225 V216 H229 V214 H233 V218 H229 V221 H227 V226 H229 V229 H224 V221 H221 Z" fill="none" stroke="#8a8a20" stroke-width="0.4"/>
<path d="M189 252 H194 V255 H191 V258 H188 Z" fill="#12f212"/><path d="M196 256 H201 V260 H198 V264 H195 Z" fill="#12f212"/><path d="M192 261 H196 V265 H192 Z" fill="#f4f000"/><path d="M198 251 H202 V254 H198 Z" fill="#f4f000"/>
<circle cx="128.7" cy="219" r="18.5" fill="none" stroke="#e82020" stroke-width="1.3"/>
<circle cx="165.2" cy="237.5" r="16.8" fill="none" stroke="#e82020" stroke-width="1.3"/>
<circle cx="133.5" cy="260.1" r="12.3" fill="none" stroke="#e82020" stroke-width="1.3"/>
<circle cx="154.6" cy="165.9" r="12" fill="none" stroke="#e82020" stroke-width="1.3" stroke-dasharray="2 1.6"/>
<circle cx="129" cy="166.9" r="11.7" fill="none" stroke="#f0d040" stroke-width="1.3"/>
<circle cx="224.2" cy="219.3" r="11.9" fill="none" stroke="#f0d040" stroke-width="1.3"/>
<circle cx="194.7" cy="259.2" r="13.3" fill="none" stroke="#f0d040" stroke-width="1.3" stroke-dasharray="2 1.6"/>
<circle cx="170.8" cy="206.3" r="11.5" fill="none" stroke="#f0d040" stroke-width="1.3" stroke-dasharray="2 1.6"/>
<text x="235.8" y="218.7" font-family="Liberation Sans, sans-serif" font-size="9.5" fill="#111" stroke="#111" stroke-width="0.2" font-weight="bold" text-anchor="start" textLength="10.5" lengthAdjust="spacingAndGlyphs" >T1</text>
<text x="311.2" y="232.9" font-family="Liberation Sans, sans-serif" font-size="9.5" fill="#111" stroke="#111" stroke-width="0.2" font-weight="bold" text-anchor="start" textLength="10.5" lengthAdjust="spacingAndGlyphs" >T3</text>
<text x="274.8" y="271" font-family="Liberation Sans, sans-serif" font-size="9.5" fill="#111" stroke="#111" stroke-width="0.2" font-weight="bold" text-anchor="start" textLength="10.5" lengthAdjust="spacingAndGlyphs" >T2</text>
<path d="M40.1 169.6 H54.699999999999996 M47.4 162.29999999999998 V176.9" stroke="#222" stroke-width="0.8" fill="none"/>
<path d="M203.5 169.6 H218.10000000000002 M210.8 162.29999999999998 V176.9" stroke="#222" stroke-width="0.8" fill="none"/>
<path d="M367.2 169.6 H381.8 M374.5 162.29999999999998 V176.9" stroke="#222" stroke-width="0.8" fill="none"/>
<path d="M40.1 333 H54.699999999999996 M47.4 325.7 V340.3" stroke="#222" stroke-width="0.8" fill="none"/>
<path d="M203.5 333 H218.10000000000002 M210.8 325.7 V340.3" stroke="#222" stroke-width="0.8" fill="none"/>
<path d="M367.2 333 H381.8 M374.5 325.7 V340.3" stroke="#222" stroke-width="0.8" fill="none"/>
<path d="M530.7 333 H545.3 M538 325.7 V340.3" stroke="#222" stroke-width="0.8" fill="none"/>
<circle cx="40.1" cy="53.1" r="10.2" fill="none" stroke="#f0e0f0" stroke-width="1.3"/>
<path d="M39.3 36 L49.7 61.5 L39.7 53.5 L30.6 60 Z" fill="#0a0a0a" stroke="#fff" stroke-width="0.6"/>
<path d="M39.3 36 L49.7 61.5 L39.7 53.5 Z" fill="#2a2a2a"/>
<text x="36.8" y="33" font-family="Liberation Sans, sans-serif" font-size="6.5" fill="#111" stroke="#111" stroke-width="0.2" font-weight="bold" text-anchor="start" >N</text>
<rect x="29.8" y="439.5" width="195.8" height="7.1" fill="#000"/>
<rect x="95" y="440.4" width="64.5" height="5.2" fill="#fff"/>
<text x="26.9" y="432.8" font-family="Liberation Sans, sans-serif" font-size="9.5" fill="#111" stroke="#111" stroke-width="0.2" font-weight="bold" text-anchor="start" textLength="5" lengthAdjust="spacingAndGlyphs" >0</text>
<text x="89.7" y="432.8" font-family="Liberation Sans, sans-serif" font-size="9.5" fill="#111" stroke="#111" stroke-width="0.2" font-weight="bold" text-anchor="start" textLength="10.6" lengthAdjust="spacingAndGlyphs" >10</text>
<text x="154.5" y="432.8" font-family="Liberation Sans, sans-serif" font-size="9.5" fill="#111" stroke="#111" stroke-width="0.2" font-weight="bold" text-anchor="start" textLength="11.6" lengthAdjust="spacingAndGlyphs" >20</text>
<text x="219.4" y="432.8" font-family="Liberation Sans, sans-serif" font-size="9.5" fill="#111" stroke="#111" stroke-width="0.2" font-weight="bold" text-anchor="start" textLength="24" lengthAdjust="spacingAndGlyphs" >30 m</text>
<rect x="512.7" y="418.5" width="134.3" height="34.5" fill="#fff" stroke="#3a3a3a" stroke-width="1"/>
<text x="515.3" y="429.6" font-family="Liberation Sans, sans-serif" font-size="7" fill="#2a2a2a" stroke="#2a2a2a" stroke-width="0.2" font-weight="normal" text-anchor="start" textLength="110" lengthAdjust="spacingAndGlyphs" >CRS: WGS 84 / UTM zone 32N</text>
<text x="515.5" y="449" font-family="Liberation Sans, sans-serif" font-size="7" fill="#2a2a2a" stroke="#2a2a2a" stroke-width="0.2" font-weight="normal" text-anchor="start" textLength="128" lengthAdjust="spacingAndGlyphs" >Map Author: Florian Marcus Hellwig</text>
<rect x="460.7" y="20.5" width="186" height="261.5" fill="#fff" stroke="#3a3a3a" stroke-width="1"/>
<text x="465.3" y="38.5" font-family="Liberation Sans, sans-serif" font-size="12.5" fill="#2a2a2a" stroke="#2a2a2a" stroke-width="0.2" font-weight="normal" text-anchor="start" textLength="40.8" lengthAdjust="spacingAndGlyphs" >Legend</text>
<text x="465.3" y="58.6" font-family="Liberation Sans, sans-serif" font-size="9.3" fill="#2a2a2a" stroke="#2a2a2a" stroke-width="0.2" font-weight="normal" text-anchor="start" textLength="108.8" lengthAdjust="spacingAndGlyphs" >HySpex (RGB Composite)</text>
<rect x="465" y="64.6" width="16.5" height="9.4" fill="#f00000"/>
<rect x="465" y="79.9" width="16.5" height="8.9" fill="#20ee20"/>
<rect x="465" y="95.2" width="16.5" height="8.5" fill="#0000f0"/>
<text x="485.7" y="73" font-family="Liberation Sans, sans-serif" font-size="9.3" fill="#2a2a2a" stroke="#2a2a2a" stroke-width="0.2" font-weight="normal" text-anchor="start" textLength="69.7" lengthAdjust="spacingAndGlyphs" >Red: 614.14 nm</text>
<text x="485.7" y="88.3" font-family="Liberation Sans, sans-serif" font-size="9.3" fill="#2a2a2a" stroke="#2a2a2a" stroke-width="0.2" font-weight="normal" text-anchor="start" textLength="78.6" lengthAdjust="spacingAndGlyphs" >Green: 563.16 nm</text>
<text x="485.7" y="103.3" font-family="Liberation Sans, sans-serif" font-size="9.3" fill="#2a2a2a" stroke="#2a2a2a" stroke-width="0.2" font-weight="normal" text-anchor="start" textLength="71.8" lengthAdjust="spacingAndGlyphs" >Blue: 453.91 nm</text>
<text x="465.4" y="121.3" font-family="Liberation Sans, sans-serif" font-size="9.3" fill="#2a2a2a" stroke="#2a2a2a" stroke-width="0.2" font-weight="normal" text-anchor="start" textLength="178" lengthAdjust="spacingAndGlyphs" >Hyperspectral Vegetation Index 1 (HVI 1)</text>
<text x="489.1" y="134.6" font-family="Liberation Sans, sans-serif" font-size="9.3" fill="#2a2a2a" stroke="#2a2a2a" stroke-width="0.2" font-weight="normal" text-anchor="start" textLength="70.1" lengthAdjust="spacingAndGlyphs" >Value: Condition</text>
<rect x="464.8" y="140.7" width="16.3" height="8.9" fill="#f00000"/>
<rect x="464.8" y="165.9" width="16.3" height="9.5" fill="#e0f000"/>
<rect x="464.8" y="191.7" width="16.3" height="8.7" fill="#30e030"/>
<text x="486.3" y="148.3" font-family="Liberation Sans, sans-serif" font-size="9.3" fill="#2a2a2a" stroke="#2a2a2a" stroke-width="0.2" font-weight="normal" text-anchor="start" textLength="104.1" lengthAdjust="spacingAndGlyphs" >&lt; 865: Infested Spruces</text>
<text x="486.3" y="159.9" font-family="Liberation Sans, sans-serif" font-size="9.3" fill="#2a2a2a" stroke="#2a2a2a" stroke-width="0.2" font-weight="normal" text-anchor="start" textLength="71" lengthAdjust="spacingAndGlyphs" >("brown crown")</text>
<text x="486.3" y="174" font-family="Liberation Sans, sans-serif" font-size="9.3" fill="#2a2a2a" stroke="#2a2a2a" stroke-width="0.2" font-weight="normal" text-anchor="start" textLength="120.2" lengthAdjust="spacingAndGlyphs" >865–1109: Infested Spruces</text>
<text x="486.3" y="186.2" font-family="Liberation Sans, sans-serif" font-size="9.3" fill="#2a2a2a" stroke="#2a2a2a" stroke-width="0.2" font-weight="normal" text-anchor="start" textLength="68.7" lengthAdjust="spacingAndGlyphs" >("green attack")</text>
<text x="486.3" y="200.1" font-family="Liberation Sans, sans-serif" font-size="9.3" fill="#2a2a2a" stroke="#2a2a2a" stroke-width="0.2" font-weight="normal" text-anchor="start" textLength="106.6" lengthAdjust="spacingAndGlyphs" >&gt; 1109: Healthy Spruces</text>
<circle cx="474.9" cy="211.2" r="5" fill="none" stroke="#e03030" stroke-width="1"/>
<circle cx="474.9" cy="225" r="5" fill="none" stroke="#f08080" stroke-width="1"/>
<circle cx="474.9" cy="247.2" r="5" fill="none" stroke="#e8e850" stroke-width="1"/>
<circle cx="474.9" cy="260" r="5" fill="none" stroke="#f0f0a8" stroke-width="1"/>
<text x="486.3" y="214.9" font-family="Liberation Sans, sans-serif" font-size="9.3" fill="#2a2a2a" stroke="#2a2a2a" stroke-width="0.2" font-weight="normal" text-anchor="start" textLength="138.2" lengthAdjust="spacingAndGlyphs" >clearly infested ("brown crown")</text>
<text x="486.3" y="227" font-family="Liberation Sans, sans-serif" font-size="9.3" fill="#2a2a2a" stroke="#2a2a2a" stroke-width="0.2" font-weight="normal" text-anchor="start" textLength="90.9" lengthAdjust="spacingAndGlyphs" >ambiguously infested</text>
<text x="486.3" y="238.9" font-family="Liberation Sans, sans-serif" font-size="9.3" fill="#2a2a2a" stroke="#2a2a2a" stroke-width="0.2" font-weight="normal" text-anchor="start" textLength="71" lengthAdjust="spacingAndGlyphs" >("brown crown")</text>
<text x="486.3" y="250.5" font-family="Liberation Sans, sans-serif" font-size="9.3" fill="#2a2a2a" stroke="#2a2a2a" stroke-width="0.2" font-weight="normal" text-anchor="start" textLength="136.3" lengthAdjust="spacingAndGlyphs" >clearly infested ("green attack")</text>
<text x="486.3" y="264.1" font-family="Liberation Sans, sans-serif" font-size="9.3" fill="#2a2a2a" stroke="#2a2a2a" stroke-width="0.2" font-weight="normal" text-anchor="start" textLength="90.9" lengthAdjust="spacingAndGlyphs" >ambiguously infested</text>
<text x="486.3" y="275.8" font-family="Liberation Sans, sans-serif" font-size="9.3" fill="#2a2a2a" stroke="#2a2a2a" stroke-width="0.2" font-weight="normal" text-anchor="start" textLength="68.7" lengthAdjust="spacingAndGlyphs" >("green attack")</text>
<rect x="23" y="20" width="624" height="433" fill="none" stroke="#333" stroke-width="1.2"/>
<text x="48" y="462.1" font-family="Liberation Sans, sans-serif" font-size="8.2" fill="#555" stroke="#555" stroke-width="0.2" font-weight="normal" text-anchor="middle" textLength="36.4" lengthAdjust="spacingAndGlyphs" >688,450 E</text>
<text x="211" y="462.1" font-family="Liberation Sans, sans-serif" font-size="8.2" fill="#555" stroke="#555" stroke-width="0.2" font-weight="normal" text-anchor="middle" textLength="36.4" lengthAdjust="spacingAndGlyphs" >688,475 E</text>
<text x="374.5" y="462.1" font-family="Liberation Sans, sans-serif" font-size="8.2" fill="#555" stroke="#555" stroke-width="0.2" font-weight="normal" text-anchor="middle" textLength="36.4" lengthAdjust="spacingAndGlyphs" >688,500 E</text>
<text x="538" y="462.1" font-family="Liberation Sans, sans-serif" font-size="8.2" fill="#555" stroke="#555" stroke-width="0.2" font-weight="normal" text-anchor="middle" textLength="36.4" lengthAdjust="spacingAndGlyphs" >688,525 E</text>
<text transform="translate(656,170) rotate(-90)" font-family="Liberation Sans, sans-serif" font-size="7.5" fill="#555" text-anchor="middle" textLength="44" lengthAdjust="spacingAndGlyphs">5,636,025 N</text>
<text transform="translate(656,333) rotate(-90)" font-family="Liberation Sans, sans-serif" font-size="7.5" fill="#555" text-anchor="middle" textLength="44" lengthAdjust="spacingAndGlyphs">5,636,000 N</text></g>
<g transform="translate(18.5,509.2) scale(1.012) translate(-23,-20)"><use href="#mapbase"/>
<circle cx="128.7" cy="219" r="17" fill="#f4e4f4" fill-opacity="0.55"/>
<circle cx="165.2" cy="237.5" r="15.5" fill="#f4e4f4" fill-opacity="0.55"/>
<circle cx="133.5" cy="260.1" r="11" fill="#f4e4f4" fill-opacity="0.55"/>
<path d="M114 214 V208 H117 V205 H121 V203 H124 V206 H127 V202 H131 V205 H134 V208 H138 V210 H141 V213 H144 V219 H141 V222 H137 V226 H134 V230 H139 V233 H127 V230 H122 V227 H126 V223 H121 V220 H117 V217 H114 Z" fill="#f20000"/>
<rect x="134.6" y="209.5" width="2" height="3.5" fill="#f0e040"/>
<path d="M160 229 V225 H162 V223 H166 V227 H169 V231 H172 V235 H175 V238 H179 V241 H174 V243 H171 V247 H167 V249 H163 V245 H158 V248 H154 V245 H151 V241 H154 V237 H157 V233 H159 Z" fill="#f20000"/>
<path d="M130 252 H136 V255 H139 V258 H134 V261 H140 V265 H137 V268 H131 V266 H124 V262 H127 V259 H130 V256 H129 Z" fill="#f20000"/>
<path d="M127.2 159 H129.6 V171.4 H120.5 V168.7 H127.2 Z" fill="#f20000"/>
<path d="M131 160 H135 V158 H138 V163 H134 V165 H131 Z" fill="#12f212"/>
<path d="M148 160 H151 V157 H155 V160 H158 V164 H156 V168 H158 V172 H153 V175 H149 V171 H146 V166 H148 Z" fill="#f4f000"/>
<path d="M157 161 H163 V164 H160 V167 H164 V171 H160 V174 H157 V170 H159 V166 H157 Z" fill="#f20000"/>
<path d="M167 200 H172 V198 H175 V203 H178 V208 H175 V213 H170 V210 H166 V205 H168 Z" fill="#f4f000"/>
<rect x="170" y="204" width="3" height="3" fill="#f4f000"/>
<path d="M187.3 225 L192 223.5 L194 221.8 L196 223.5 L201.5 224.5 L196 226.2 L194 228.4 L192 226.5 Z" fill="#f20000"/>
<path d="M221 213 H225 V216 H229 V214 H233 V218 H229 V221 H227 V226 H229 V229 H224 V221 H221 Z" fill="#f4f000"/>
<path d="M221 213 H225 V216 H229 V214 H233 V218 H229 V221 H227 V226 H229 V229 H224 V221 H221 Z" fill="none" stroke="#8a8a20" stroke-width="0.4"/>
<path d="M189 252 H194 V255 H191 V258 H188 Z" fill="#12f212"/><path d="M196 256 H201 V260 H198 V264 H195 Z" fill="#12f212"/><path d="M192 261 H196 V265 H192 Z" fill="#f4f000"/><path d="M198 251 H202 V254 H198 Z" fill="#f4f000"/>
<path d="M53 128 H60 V126 H64 V131 H67 V137 H63 V141 H56 V138 H52 V133 H54 Z" fill="#f4f000"/>
<path d="M62 131 H66 V138 H62 Z" fill="#12f212"/>
<path d="M160 145 H166 V148 H169 V152 H164 V155 H160 Z" fill="#f4f000"/>
<circle cx="128.7" cy="219" r="18.5" fill="none" stroke="#e82020" stroke-width="1.3"/>
<circle cx="165.2" cy="237.5" r="16.8" fill="none" stroke="#e82020" stroke-width="1.3"/>
<circle cx="133.5" cy="260.1" r="12.3" fill="none" stroke="#e82020" stroke-width="1.3"/>
<circle cx="154.6" cy="165.9" r="12" fill="none" stroke="#e82020" stroke-width="1.3" stroke-dasharray="2 1.6"/>
<circle cx="129" cy="166.9" r="11.7" fill="none" stroke="#f0d040" stroke-width="1.3"/>
<circle cx="224.2" cy="219.3" r="11.9" fill="none" stroke="#f0d040" stroke-width="1.3"/>
<circle cx="194.7" cy="259.2" r="13.3" fill="none" stroke="#f0d040" stroke-width="1.3" stroke-dasharray="2 1.6"/>
<circle cx="170.8" cy="206.3" r="11.5" fill="none" stroke="#f0d040" stroke-width="1.3"/>
<circle cx="59.1" cy="134.5" r="12.4" fill="none" stroke="#f0d040" stroke-width="1.3" stroke-dasharray="2 1.6"/>
<text x="235.8" y="218.7" font-family="Liberation Sans, sans-serif" font-size="9.5" fill="#111" stroke="#111" stroke-width="0.2" font-weight="bold" text-anchor="start" textLength="10.5" lengthAdjust="spacingAndGlyphs" >T1</text>
<text x="311.2" y="232.9" font-family="Liberation Sans, sans-serif" font-size="9.5" fill="#111" stroke="#111" stroke-width="0.2" font-weight="bold" text-anchor="start" textLength="10.5" lengthAdjust="spacingAndGlyphs" >T3</text>
<text x="274.8" y="271" font-family="Liberation Sans, sans-serif" font-size="9.5" fill="#111" stroke="#111" stroke-width="0.2" font-weight="bold" text-anchor="start" textLength="10.5" lengthAdjust="spacingAndGlyphs" >T2</text>
<path d="M40.1 169.6 H54.699999999999996 M47.4 162.29999999999998 V176.9" stroke="#222" stroke-width="0.8" fill="none"/>
<path d="M203.5 169.6 H218.10000000000002 M210.8 162.29999999999998 V176.9" stroke="#222" stroke-width="0.8" fill="none"/>
<path d="M367.2 169.6 H381.8 M374.5 162.29999999999998 V176.9" stroke="#222" stroke-width="0.8" fill="none"/>
<path d="M40.1 333 H54.699999999999996 M47.4 325.7 V340.3" stroke="#222" stroke-width="0.8" fill="none"/>
<path d="M203.5 333 H218.10000000000002 M210.8 325.7 V340.3" stroke="#222" stroke-width="0.8" fill="none"/>
<path d="M367.2 333 H381.8 M374.5 325.7 V340.3" stroke="#222" stroke-width="0.8" fill="none"/>
<path d="M530.7 333 H545.3 M538 325.7 V340.3" stroke="#222" stroke-width="0.8" fill="none"/>
<circle cx="40.1" cy="53.1" r="10.2" fill="none" stroke="#f0e0f0" stroke-width="1.3"/>
<path d="M39.3 36 L49.7 61.5 L39.7 53.5 L30.6 60 Z" fill="#0a0a0a" stroke="#fff" stroke-width="0.6"/>
<path d="M39.3 36 L49.7 61.5 L39.7 53.5 Z" fill="#2a2a2a"/>
<text x="36.8" y="33" font-family="Liberation Sans, sans-serif" font-size="6.5" fill="#111" stroke="#111" stroke-width="0.2" font-weight="bold" text-anchor="start" >N</text>
<rect x="29.8" y="439.5" width="195.8" height="7.1" fill="#000"/>
<rect x="95" y="440.4" width="64.5" height="5.2" fill="#fff"/>
<text x="26.9" y="432.8" font-family="Liberation Sans, sans-serif" font-size="9.5" fill="#111" stroke="#111" stroke-width="0.2" font-weight="bold" text-anchor="start" textLength="5" lengthAdjust="spacingAndGlyphs" >0</text>
<text x="89.7" y="432.8" font-family="Liberation Sans, sans-serif" font-size="9.5" fill="#111" stroke="#111" stroke-width="0.2" font-weight="bold" text-anchor="start" textLength="10.6" lengthAdjust="spacingAndGlyphs" >10</text>
<text x="154.5" y="432.8" font-family="Liberation Sans, sans-serif" font-size="9.5" fill="#111" stroke="#111" stroke-width="0.2" font-weight="bold" text-anchor="start" textLength="11.6" lengthAdjust="spacingAndGlyphs" >20</text>
<text x="219.4" y="432.8" font-family="Liberation Sans, sans-serif" font-size="9.5" fill="#111" stroke="#111" stroke-width="0.2" font-weight="bold" text-anchor="start" textLength="24" lengthAdjust="spacingAndGlyphs" >30 m</text>
<rect x="512.7" y="418.5" width="134.3" height="34.5" fill="#fff" stroke="#3a3a3a" stroke-width="1"/>
<text x="515.3" y="429.6" font-family="Liberation Sans, sans-serif" font-size="7" fill="#2a2a2a" stroke="#2a2a2a" stroke-width="0.2" font-weight="normal" text-anchor="start" textLength="110" lengthAdjust="spacingAndGlyphs" >CRS: WGS 84 / UTM zone 32N</text>
<text x="515.5" y="449" font-family="Liberation Sans, sans-serif" font-size="7" fill="#2a2a2a" stroke="#2a2a2a" stroke-width="0.2" font-weight="normal" text-anchor="start" textLength="128" lengthAdjust="spacingAndGlyphs" >Map Author: Florian Marcus Hellwig</text>
<rect x="460.7" y="20.5" width="186" height="261.5" fill="#fff" stroke="#3a3a3a" stroke-width="1"/>
<text x="465.3" y="38.5" font-family="Liberation Sans, sans-serif" font-size="12.5" fill="#2a2a2a" stroke="#2a2a2a" stroke-width="0.2" font-weight="normal" text-anchor="start" textLength="40.8" lengthAdjust="spacingAndGlyphs" >Legend</text>
<text x="465.3" y="58.6" font-family="Liberation Sans, sans-serif" font-size="9.3" fill="#2a2a2a" stroke="#2a2a2a" stroke-width="0.2" font-weight="normal" text-anchor="start" textLength="108.8" lengthAdjust="spacingAndGlyphs" >HySpex (RGB Composite)</text>
<rect x="465" y="64.6" width="16.5" height="9.4" fill="#f00000"/>
<rect x="465" y="79.9" width="16.5" height="8.9" fill="#20ee20"/>
<rect x="465" y="95.2" width="16.5" height="8.5" fill="#0000f0"/>
<text x="485.7" y="73" font-family="Liberation Sans, sans-serif" font-size="9.3" fill="#2a2a2a" stroke="#2a2a2a" stroke-width="0.2" font-weight="normal" text-anchor="start" textLength="69.7" lengthAdjust="spacingAndGlyphs" >Red: 614.14 nm</text>
<text x="485.7" y="88.3" font-family="Liberation Sans, sans-serif" font-size="9.3" fill="#2a2a2a" stroke="#2a2a2a" stroke-width="0.2" font-weight="normal" text-anchor="start" textLength="78.6" lengthAdjust="spacingAndGlyphs" >Green: 563.16 nm</text>
<text x="485.7" y="103.3" font-family="Liberation Sans, sans-serif" font-size="9.3" fill="#2a2a2a" stroke="#2a2a2a" stroke-width="0.2" font-weight="normal" text-anchor="start" textLength="71.8" lengthAdjust="spacingAndGlyphs" >Blue: 453.91 nm</text>
<text x="465.4" y="121.3" font-family="Liberation Sans, sans-serif" font-size="9.3" fill="#2a2a2a" stroke="#2a2a2a" stroke-width="0.2" font-weight="normal" text-anchor="start" textLength="178.5" lengthAdjust="spacingAndGlyphs" >Hyperspectral Vegetation Index 2 (HVI 2)</text>
<text x="489.1" y="134.6" font-family="Liberation Sans, sans-serif" font-size="9.3" fill="#2a2a2a" stroke="#2a2a2a" stroke-width="0.2" font-weight="normal" text-anchor="start" textLength="70.1" lengthAdjust="spacingAndGlyphs" >Value: Condition</text>
<rect x="464.8" y="140.7" width="16.3" height="8.9" fill="#f00000"/>
<rect x="464.8" y="165.9" width="16.3" height="9.5" fill="#e0f000"/>
<rect x="464.8" y="191.7" width="16.3" height="8.7" fill="#30e030"/>
<text x="486.3" y="148.3" font-family="Liberation Sans, sans-serif" font-size="9.3" fill="#2a2a2a" stroke="#2a2a2a" stroke-width="0.2" font-weight="normal" text-anchor="start" textLength="123.9" lengthAdjust="spacingAndGlyphs" >&gt; −1731.1: Infested Spruces</text>
<text x="486.3" y="159.9" font-family="Liberation Sans, sans-serif" font-size="9.3" fill="#2a2a2a" stroke="#2a2a2a" stroke-width="0.2" font-weight="normal" text-anchor="start" textLength="71" lengthAdjust="spacingAndGlyphs" >("brown crown")</text>
<text x="486.3" y="174" font-family="Liberation Sans, sans-serif" font-size="9.3" fill="#2a2a2a" stroke="#2a2a2a" stroke-width="0.2" font-weight="normal" text-anchor="start" textLength="152.7" lengthAdjust="spacingAndGlyphs" >−2030.1—1731.1: Infested Spruces</text>
<text x="486.3" y="186.2" font-family="Liberation Sans, sans-serif" font-size="9.3" fill="#2a2a2a" stroke="#2a2a2a" stroke-width="0.2" font-weight="normal" text-anchor="start" textLength="68.7" lengthAdjust="spacingAndGlyphs" >("green attack")</text>
<text x="486.3" y="200.1" font-family="Liberation Sans, sans-serif" font-size="9.3" fill="#2a2a2a" stroke="#2a2a2a" stroke-width="0.2" font-weight="normal" text-anchor="start" textLength="120.3" lengthAdjust="spacingAndGlyphs" >&lt; −2030.1: Healthy Spruces</text>
<circle cx="474.9" cy="211.2" r="5" fill="none" stroke="#e03030" stroke-width="1"/>
<circle cx="474.9" cy="225" r="5" fill="none" stroke="#e05050" stroke-width="1" stroke-dasharray="1.5 1.2"/>
<circle cx="474.9" cy="247.2" r="5" fill="none" stroke="#e8e850" stroke-width="1"/>
<circle cx="474.9" cy="260" r="5" fill="none" stroke="#f0f0a8" stroke-width="1"/>
<text x="486.3" y="214.9" font-family="Liberation Sans, sans-serif" font-size="9.3" fill="#2a2a2a" stroke="#2a2a2a" stroke-width="0.2" font-weight="normal" text-anchor="start" textLength="138.2" lengthAdjust="spacingAndGlyphs" >clearly infested ("brown crown")</text>
<text x="486.3" y="227" font-family="Liberation Sans, sans-serif" font-size="9.3" fill="#2a2a2a" stroke="#2a2a2a" stroke-width="0.2" font-weight="normal" text-anchor="start" textLength="90.9" lengthAdjust="spacingAndGlyphs" >ambiguously infested</text>
<text x="486.3" y="238.9" font-family="Liberation Sans, sans-serif" font-size="9.3" fill="#2a2a2a" stroke="#2a2a2a" stroke-width="0.2" font-weight="normal" text-anchor="start" textLength="71" lengthAdjust="spacingAndGlyphs" >("brown crown")</text>
<text x="486.3" y="250.5" font-family="Liberation Sans, sans-serif" font-size="9.3" fill="#2a2a2a" stroke="#2a2a2a" stroke-width="0.2" font-weight="normal" text-anchor="start" textLength="136.3" lengthAdjust="spacingAndGlyphs" >clearly infested ("green attack")</text>
<text x="486.3" y="264.1" font-family="Liberation Sans, sans-serif" font-size="9.3" fill="#2a2a2a" stroke="#2a2a2a" stroke-width="0.2" font-weight="normal" text-anchor="start" textLength="90.9" lengthAdjust="spacingAndGlyphs" >ambiguously infested</text>
<text x="486.3" y="275.8" font-family="Liberation Sans, sans-serif" font-size="9.3" fill="#2a2a2a" stroke="#2a2a2a" stroke-width="0.2" font-weight="normal" text-anchor="start" textLength="68.7" lengthAdjust="spacingAndGlyphs" >("green attack")</text>
<rect x="23" y="20" width="624" height="433" fill="none" stroke="#333" stroke-width="1.2"/>
<text x="48" y="462.1" font-family="Liberation Sans, sans-serif" font-size="8.2" fill="#555" stroke="#555" stroke-width="0.2" font-weight="normal" text-anchor="middle" textLength="36.4" lengthAdjust="spacingAndGlyphs" >688,450 E</text>
<text x="211" y="462.1" font-family="Liberation Sans, sans-serif" font-size="8.2" fill="#555" stroke="#555" stroke-width="0.2" font-weight="normal" text-anchor="middle" textLength="36.4" lengthAdjust="spacingAndGlyphs" >688,475 E</text>
<text x="374.5" y="462.1" font-family="Liberation Sans, sans-serif" font-size="8.2" fill="#555" stroke="#555" stroke-width="0.2" font-weight="normal" text-anchor="middle" textLength="36.4" lengthAdjust="spacingAndGlyphs" >688,500 E</text>
<text x="538" y="462.1" font-family="Liberation Sans, sans-serif" font-size="8.2" fill="#555" stroke="#555" stroke-width="0.2" font-weight="normal" text-anchor="middle" textLength="36.4" lengthAdjust="spacingAndGlyphs" >688,525 E</text>
<text transform="translate(656,170) rotate(-90)" font-family="Liberation Sans, sans-serif" font-size="7.5" fill="#555" text-anchor="middle" textLength="44" lengthAdjust="spacingAndGlyphs">5,636,025 N</text>
<text transform="translate(656,333) rotate(-90)" font-family="Liberation Sans, sans-serif" font-size="7.5" fill="#555" text-anchor="middle" textLength="44" lengthAdjust="spacingAndGlyphs">5,636,000 N</text></g>
<line x1="764.4" x2="1244.0" y1="342.90" y2="342.90" stroke="#e6e6e6" stroke-width="1"/>
<line x1="764.4" x2="1244.0" y1="333.68" y2="333.68" stroke="#f3f3f3" stroke-width="1"/>
<line x1="764.4" x2="1244.0" y1="324.46" y2="324.46" stroke="#f3f3f3" stroke-width="1"/>
<line x1="764.4" x2="1244.0" y1="315.24" y2="315.24" stroke="#f3f3f3" stroke-width="1"/>
<line x1="764.4" x2="1244.0" y1="306.02" y2="306.02" stroke="#f3f3f3" stroke-width="1"/>
<line x1="764.4" x2="1244.0" y1="296.80" y2="296.80" stroke="#e6e6e6" stroke-width="1"/>
<line x1="764.4" x2="1244.0" y1="287.58" y2="287.58" stroke="#f3f3f3" stroke-width="1"/>
<line x1="764.4" x2="1244.0" y1="278.36" y2="278.36" stroke="#f3f3f3" stroke-width="1"/>
<line x1="764.4" x2="1244.0" y1="269.14" y2="269.14" stroke="#f3f3f3" stroke-width="1"/>
<line x1="764.4" x2="1244.0" y1="259.92" y2="259.92" stroke="#f3f3f3" stroke-width="1"/>
<line x1="764.4" x2="1244.0" y1="250.70" y2="250.70" stroke="#e6e6e6" stroke-width="1"/>
<line x1="764.4" x2="1244.0" y1="241.48" y2="241.48" stroke="#f3f3f3" stroke-width="1"/>
<line x1="764.4" x2="1244.0" y1="232.26" y2="232.26" stroke="#f3f3f3" stroke-width="1"/>
<line x1="764.4" x2="1244.0" y1="223.04" y2="223.04" stroke="#f3f3f3" stroke-width="1"/>
<line x1="764.4" x2="1244.0" y1="213.82" y2="213.82" stroke="#f3f3f3" stroke-width="1"/>
<line x1="764.4" x2="1244.0" y1="204.60" y2="204.60" stroke="#e6e6e6" stroke-width="1"/>
<line x1="764.4" x2="1244.0" y1="195.38" y2="195.38" stroke="#f3f3f3" stroke-width="1"/>
<line x1="764.4" x2="1244.0" y1="186.16" y2="186.16" stroke="#f3f3f3" stroke-width="1"/>
<line x1="764.4" x2="1244.0" y1="176.94" y2="176.94" stroke="#f3f3f3" stroke-width="1"/>
<line x1="764.4" x2="1244.0" y1="167.72" y2="167.72" stroke="#f3f3f3" stroke-width="1"/>
<line x1="764.4" x2="1244.0" y1="158.50" y2="158.50" stroke="#e6e6e6" stroke-width="1"/>
<line x1="764.4" x2="1244.0" y1="149.28" y2="149.28" stroke="#f3f3f3" stroke-width="1"/>
<line x1="764.4" x2="1244.0" y1="140.06" y2="140.06" stroke="#f3f3f3" stroke-width="1"/>
<line x1="764.4" x2="1244.0" y1="130.84" y2="130.84" stroke="#f3f3f3" stroke-width="1"/>
<line x1="764.4" x2="1244.0" y1="121.62" y2="121.62" stroke="#f3f3f3" stroke-width="1"/>
<line x1="764.4" x2="1244.0" y1="112.40" y2="112.40" stroke="#e6e6e6" stroke-width="1"/>
<line x1="764.40" x2="764.40" y1="112.4" y2="342.9" stroke="#e3e3e3" stroke-width="1"/>
<line x1="777.72" x2="777.72" y1="112.4" y2="342.9" stroke="#e3e3e3" stroke-width="1"/>
<line x1="791.04" x2="791.04" y1="112.4" y2="342.9" stroke="#e3e3e3" stroke-width="1"/>
<line x1="804.37" x2="804.37" y1="112.4" y2="342.9" stroke="#e3e3e3" stroke-width="1"/>
<line x1="817.69" x2="817.69" y1="112.4" y2="342.9" stroke="#e3e3e3" stroke-width="1"/>
<line x1="831.01" x2="831.01" y1="112.4" y2="342.9" stroke="#e3e3e3" stroke-width="1"/>
<line x1="844.33" x2="844.33" y1="112.4" y2="342.9" stroke="#e3e3e3" stroke-width="1"/>
<line x1="857.66" x2="857.66" y1="112.4" y2="342.9" stroke="#e3e3e3" stroke-width="1"/>
<line x1="870.98" x2="870.98" y1="112.4" y2="342.9" stroke="#e3e3e3" stroke-width="1"/>
<line x1="884.30" x2="884.30" y1="112.4" y2="342.9" stroke="#e3e3e3" stroke-width="1"/>
<line x1="897.62" x2="897.62" y1="112.4" y2="342.9" stroke="#e3e3e3" stroke-width="1"/>
<line x1="910.94" x2="910.94" y1="112.4" y2="342.9" stroke="#e3e3e3" stroke-width="1"/>
<line x1="924.27" x2="924.27" y1="112.4" y2="342.9" stroke="#e3e3e3" stroke-width="1"/>
<line x1="937.59" x2="937.59" y1="112.4" y2="342.9" stroke="#e3e3e3" stroke-width="1"/>
<line x1="950.91" x2="950.91" y1="112.4" y2="342.9" stroke="#e3e3e3" stroke-width="1"/>
<line x1="964.23" x2="964.23" y1="112.4" y2="342.9" stroke="#e3e3e3" stroke-width="1"/>
<line x1="977.56" x2="977.56" y1="112.4" y2="342.9" stroke="#e3e3e3" stroke-width="1"/>
<line x1="990.88" x2="990.88" y1="112.4" y2="342.9" stroke="#e3e3e3" stroke-width="1"/>
<line x1="1004.20" x2="1004.20" y1="112.4" y2="342.9" stroke="#e3e3e3" stroke-width="1"/>
<line x1="1017.52" x2="1017.52" y1="112.4" y2="342.9" stroke="#e3e3e3" stroke-width="1"/>
<line x1="1030.84" x2="1030.84" y1="112.4" y2="342.9" stroke="#e3e3e3" stroke-width="1"/>
<line x1="1044.17" x2="1044.17" y1="112.4" y2="342.9" stroke="#e3e3e3" stroke-width="1"/>
<line x1="1057.49" x2="1057.49" y1="112.4" y2="342.9" stroke="#e3e3e3" stroke-width="1"/>
<line x1="1070.81" x2="1070.81" y1="112.4" y2="342.9" stroke="#e3e3e3" stroke-width="1"/>
<line x1="1084.13" x2="1084.13" y1="112.4" y2="342.9" stroke="#e3e3e3" stroke-width="1"/>
<line x1="1097.46" x2="1097.46" y1="112.4" y2="342.9" stroke="#e3e3e3" stroke-width="1"/>
<line x1="1110.78" x2="1110.78" y1="112.4" y2="342.9" stroke="#e3e3e3" stroke-width="1"/>
<line x1="1124.10" x2="1124.10" y1="112.4" y2="342.9" stroke="#e3e3e3" stroke-width="1"/>
<line x1="1137.42" x2="1137.42" y1="112.4" y2="342.9" stroke="#e3e3e3" stroke-width="1"/>
<line x1="1150.74" x2="1150.74" y1="112.4" y2="342.9" stroke="#e3e3e3" stroke-width="1"/>
<line x1="1164.07" x2="1164.07" y1="112.4" y2="342.9" stroke="#e3e3e3" stroke-width="1"/>
<line x1="1177.39" x2="1177.39" y1="112.4" y2="342.9" stroke="#e3e3e3" stroke-width="1"/>
<line x1="1190.71" x2="1190.71" y1="112.4" y2="342.9" stroke="#e3e3e3" stroke-width="1"/>
<line x1="1204.03" x2="1204.03" y1="112.4" y2="342.9" stroke="#e3e3e3" stroke-width="1"/>
<line x1="1217.36" x2="1217.36" y1="112.4" y2="342.9" stroke="#e3e3e3" stroke-width="1"/>
<line x1="1230.68" x2="1230.68" y1="112.4" y2="342.9" stroke="#e3e3e3" stroke-width="1"/>
<line x1="1244.00" x2="1244.00" y1="112.4" y2="342.9" stroke="#e3e3e3" stroke-width="1"/>
<line x1="764.4" x2="764.4" y1="112.4" y2="342.9" stroke="#d4d4d4" stroke-width="1.2"/>
<line x1="764.4" x2="1244.0" y1="342.9" y2="342.9" stroke="#d4d4d4" stroke-width="1.2"/>
<rect x="919.9" y="112.4" width="88.1" height="230.5" fill="#a0a0a0" fill-opacity="0.36" stroke="#8a8a8a" stroke-width="1.4"/>
<line x1="764.4" x2="1244.0" y1="115.4" y2="115.4" stroke="#f07070" stroke-opacity="0.7" stroke-width="1.3"/>
<line x1="764.4" x2="1244.0" y1="133.6" y2="133.6" stroke="#8c8c8c" stroke-width="1.4"/>
<line x1="930.7" x2="930.7" y1="115" y2="342.9" stroke="#e86a6a" stroke-opacity="0.85" stroke-width="1.2"/>
<circle cx="769.2" cy="306.1" r="2.35" fill="#5f82bc" stroke="#4a6858" stroke-width="1.0"/>
<circle cx="775" cy="294.7" r="2.35" fill="#5f82bc" stroke="#4a6858" stroke-width="1.0"/>
<circle cx="776.5" cy="283.5" r="2.35" fill="#5f82bc" stroke="#4a6858" stroke-width="1.0"/>
<circle cx="778.7" cy="271.7" r="2.35" fill="#5f82bc" stroke="#4a6858" stroke-width="1.0"/>
<circle cx="796.4" cy="260.5" r="2.35" fill="#5f82bc" stroke="#4a6858" stroke-width="1.0"/>
<circle cx="811.8" cy="249" r="2.35" fill="#5f82bc" stroke="#4a6858" stroke-width="1.0"/>
<circle cx="823.6" cy="237.6" r="2.35" fill="#5f82bc" stroke="#4a6858" stroke-width="1.0"/>
<circle cx="828.5" cy="226.1" r="2.35" fill="#5f82bc" stroke="#4a6858" stroke-width="1.0"/>
<circle cx="844.5" cy="214.7" r="2.35" fill="#5f82bc" stroke="#4a6858" stroke-width="1.0"/>
<circle cx="856.2" cy="203.2" r="2.35" fill="#5f82bc" stroke="#4a6858" stroke-width="1.0"/>
<circle cx="862.2" cy="191.7" r="2.35" fill="#5f82bc" stroke="#4a6858" stroke-width="1.0"/>
<circle cx="863.7" cy="180.3" r="2.35" fill="#5f82bc" stroke="#4a6858" stroke-width="1.0"/>
<circle cx="868.9" cy="169" r="2.35" fill="#5f82bc" stroke="#4a6858" stroke-width="1.0"/>
<circle cx="870.4" cy="145.9" r="2.35" fill="#5f82bc" stroke="#4a6858" stroke-width="1.0"/>
<circle cx="874.4" cy="149.6" r="2.35" fill="#5f82bc" stroke="#4a6858" stroke-width="1.0"/>
<circle cx="877.6" cy="138.1" r="2.35" fill="#5f82bc" stroke="#4a6858" stroke-width="1.0"/>
<circle cx="919.5" cy="126.7" r="2.35" fill="#5f82bc" stroke="#4a6858" stroke-width="1.0"/>
<circle cx="936.5" cy="118.7" r="2.35" fill="#5f82bc" stroke="#4a6858" stroke-width="1.0"/>
<circle cx="954.2" cy="122.4" r="2.35" fill="#5f82bc" stroke="#4a6858" stroke-width="1.0"/>
<circle cx="963.6" cy="125.9" r="2.35" fill="#5f82bc" stroke="#4a6858" stroke-width="1.0"/>
<circle cx="984.1" cy="129.4" r="2.35" fill="#5f82bc" stroke="#4a6858" stroke-width="1.0"/>
<circle cx="1007.6" cy="133.1" r="2.35" fill="#5f82bc" stroke="#4a6858" stroke-width="1.0"/>
<circle cx="1016.5" cy="136.9" r="2.35" fill="#5f82bc" stroke="#4a6858" stroke-width="1.0"/>
<circle cx="1025.4" cy="140.4" r="2.35" fill="#5f82bc" stroke="#4a6858" stroke-width="1.0"/>
<circle cx="1033.6" cy="144.1" r="2.35" fill="#5f82bc" stroke="#4a6858" stroke-width="1.0"/>
<circle cx="1060.6" cy="147.4" r="2.35" fill="#5f82bc" stroke="#4a6858" stroke-width="1.0"/>
<circle cx="1062.6" cy="154.6" r="2.35" fill="#5f82bc" stroke="#4a6858" stroke-width="1.0"/>
<circle cx="1074.3" cy="158.1" r="2.35" fill="#5f82bc" stroke="#4a6858" stroke-width="1.0"/>
<circle cx="1077" cy="161.8" r="2.35" fill="#5f82bc" stroke="#4a6858" stroke-width="1.0"/>
<circle cx="1086" cy="165.6" r="2.35" fill="#5f82bc" stroke="#4a6858" stroke-width="1.0"/>
<circle cx="1091.7" cy="169" r="2.35" fill="#5f82bc" stroke="#4a6858" stroke-width="1.0"/>
<circle cx="1096.7" cy="172.8" r="2.35" fill="#5f82bc" stroke="#4a6858" stroke-width="1.0"/>
<circle cx="1098.5" cy="176.3" r="2.35" fill="#5f82bc" stroke="#4a6858" stroke-width="1.0"/>
<circle cx="1102.2" cy="179.8" r="2.35" fill="#5f82bc" stroke="#4a6858" stroke-width="1.0"/>
<circle cx="1102.4" cy="183.5" r="2.35" fill="#5f82bc" stroke="#4a6858" stroke-width="1.0"/>
<circle cx="1111.9" cy="187" r="2.35" fill="#5f82bc" stroke="#4a6858" stroke-width="1.0"/>
<circle cx="1116.6" cy="190.7" r="2.35" fill="#5f82bc" stroke="#4a6858" stroke-width="1.0"/>
<circle cx="1117.9" cy="194.5" r="2.35" fill="#5f82bc" stroke="#4a6858" stroke-width="1.0"/>
<circle cx="1130.1" cy="198" r="2.35" fill="#5f82bc" stroke="#4a6858" stroke-width="1.0"/>
<circle cx="1139.6" cy="201.4" r="2.35" fill="#5f82bc" stroke="#4a6858" stroke-width="1.0"/>
<circle cx="1140.1" cy="204.9" r="2.35" fill="#5f82bc" stroke="#4a6858" stroke-width="1.0"/>
<circle cx="1141.8" cy="208.7" r="2.35" fill="#5f82bc" stroke="#4a6858" stroke-width="1.0"/>
<circle cx="1142.1" cy="212.4" r="2.35" fill="#5f82bc" stroke="#4a6858" stroke-width="1.0"/>
<circle cx="1150.8" cy="215.9" r="2.35" fill="#5f82bc" stroke="#4a6858" stroke-width="1.0"/>
<circle cx="1151.5" cy="219.6" r="2.35" fill="#5f82bc" stroke="#4a6858" stroke-width="1.0"/>
<circle cx="1158.5" cy="223.1" r="2.35" fill="#5f82bc" stroke="#4a6858" stroke-width="1.0"/>
<circle cx="1173.5" cy="227.4" r="2.35" fill="#5f82bc" stroke="#4a6858" stroke-width="1.0"/>
<circle cx="1173.7" cy="231.1" r="2.35" fill="#5f82bc" stroke="#4a6858" stroke-width="1.0"/>
<circle cx="1177.5" cy="234.6" r="2.35" fill="#5f82bc" stroke="#4a6858" stroke-width="1.0"/>
<circle cx="1179" cy="238.3" r="2.35" fill="#5f82bc" stroke="#4a6858" stroke-width="1.0"/>
<circle cx="1181.2" cy="242.1" r="2.35" fill="#5f82bc" stroke="#4a6858" stroke-width="1.0"/>
<circle cx="1186.9" cy="245.8" r="2.35" fill="#5f82bc" stroke="#4a6858" stroke-width="1.0"/>
<circle cx="1194.7" cy="249.3" r="2.35" fill="#5f82bc" stroke="#4a6858" stroke-width="1.0"/>
<circle cx="1195.2" cy="252.8" r="2.35" fill="#5f82bc" stroke="#4a6858" stroke-width="1.0"/>
<circle cx="1195.9" cy="256.3" r="2.35" fill="#5f82bc" stroke="#4a6858" stroke-width="1.0"/>
<circle cx="1196.7" cy="260" r="2.35" fill="#5f82bc" stroke="#4a6858" stroke-width="1.0"/>
<circle cx="1202.9" cy="263.8" r="2.35" fill="#5f82bc" stroke="#4a6858" stroke-width="1.0"/>
<circle cx="1205.6" cy="267.2" r="2.35" fill="#5f82bc" stroke="#4a6858" stroke-width="1.0"/>
<circle cx="1216.6" cy="270.7" r="2.35" fill="#5f82bc" stroke="#4a6858" stroke-width="1.0"/>
<circle cx="1220.1" cy="274.5" r="2.35" fill="#5f82bc" stroke="#4a6858" stroke-width="1.0"/>
<circle cx="1233.1" cy="281.7" r="2.35" fill="#5f82bc" stroke="#4a6858" stroke-width="1.0"/>
<circle cx="1236.8" cy="288.9" r="2.35" fill="#5f82bc" stroke="#4a6858" stroke-width="1.0"/>
<circle cx="1238" cy="292.4" r="2.35" fill="#5f82bc" stroke="#4a6858" stroke-width="1.0"/>
<circle cx="1241.8" cy="295.9" r="2.35" fill="#5f82bc" stroke="#4a6858" stroke-width="1.0"/>
<path d="M930.7 112.2 L933.4 115.2 L930.7 118.2 L928 115.2 Z" fill="#e01818"/>
<line x1="922" x2="1006" y1="315.1" y2="315.1" stroke="#777" stroke-width="1.2"/>
<path d="M920.5 315.1 L926 312.9 L926 317.3 Z" fill="#777"/><path d="M1007.4 315.1 L1002 312.9 L1002 317.3 Z" fill="#777"/>
<text x="915.3" y="127" font-family="Liberation Serif, serif" font-size="11" fill="#e8505a" text-anchor="end">OAA = 99.6%</text>
<text x="963.8" y="282" font-family="Liberation Serif, serif" font-size="11" fill="#444" text-anchor="middle">OAA ≥ 97.5%</text>
<text x="963.8" y="295.8" font-family="Liberation Serif, serif" font-size="11" fill="#444" text-anchor="middle">(≙ Error</text>
<text x="963.8" y="309.5" font-family="Liberation Serif, serif" font-size="11" fill="#444" text-anchor="middle">Tolerance ≤ 2.5%)</text>
<text x="963.8" y="325.2" font-family="Liberation Serif, serif" font-size="11" fill="#444" text-anchor="middle">Normalized</text>
<text x="963.8" y="338.2" font-family="Liberation Serif, serif" font-size="11" fill="#444" text-anchor="middle">Range = 0.08</text>
<text x="755.5" y="115.4" font-family="Liberation Serif, serif" font-size="9" fill="#777" text-anchor="end">100</text>
<text x="755.5" y="161.5" font-family="Liberation Serif, serif" font-size="9" fill="#777" text-anchor="end">95</text>
<text x="755.5" y="207.6" font-family="Liberation Serif, serif" font-size="9" fill="#777" text-anchor="end">90</text>
<text x="755.5" y="253.7" font-family="Liberation Serif, serif" font-size="9" fill="#777" text-anchor="end">85</text>
<text x="755.5" y="299.8" font-family="Liberation Serif, serif" font-size="9" fill="#777" text-anchor="end">80</text>
<text x="755.5" y="345.9" font-family="Liberation Serif, serif" font-size="9" fill="#777" text-anchor="end">75</text>
<text x="764.4" y="359" font-family="Liberation Serif, serif" font-size="9" fill="#777" text-anchor="middle">980</text>
<text x="831.0" y="359" font-family="Liberation Serif, serif" font-size="9" fill="#777" text-anchor="middle">1030</text>
<text x="897.6" y="359" font-family="Liberation Serif, serif" font-size="9" fill="#777" text-anchor="middle">1080</text>
<text x="964.2" y="359" font-family="Liberation Serif, serif" font-size="9" fill="#777" text-anchor="middle">1130</text>
<text x="1030.8" y="359" font-family="Liberation Serif, serif" font-size="9" fill="#777" text-anchor="middle">1180</text>
<text x="1097.5" y="359" font-family="Liberation Serif, serif" font-size="9" fill="#777" text-anchor="middle">1230</text>
<text x="1164.1" y="359" font-family="Liberation Serif, serif" font-size="9" fill="#777" text-anchor="middle">1280</text>
<text x="1230.7" y="359" font-family="Liberation Serif, serif" font-size="9" fill="#777" text-anchor="middle">1330</text>
<text x="928.3" y="359.6" font-family="Liberation Serif, serif" font-size="10.5" fill="#f02020" text-anchor="middle" textLength="20.6" lengthAdjust="spacingAndGlyphs">1105</text>
<text x="1003.5" y="375.8" font-family="Liberation Serif, serif" font-size="10.8" font-weight="bold" fill="#606060" text-anchor="middle">Hyperspectral Vegetation Index 1 (HVI 1)</text>
<text transform="translate(737.2,227.8) rotate(-90)" font-family="Liberation Serif, serif" font-size="10.5" font-weight="bold" fill="#5a5a5a" text-anchor="middle" textLength="98.5" lengthAdjust="spacingAndGlyphs">Overall Accuracy [%]</text>
<line x1="754.3" x2="1250.6" y1="842.90" y2="842.90" stroke="#e6e6e6" stroke-width="1"/>
<line x1="754.3" x2="1250.6" y1="832.93" y2="832.93" stroke="#f3f3f3" stroke-width="1"/>
<line x1="754.3" x2="1250.6" y1="822.96" y2="822.96" stroke="#f3f3f3" stroke-width="1"/>
<line x1="754.3" x2="1250.6" y1="812.98" y2="812.98" stroke="#f3f3f3" stroke-width="1"/>
<line x1="754.3" x2="1250.6" y1="803.01" y2="803.01" stroke="#f3f3f3" stroke-width="1"/>
<line x1="754.3" x2="1250.6" y1="793.04" y2="793.04" stroke="#e6e6e6" stroke-width="1"/>
<line x1="754.3" x2="1250.6" y1="783.07" y2="783.07" stroke="#f3f3f3" stroke-width="1"/>
<line x1="754.3" x2="1250.6" y1="773.10" y2="773.10" stroke="#f3f3f3" stroke-width="1"/>
<line x1="754.3" x2="1250.6" y1="763.12" y2="763.12" stroke="#f3f3f3" stroke-width="1"/>
<line x1="754.3" x2="1250.6" y1="753.15" y2="753.15" stroke="#f3f3f3" stroke-width="1"/>
<line x1="754.3" x2="1250.6" y1="743.18" y2="743.18" stroke="#e6e6e6" stroke-width="1"/>
<line x1="754.3" x2="1250.6" y1="733.21" y2="733.21" stroke="#f3f3f3" stroke-width="1"/>
<line x1="754.3" x2="1250.6" y1="723.24" y2="723.24" stroke="#f3f3f3" stroke-width="1"/>
<line x1="754.3" x2="1250.6" y1="713.26" y2="713.26" stroke="#f3f3f3" stroke-width="1"/>
<line x1="754.3" x2="1250.6" y1="703.29" y2="703.29" stroke="#f3f3f3" stroke-width="1"/>
<line x1="754.3" x2="1250.6" y1="693.32" y2="693.32" stroke="#e6e6e6" stroke-width="1"/>
<line x1="754.3" x2="1250.6" y1="683.35" y2="683.35" stroke="#f3f3f3" stroke-width="1"/>
<line x1="754.3" x2="1250.6" y1="673.38" y2="673.38" stroke="#f3f3f3" stroke-width="1"/>
<line x1="754.3" x2="1250.6" y1="663.40" y2="663.40" stroke="#f3f3f3" stroke-width="1"/>
<line x1="754.3" x2="1250.6" y1="653.43" y2="653.43" stroke="#f3f3f3" stroke-width="1"/>
<line x1="754.3" x2="1250.6" y1="643.46" y2="643.46" stroke="#e6e6e6" stroke-width="1"/>
<line x1="754.3" x2="1250.6" y1="633.49" y2="633.49" stroke="#f3f3f3" stroke-width="1"/>
<line x1="754.3" x2="1250.6" y1="623.52" y2="623.52" stroke="#f3f3f3" stroke-width="1"/>
<line x1="754.3" x2="1250.6" y1="613.54" y2="613.54" stroke="#f3f3f3" stroke-width="1"/>
<line x1="754.3" x2="1250.6" y1="603.57" y2="603.57" stroke="#f3f3f3" stroke-width="1"/>
<line x1="754.3" x2="1250.6" y1="593.60" y2="593.60" stroke="#e6e6e6" stroke-width="1"/>
<line x1="754.30" x2="754.30" y1="593.6" y2="842.9" stroke="#e3e3e3" stroke-width="1"/>
<line x1="768.48" x2="768.48" y1="593.6" y2="842.9" stroke="#e3e3e3" stroke-width="1"/>
<line x1="782.66" x2="782.66" y1="593.6" y2="842.9" stroke="#e3e3e3" stroke-width="1"/>
<line x1="796.84" x2="796.84" y1="593.6" y2="842.9" stroke="#e3e3e3" stroke-width="1"/>
<line x1="811.02" x2="811.02" y1="593.6" y2="842.9" stroke="#e3e3e3" stroke-width="1"/>
<line x1="825.20" x2="825.20" y1="593.6" y2="842.9" stroke="#e3e3e3" stroke-width="1"/>
<line x1="839.38" x2="839.38" y1="593.6" y2="842.9" stroke="#e3e3e3" stroke-width="1"/>
<line x1="853.56" x2="853.56" y1="593.6" y2="842.9" stroke="#e3e3e3" stroke-width="1"/>
<line x1="867.74" x2="867.74" y1="593.6" y2="842.9" stroke="#e3e3e3" stroke-width="1"/>
<line x1="881.92" x2="881.92" y1="593.6" y2="842.9" stroke="#e3e3e3" stroke-width="1"/>
<line x1="896.10" x2="896.10" y1="593.6" y2="842.9" stroke="#e3e3e3" stroke-width="1"/>
<line x1="910.28" x2="910.28" y1="593.6" y2="842.9" stroke="#e3e3e3" stroke-width="1"/>
<line x1="924.46" x2="924.46" y1="593.6" y2="842.9" stroke="#e3e3e3" stroke-width="1"/>
<line x1="938.64" x2="938.64" y1="593.6" y2="842.9" stroke="#e3e3e3" stroke-width="1"/>
<line x1="952.82" x2="952.82" y1="593.6" y2="842.9" stroke="#e3e3e3" stroke-width="1"/>
<line x1="967.00" x2="967.00" y1="593.6" y2="842.9" stroke="#e3e3e3" stroke-width="1"/>
<line x1="981.18" x2="981.18" y1="593.6" y2="842.9" stroke="#e3e3e3" stroke-width="1"/>
<line x1="995.36" x2="995.36" y1="593.6" y2="842.9" stroke="#e3e3e3" stroke-width="1"/>
<line x1="1009.54" x2="1009.54" y1="593.6" y2="842.9" stroke="#e3e3e3" stroke-width="1"/>
<line x1="1023.72" x2="1023.72" y1="593.6" y2="842.9" stroke="#e3e3e3" stroke-width="1"/>
<line x1="1037.90" x2="1037.90" y1="593.6" y2="842.9" stroke="#e3e3e3" stroke-width="1"/>
<line x1="1052.08" x2="1052.08" y1="593.6" y2="842.9" stroke="#e3e3e3" stroke-width="1"/>
<line x1="1066.26" x2="1066.26" y1="593.6" y2="842.9" stroke="#e3e3e3" stroke-width="1"/>
<line x1="1080.44" x2="1080.44" y1="593.6" y2="842.9" stroke="#e3e3e3" stroke-width="1"/>
<line x1="1094.62" x2="1094.62" y1="593.6" y2="842.9" stroke="#e3e3e3" stroke-width="1"/>
<line x1="1108.80" x2="1108.80" y1="593.6" y2="842.9" stroke="#e3e3e3" stroke-width="1"/>
<line x1="1122.98" x2="1122.98" y1="593.6" y2="842.9" stroke="#e3e3e3" stroke-width="1"/>
<line x1="1137.16" x2="1137.16" y1="593.6" y2="842.9" stroke="#e3e3e3" stroke-width="1"/>
<line x1="1151.34" x2="1151.34" y1="593.6" y2="842.9" stroke="#e3e3e3" stroke-width="1"/>
<line x1="1165.52" x2="1165.52" y1="593.6" y2="842.9" stroke="#e3e3e3" stroke-width="1"/>
<line x1="1179.70" x2="1179.70" y1="593.6" y2="842.9" stroke="#e3e3e3" stroke-width="1"/>
<line x1="1193.88" x2="1193.88" y1="593.6" y2="842.9" stroke="#e3e3e3" stroke-width="1"/>
<line x1="1208.06" x2="1208.06" y1="593.6" y2="842.9" stroke="#e3e3e3" stroke-width="1"/>
<line x1="1222.24" x2="1222.24" y1="593.6" y2="842.9" stroke="#e3e3e3" stroke-width="1"/>
<line x1="1236.42" x2="1236.42" y1="593.6" y2="842.9" stroke="#e3e3e3" stroke-width="1"/>
<line x1="1250.60" x2="1250.60" y1="593.6" y2="842.9" stroke="#e3e3e3" stroke-width="1"/>
<line x1="754.3" x2="754.3" y1="593.6" y2="842.9" stroke="#d4d4d4" stroke-width="1.2"/>
<line x1="754.3" x2="1250.6" y1="842.9" y2="842.9" stroke="#d4d4d4" stroke-width="1.2"/>
<rect x="886.6" y="594.2" width="157.0" height="248.7" fill="#a0a0a0" fill-opacity="0.36" stroke="#8a8a8a" stroke-width="1.4"/>
<line x1="754.3" x2="1250.6" y1="597.6" y2="597.6" stroke="#f07070" stroke-opacity="0.7" stroke-width="1.3"/>
<line x1="754.3" x2="1250.6" y1="618.3" y2="618.3" stroke="#8c8c8c" stroke-width="1.4"/>
<line x1="995" x2="995" y1="597" y2="842.9" stroke="#e86a6a" stroke-opacity="0.85" stroke-width="1.2"/>
<circle cx="756.3" cy="776.8" r="2.55" fill="#1f6aa8" stroke="#2f5a50" stroke-width="0.9"/>
<circle cx="757.6" cy="772.7" r="2.55" fill="#1f6aa8" stroke="#2f5a50" stroke-width="0.9"/>
<circle cx="760.7" cy="764.6" r="2.55" fill="#1f6aa8" stroke="#2f5a50" stroke-width="0.9"/>
<circle cx="761" cy="761" r="2.55" fill="#1f6aa8" stroke="#2f5a50" stroke-width="0.9"/>
<circle cx="765.9" cy="757.1" r="2.55" fill="#1f6aa8" stroke="#2f5a50" stroke-width="0.9"/>
<circle cx="770.1" cy="753.5" r="2.55" fill="#1f6aa8" stroke="#2f5a50" stroke-width="0.9"/>
<circle cx="777.1" cy="749.6" r="2.55" fill="#1f6aa8" stroke="#2f5a50" stroke-width="0.9"/>
<circle cx="777.6" cy="745.7" r="2.55" fill="#1f6aa8" stroke="#2f5a50" stroke-width="0.9"/>
<circle cx="780.2" cy="737.9" r="2.55" fill="#1f6aa8" stroke="#2f5a50" stroke-width="0.9"/>
<circle cx="783" cy="734" r="2.55" fill="#1f6aa8" stroke="#2f5a50" stroke-width="0.9"/>
<circle cx="788.7" cy="730.4" r="2.55" fill="#1f6aa8" stroke="#2f5a50" stroke-width="0.9"/>
<circle cx="791.3" cy="721.3" r="2.55" fill="#1f6aa8" stroke="#2f5a50" stroke-width="0.9"/>
<circle cx="793.1" cy="713.3" r="2.55" fill="#1f6aa8" stroke="#2f5a50" stroke-width="0.9"/>
<circle cx="794.4" cy="709.7" r="2.55" fill="#1f6aa8" stroke="#2f5a50" stroke-width="0.9"/>
<circle cx="798.1" cy="705.8" r="2.55" fill="#1f6aa8" stroke="#2f5a50" stroke-width="0.9"/>
<circle cx="798.8" cy="701.9" r="2.55" fill="#1f6aa8" stroke="#2f5a50" stroke-width="0.9"/>
<circle cx="800.9" cy="698" r="2.55" fill="#1f6aa8" stroke="#2f5a50" stroke-width="0.9"/>
<circle cx="801.7" cy="694.1" r="2.55" fill="#1f6aa8" stroke="#2f5a50" stroke-width="0.9"/>
<circle cx="802.7" cy="690.2" r="2.55" fill="#1f6aa8" stroke="#2f5a50" stroke-width="0.9"/>
<circle cx="803.5" cy="686.3" r="2.55" fill="#1f6aa8" stroke="#2f5a50" stroke-width="0.9"/>
<circle cx="807.9" cy="682.2" r="2.55" fill="#1f6aa8" stroke="#2f5a50" stroke-width="0.9"/>
<circle cx="809.5" cy="678.3" r="2.55" fill="#1f6aa8" stroke="#2f5a50" stroke-width="0.9"/>
<circle cx="812.1" cy="674.7" r="2.55" fill="#1f6aa8" stroke="#2f5a50" stroke-width="0.9"/>
<circle cx="824.2" cy="671.1" r="2.55" fill="#1f6aa8" stroke="#2f5a50" stroke-width="0.9"/>
<circle cx="825.3" cy="666.9" r="2.55" fill="#1f6aa8" stroke="#2f5a50" stroke-width="0.9"/>
<circle cx="829.2" cy="663" r="2.55" fill="#1f6aa8" stroke="#2f5a50" stroke-width="0.9"/>
<circle cx="836.7" cy="659.4" r="2.55" fill="#1f6aa8" stroke="#2f5a50" stroke-width="0.9"/>
<circle cx="838.5" cy="655.5" r="2.55" fill="#1f6aa8" stroke="#2f5a50" stroke-width="0.9"/>
<circle cx="840.3" cy="651.6" r="2.55" fill="#1f6aa8" stroke="#2f5a50" stroke-width="0.9"/>
<circle cx="848.9" cy="647.7" r="2.55" fill="#1f6aa8" stroke="#2f5a50" stroke-width="0.9"/>
<circle cx="850.9" cy="643.8" r="2.55" fill="#1f6aa8" stroke="#2f5a50" stroke-width="0.9"/>
<circle cx="852" cy="635.8" r="2.55" fill="#1f6aa8" stroke="#2f5a50" stroke-width="0.9"/>
<circle cx="852.5" cy="632.4" r="2.55" fill="#1f6aa8" stroke="#2f5a50" stroke-width="0.9"/>
<circle cx="866.2" cy="628.3" r="2.55" fill="#1f6aa8" stroke="#2f5a50" stroke-width="0.9"/>
<circle cx="867.5" cy="624.7" r="2.55" fill="#1f6aa8" stroke="#2f5a50" stroke-width="0.9"/>
<circle cx="877.9" cy="620.8" r="2.55" fill="#1f6aa8" stroke="#2f5a50" stroke-width="0.9"/>
<circle cx="886.7" cy="616.9" r="2.55" fill="#1f6aa8" stroke="#2f5a50" stroke-width="0.9"/>
<circle cx="897.6" cy="612.7" r="2.55" fill="#1f6aa8" stroke="#2f5a50" stroke-width="0.9"/>
<circle cx="899.2" cy="609.1" r="2.55" fill="#1f6aa8" stroke="#2f5a50" stroke-width="0.9"/>
<circle cx="908.7" cy="605" r="2.55" fill="#1f6aa8" stroke="#2f5a50" stroke-width="0.9"/>
<circle cx="946.3" cy="601.3" r="2.55" fill="#1f6aa8" stroke="#2f5a50" stroke-width="0.9"/>
<circle cx="1016.9" cy="609.8" r="2.55" fill="#1f6aa8" stroke="#2f5a50" stroke-width="0.9"/>
<circle cx="1033.1" cy="622.1" r="2.55" fill="#1f6aa8" stroke="#2f5a50" stroke-width="0.9"/>
<circle cx="1042.5" cy="618.1" r="2.55" fill="#1f6aa8" stroke="#2f5a50" stroke-width="0.9"/>
<circle cx="1049.8" cy="630.8" r="2.55" fill="#1f6aa8" stroke="#2f5a50" stroke-width="0.9"/>
<circle cx="1100.4" cy="642.9" r="2.55" fill="#1f6aa8" stroke="#2f5a50" stroke-width="0.9"/>
<circle cx="1106.3" cy="655.3" r="2.55" fill="#1f6aa8" stroke="#2f5a50" stroke-width="0.9"/>
<circle cx="1123.8" cy="667.6" r="2.55" fill="#1f6aa8" stroke="#2f5a50" stroke-width="0.9"/>
<circle cx="1126.5" cy="679.8" r="2.55" fill="#1f6aa8" stroke="#2f5a50" stroke-width="0.9"/>
<circle cx="1170.9" cy="704.5" r="2.55" fill="#1f6aa8" stroke="#2f5a50" stroke-width="0.9"/>
<circle cx="1180" cy="716.6" r="2.55" fill="#1f6aa8" stroke="#2f5a50" stroke-width="0.9"/>
<circle cx="1193.5" cy="729.3" r="2.55" fill="#1f6aa8" stroke="#2f5a50" stroke-width="0.9"/>
<circle cx="1198.9" cy="741.4" r="2.55" fill="#1f6aa8" stroke="#2f5a50" stroke-width="0.9"/>
<circle cx="1229" cy="753.8" r="2.55" fill="#1f6aa8" stroke="#2f5a50" stroke-width="0.9"/>
<circle cx="1237.9" cy="766.2" r="2.55" fill="#1f6aa8" stroke="#2f5a50" stroke-width="0.9"/>
<circle cx="1238.5" cy="778.3" r="2.55" fill="#1f6aa8" stroke="#2f5a50" stroke-width="0.9"/>
<circle cx="1249" cy="790.7" r="2.55" fill="#1f6aa8" stroke="#2f5a50" stroke-width="0.9"/>
<circle cx="995" cy="597.6" r="2.5" fill="#e01818"/>
<line x1="890" x2="1039" y1="814.4" y2="814.4" stroke="#777" stroke-width="1.2"/>
<path d="M887.8 814.4 L893.5 812.2 L893.5 816.6 Z" fill="#777"/><path d="M1041.3 814.4 L1035.6 812.2 L1035.6 816.6 Z" fill="#777"/>
<text x="993.2" y="614.6" font-family="Liberation Serif, serif" font-size="11.5" fill="#e8505a" text-anchor="end">OAA = 99.6%</text>
<text x="969.8" y="792.2" font-family="Liberation Serif, serif" font-size="11.8" fill="#444" text-anchor="middle">OAA ≥ 97.5%</text>
<text x="970" y="807" font-family="Liberation Serif, serif" font-size="11.8" fill="#444" text-anchor="middle">(≙ Error Tolerance ≤ 2.5%)</text>
<text x="956.5" y="832.4" font-family="Liberation Serif, serif" font-size="12" fill="#444" text-anchor="middle">Normalized Range = 0.13</text>
<text x="745.2" y="596.8" font-family="Liberation Serif, serif" font-size="9.3" fill="#808080" text-anchor="end">100</text>
<text x="745.2" y="646.7" font-family="Liberation Serif, serif" font-size="9.3" fill="#808080" text-anchor="end">95</text>
<text x="745.2" y="696.5" font-family="Liberation Serif, serif" font-size="9.3" fill="#808080" text-anchor="end">90</text>
<text x="745.2" y="746.4" font-family="Liberation Serif, serif" font-size="9.3" fill="#808080" text-anchor="end">85</text>
<text x="745.2" y="796.2" font-family="Liberation Serif, serif" font-size="9.3" fill="#808080" text-anchor="end">80</text>
<text x="745.2" y="846.1" font-family="Liberation Serif, serif" font-size="9.3" fill="#808080" text-anchor="end">75</text>
<text x="754.3" y="859.4" font-family="Liberation Serif, serif" font-size="10" fill="#808080" text-anchor="middle" textLength="32.6" lengthAdjust="spacingAndGlyphs">−2200.0</text>
<text x="825.2" y="859.4" font-family="Liberation Serif, serif" font-size="10" fill="#808080" text-anchor="middle" textLength="32.6" lengthAdjust="spacingAndGlyphs">−2150.0</text>
<text x="896.1" y="859.4" font-family="Liberation Serif, serif" font-size="10" fill="#808080" text-anchor="middle" textLength="32.6" lengthAdjust="spacingAndGlyphs">−2100.0</text>
<text x="967.0" y="859.4" font-family="Liberation Serif, serif" font-size="10" fill="#808080" text-anchor="middle" textLength="32.6" lengthAdjust="spacingAndGlyphs">−2050.0</text>
<text x="1037.9" y="859.4" font-family="Liberation Serif, serif" font-size="10" fill="#808080" text-anchor="middle" textLength="32.6" lengthAdjust="spacingAndGlyphs">−2000.0</text>
<text x="1108.8" y="859.4" font-family="Liberation Serif, serif" font-size="10" fill="#808080" text-anchor="middle" textLength="32.6" lengthAdjust="spacingAndGlyphs">−1950.0</text>
<text x="1179.7" y="859.4" font-family="Liberation Serif, serif" font-size="10" fill="#808080" text-anchor="middle" textLength="32.6" lengthAdjust="spacingAndGlyphs">−1900.0</text>
<text x="1250.6" y="859.4" font-family="Liberation Serif, serif" font-size="10" fill="#808080" text-anchor="middle" textLength="32.6" lengthAdjust="spacingAndGlyphs">−1850.0</text>
<text x="1002.9" y="860.2" font-family="Liberation Serif, serif" font-size="12" fill="#f02020" text-anchor="middle" textLength="33" lengthAdjust="spacingAndGlyphs">−2030.1</text>
<text x="1002" y="876.6" font-family="Liberation Serif, serif" font-size="10.8" font-weight="bold" fill="#606060" text-anchor="middle">Hyperspectral Vegetation Index 2 (HVI 2)</text>
<text transform="translate(725,718.9) rotate(-90)" font-family="Liberation Serif, serif" font-size="10.8" font-weight="bold" fill="#5a5a5a" text-anchor="middle" textLength="101.8" lengthAdjust="spacingAndGlyphs">Overall Accuracy [%]</text>
<text x="345.5" y="496.5" font-family="Liberation Serif, serif" font-size="22" fill="#000" text-anchor="middle">(<tspan font-weight="bold">a</tspan>)</text>
<text x="989.7" y="496.5" font-family="Liberation Serif, serif" font-size="22" fill="#000" text-anchor="middle">(<tspan font-weight="bold">b</tspan>)</text>
<text x="345.4" y="988.3" font-family="Liberation Serif, serif" font-size="22" fill="#000" text-anchor="middle">(<tspan font-weight="bold">c</tspan>)</text>
<text x="989.7" y="988.3" font-family="Liberation Serif, serif" font-size="22" fill="#000" text-anchor="middle">(<tspan font-weight="bold">d</tspan>)</text>
</svg></div></body></html>
